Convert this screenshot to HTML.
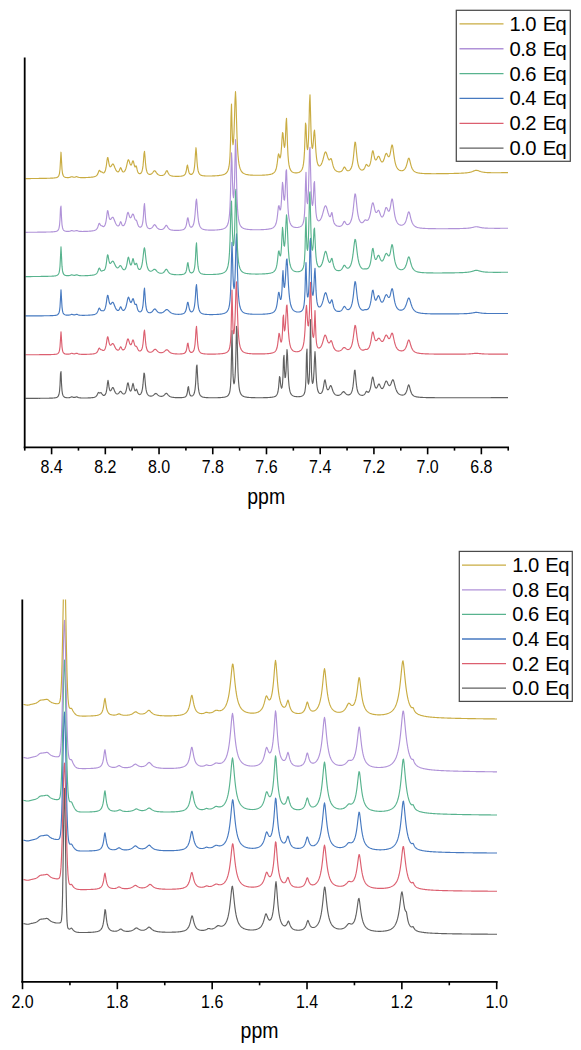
<!DOCTYPE html><html><head><meta charset="utf-8"><style>html,body{margin:0;padding:0;background:#fff;}svg{display:block;}text{font-family:"Liberation Sans",sans-serif;fill:#000;}</style></head><body>
<svg width="581" height="1050" viewBox="0 0 581 1050">
<rect width="581" height="1050" fill="#fff"/>
<defs><filter id="bl" x="-5%" y="-5%" width="110%" height="110%"><feGaussianBlur stdDeviation="0.4"/></filter><clipPath id="ct"><rect x="25" y="57" width="484" height="390"/></clipPath><clipPath id="cb"><rect x="23" y="599.4" width="475" height="382"/></clipPath></defs>
<g clip-path="url(#ct)" fill="none" stroke-width="1.15" stroke-linejoin="round" filter="url(#bl)">
<path d="M25.50,398.35 L26.00,398.35 L26.50,398.35 L27.00,398.34 L27.50,398.34 L28.00,398.34 L28.50,398.34 L29.00,398.34 L29.50,398.34 L30.00,398.34 L30.50,398.33 L31.00,398.33 L31.50,398.33 L32.00,398.33 L32.50,398.33 L33.00,398.33 L33.50,398.32 L34.00,398.32 L34.50,398.32 L35.00,398.32 L35.50,398.32 L36.00,398.32 L36.50,398.31 L37.00,398.31 L37.50,398.31 L38.00,398.31 L38.50,398.30 L39.00,398.30 L39.50,398.30 L40.00,398.30 L40.50,398.29 L41.00,398.29 L41.50,398.29 L42.00,398.28 L42.50,398.28 L43.00,398.28 L43.50,398.27 L44.00,398.27 L44.50,398.26 L45.00,398.26 L45.50,398.25 L46.00,398.25 L46.50,398.24 L47.00,398.23 L47.50,398.23 L48.00,398.22 L48.50,398.21 L49.00,398.20 L49.50,398.19 L50.00,398.17 L50.50,398.16 L51.00,398.14 L51.50,398.13 L52.00,398.10 L52.50,398.08 L53.00,398.05 L53.50,398.01 L54.00,397.97 L54.50,397.91 L55.00,397.84 L55.50,397.76 L56.00,397.64 L56.50,397.49 L57.00,397.27 L57.50,396.96 L58.00,396.47 L58.50,395.68 L59.00,394.27 L59.50,391.48 L60.00,385.34 L60.50,373.73 L61.00,371.55 L61.50,383.42 L62.00,390.59 L62.50,393.83 L63.00,395.42 L63.50,396.29 L64.00,396.81 L64.50,397.14 L65.00,397.36 L65.50,397.50 L66.00,397.61 L66.50,397.68 L67.00,397.72 L67.50,397.74 L68.00,397.75 L68.50,397.73 L69.00,397.68 L69.50,397.60 L70.00,397.47 L70.50,397.28 L71.00,397.05 L71.50,396.88 L72.00,396.88 L72.50,397.04 L73.00,397.24 L73.50,397.37 L74.00,397.43 L74.50,397.42 L75.00,397.33 L75.50,397.17 L76.00,396.97 L76.50,396.85 L77.00,396.92 L77.50,397.14 L78.00,397.38 L78.50,397.57 L79.00,397.70 L79.50,397.80 L80.00,397.86 L80.50,397.90 L81.00,397.94 L81.50,397.96 L82.00,397.97 L82.50,397.98 L83.00,397.99 L83.50,397.99 L84.00,397.99 L84.50,397.99 L85.00,397.99 L85.50,397.98 L86.00,397.98 L86.50,397.97 L87.00,397.96 L87.50,397.95 L88.00,397.93 L88.50,397.91 L89.00,397.89 L89.50,397.87 L90.00,397.85 L90.50,397.82 L91.00,397.78 L91.50,397.74 L92.00,397.69 L92.50,397.63 L93.00,397.56 L93.50,397.48 L94.00,397.37 L94.50,397.23 L95.00,397.04 L95.50,396.79 L96.00,396.43 L96.50,395.91 L97.00,395.17 L97.50,394.14 L98.00,393.03 L98.50,392.42 L99.00,392.61 L99.50,393.01 L100.00,393.07 L100.50,392.77 L101.00,392.61 L101.50,393.10 L102.00,393.96 L102.50,394.70 L103.00,395.16 L103.50,395.37 L104.00,395.38 L104.50,395.20 L105.00,394.81 L105.50,394.12 L106.00,392.96 L106.50,390.99 L107.00,387.70 L107.50,383.11 L108.00,380.40 L108.50,382.95 L109.00,386.94 L109.50,389.48 L110.00,390.63 L110.50,390.84 L111.00,390.41 L111.50,389.54 L112.00,388.48 L112.50,387.65 L113.00,387.50 L113.50,388.20 L114.00,389.42 L114.50,390.75 L115.00,391.90 L115.50,392.78 L116.00,393.40 L116.50,393.78 L117.00,393.97 L117.50,393.96 L118.00,393.77 L118.50,393.38 L119.00,392.81 L119.50,392.14 L120.00,391.55 L120.50,391.31 L121.00,391.54 L121.50,392.13 L122.00,392.81 L122.50,393.40 L123.00,393.81 L123.50,394.02 L124.00,394.02 L124.50,393.80 L125.00,393.31 L125.50,392.45 L126.00,391.09 L126.50,389.03 L127.00,386.27 L127.50,383.58 L128.00,382.75 L128.50,384.48 L129.00,387.13 L129.50,389.28 L130.00,390.57 L130.50,391.05 L131.00,390.77 L131.50,389.63 L132.00,387.52 L132.50,384.83 L133.00,383.40 L133.50,384.84 L134.00,387.57 L134.50,389.67 L135.00,390.69 L135.50,390.68 L136.00,389.86 L136.50,389.21 L137.00,390.08 L137.50,391.81 L138.00,393.19 L138.50,394.02 L139.00,394.45 L139.50,394.60 L140.00,394.51 L140.50,394.19 L141.00,393.60 L141.50,392.60 L142.00,390.99 L142.50,388.37 L143.00,384.18 L143.50,378.24 L144.00,373.00 L144.50,373.73 L145.00,379.56 L145.50,385.29 L146.00,389.19 L146.50,391.65 L147.00,393.21 L147.50,394.23 L148.00,394.91 L148.50,395.38 L149.00,395.70 L149.50,395.91 L150.00,396.04 L150.50,396.11 L151.00,396.11 L151.50,396.06 L152.00,395.94 L152.50,395.75 L153.00,395.48 L153.50,395.13 L154.00,394.69 L154.50,394.20 L155.00,393.75 L155.50,393.45 L156.00,393.42 L156.50,393.68 L157.00,394.13 L157.50,394.64 L158.00,395.11 L158.50,395.51 L159.00,395.82 L159.50,396.05 L160.00,396.20 L160.50,396.30 L161.00,396.34 L161.50,396.33 L162.00,396.26 L162.50,396.13 L163.00,395.93 L163.50,395.65 L164.00,395.27 L164.50,394.79 L165.00,394.24 L165.50,393.72 L166.00,393.36 L166.50,393.33 L167.00,393.64 L167.50,394.17 L168.00,394.78 L168.50,395.34 L169.00,395.81 L169.50,396.19 L170.00,396.49 L170.50,396.73 L171.00,396.92 L171.50,397.07 L172.00,397.19 L172.50,397.29 L173.00,397.37 L173.50,397.43 L174.00,397.48 L174.50,397.53 L175.00,397.57 L175.50,397.60 L176.00,397.62 L176.50,397.64 L177.00,397.65 L177.50,397.67 L178.00,397.67 L178.50,397.68 L179.00,397.68 L179.50,397.67 L180.00,397.66 L180.50,397.65 L181.00,397.63 L181.50,397.61 L182.00,397.58 L182.50,397.54 L183.00,397.48 L183.50,397.41 L184.00,397.31 L184.50,397.18 L185.00,396.99 L185.50,396.70 L186.00,396.25 L186.50,395.47 L187.00,394.05 L187.50,391.34 L188.00,387.30 L188.50,386.67 L189.00,390.49 L189.50,393.41 L190.00,394.88 L190.50,395.60 L191.00,395.92 L191.50,396.02 L192.00,395.96 L192.50,395.75 L193.00,395.37 L193.50,394.76 L194.00,393.80 L194.50,392.24 L195.00,389.60 L195.50,384.92 L196.00,376.80 L196.50,366.45 L197.00,364.98 L197.50,374.74 L198.00,383.67 L198.50,388.96 L199.00,391.95 L199.50,393.73 L200.00,394.84 L200.50,395.57 L201.00,396.08 L201.50,396.45 L202.00,396.72 L202.50,396.92 L203.00,397.08 L203.50,397.21 L204.00,397.31 L204.50,397.39 L205.00,397.46 L205.50,397.51 L206.00,397.56 L206.50,397.60 L207.00,397.63 L207.50,397.66 L208.00,397.68 L208.50,397.70 L209.00,397.71 L209.50,397.73 L210.00,397.74 L210.50,397.75 L211.00,397.75 L211.50,397.76 L212.00,397.76 L212.50,397.76 L213.00,397.76 L213.50,397.76 L214.00,397.76 L214.50,397.76 L215.00,397.75 L215.50,397.74 L216.00,397.74 L216.50,397.73 L217.00,397.71 L217.50,397.70 L218.00,397.69 L218.50,397.67 L219.00,397.65 L219.50,397.63 L220.00,397.60 L220.50,397.57 L221.00,397.54 L221.50,397.50 L222.00,397.46 L222.50,397.41 L223.00,397.35 L223.50,397.29 L224.00,397.21 L224.50,397.12 L225.00,397.01 L225.50,396.88 L226.00,396.72 L226.50,396.53 L227.00,396.28 L227.50,395.96 L228.00,395.54 L228.50,394.94 L229.00,394.08 L229.50,392.75 L230.00,390.51 L230.50,386.28 L231.00,377.06 L231.50,355.18 L232.00,330.50 L232.50,354.42 L233.00,374.66 L233.50,382.02 L234.00,383.79 L234.50,382.32 L235.00,377.49 L235.50,367.33 L236.00,348.55 L236.50,326.35 L237.00,329.86 L237.50,353.63 L238.00,371.28 L238.50,381.08 L239.00,386.56 L239.50,389.81 L240.00,391.87 L240.50,393.25 L241.00,394.21 L241.50,394.90 L242.00,395.42 L242.50,395.82 L243.00,396.13 L243.50,396.38 L244.00,396.58 L244.50,396.75 L245.00,396.88 L245.50,397.00 L246.00,397.10 L246.50,397.18 L247.00,397.25 L247.50,397.31 L248.00,397.37 L248.50,397.41 L249.00,397.46 L249.50,397.49 L250.00,397.52 L250.50,397.55 L251.00,397.58 L251.50,397.60 L252.00,397.62 L252.50,397.64 L253.00,397.65 L253.50,397.66 L254.00,397.68 L254.50,397.69 L255.00,397.69 L255.50,397.70 L256.00,397.71 L256.50,397.71 L257.00,397.72 L257.50,397.72 L258.00,397.72 L258.50,397.73 L259.00,397.73 L259.50,397.73 L260.00,397.72 L260.50,397.72 L261.00,397.72 L261.50,397.72 L262.00,397.71 L262.50,397.70 L263.00,397.70 L263.50,397.69 L264.00,397.68 L264.50,397.67 L265.00,397.66 L265.50,397.65 L266.00,397.63 L266.50,397.62 L267.00,397.60 L267.50,397.58 L268.00,397.55 L268.50,397.53 L269.00,397.50 L269.50,397.47 L270.00,397.43 L270.50,397.39 L271.00,397.34 L271.50,397.28 L272.00,397.22 L272.50,397.14 L273.00,397.05 L273.50,396.94 L274.00,396.81 L274.50,396.64 L275.00,396.43 L275.50,396.16 L276.00,395.80 L276.50,395.29 L277.00,394.54 L277.50,393.39 L278.00,391.49 L278.50,388.18 L279.00,382.62 L279.50,376.62 L280.00,377.51 L280.50,383.12 L281.00,386.89 L281.50,388.19 L282.00,387.43 L282.50,384.03 L283.00,375.44 L283.50,358.55 L284.00,355.31 L284.50,370.55 L285.00,377.56 L285.50,377.27 L286.00,371.35 L286.50,359.88 L287.00,349.61 L287.50,354.94 L288.00,368.86 L288.50,379.31 L289.00,385.52 L289.50,389.18 L290.00,391.44 L290.50,392.91 L291.00,393.91 L291.50,394.62 L292.00,395.13 L292.50,395.52 L293.00,395.81 L293.50,396.04 L294.00,396.22 L294.50,396.36 L295.00,396.46 L295.50,396.55 L296.00,396.61 L296.50,396.66 L297.00,396.68 L297.50,396.70 L298.00,396.70 L298.50,396.69 L299.00,396.66 L299.50,396.62 L300.00,396.56 L300.50,396.47 L301.00,396.36 L301.50,396.22 L302.00,396.03 L302.50,395.78 L303.00,395.44 L303.50,394.95 L304.00,394.23 L304.50,393.07 L305.00,391.03 L305.50,386.92 L306.00,377.18 L306.50,354.34 L307.00,349.12 L307.50,372.30 L308.00,382.11 L308.50,384.19 L309.00,381.71 L309.50,372.69 L310.00,348.55 L310.50,319.50 L311.00,348.31 L311.50,372.08 L312.00,380.85 L312.50,383.45 L313.00,382.77 L313.50,379.05 L314.00,371.26 L314.50,359.24 L315.00,351.69 L315.50,359.67 L316.00,372.39 L316.50,381.14 L317.00,386.24 L317.50,389.24 L318.00,391.06 L318.50,392.19 L319.00,392.89 L319.50,393.30 L320.00,393.49 L320.50,393.49 L321.00,393.29 L321.50,392.86 L322.00,392.15 L322.50,391.03 L323.00,389.33 L323.50,386.87 L324.00,383.68 L324.50,380.67 L325.00,379.76 L325.50,381.65 L326.00,384.62 L326.50,387.13 L327.00,388.76 L327.50,389.61 L328.00,389.81 L328.50,389.49 L329.00,388.70 L329.50,387.57 L330.00,386.36 L330.50,385.57 L331.00,385.65 L331.50,386.66 L332.00,388.21 L332.50,389.81 L333.00,391.21 L333.50,392.33 L334.00,393.20 L334.50,393.85 L335.00,394.34 L335.50,394.71 L336.00,394.98 L336.50,395.17 L337.00,395.30 L337.50,395.37 L338.00,395.38 L338.50,395.34 L339.00,395.24 L339.50,395.08 L340.00,394.84 L340.50,394.52 L341.00,394.09 L341.50,393.57 L342.00,392.96 L342.50,392.35 L343.00,391.86 L343.50,391.65 L344.00,391.80 L344.50,392.24 L345.00,392.82 L345.50,393.40 L346.00,393.90 L346.50,394.30 L347.00,394.59 L347.50,394.77 L348.00,394.87 L348.50,394.89 L349.00,394.81 L349.50,394.64 L350.00,394.36 L350.50,393.94 L351.00,393.32 L351.50,392.42 L352.00,391.10 L352.50,389.13 L353.00,386.16 L353.50,381.77 L354.00,375.97 L354.50,370.72 L355.00,370.11 L355.50,374.76 L356.00,380.71 L356.50,385.43 L357.00,388.66 L357.50,390.81 L358.00,392.26 L358.50,393.25 L359.00,393.95 L359.50,394.44 L360.00,394.79 L360.50,395.04 L361.00,395.20 L361.50,395.30 L362.00,395.34 L362.50,395.32 L363.00,395.23 L363.50,395.07 L364.00,394.80 L364.50,394.38 L365.00,393.74 L365.50,392.81 L366.00,391.77 L366.50,391.24 L367.00,391.55 L367.50,392.09 L368.00,392.34 L368.50,392.22 L369.00,391.74 L369.50,390.89 L370.00,389.61 L370.50,387.79 L371.00,385.32 L371.50,382.26 L372.00,379.11 L372.50,377.09 L373.00,377.33 L373.50,379.53 L374.00,382.37 L374.50,384.84 L375.00,386.60 L375.50,387.65 L376.00,388.09 L376.50,388.00 L377.00,387.42 L377.50,386.45 L378.00,385.27 L378.50,384.28 L379.00,383.97 L379.50,384.51 L380.00,385.61 L380.50,386.80 L381.00,387.75 L381.50,388.36 L382.00,388.59 L382.50,388.46 L383.00,387.99 L383.50,387.18 L384.00,386.05 L384.50,384.66 L385.00,383.17 L385.50,381.85 L386.00,381.05 L386.50,381.01 L387.00,381.67 L387.50,382.76 L388.00,383.91 L388.50,384.86 L389.00,385.47 L389.50,385.67 L390.00,385.43 L390.50,384.75 L391.00,383.68 L391.50,382.31 L392.00,380.91 L392.50,379.89 L393.00,379.69 L393.50,380.48 L394.00,382.09 L394.50,384.08 L395.00,386.08 L395.50,387.88 L396.00,389.39 L396.50,390.63 L397.00,391.63 L397.50,392.43 L398.00,393.07 L398.50,393.59 L399.00,394.00 L399.50,394.33 L400.00,394.59 L400.50,394.80 L401.00,394.94 L401.50,395.04 L402.00,395.10 L402.50,395.10 L403.00,395.05 L403.50,394.94 L404.00,394.75 L404.50,394.46 L405.00,394.05 L405.50,393.46 L406.00,392.64 L406.50,391.50 L407.00,389.98 L407.50,388.10 L408.00,386.17 L408.50,384.92 L409.00,385.08 L409.50,386.56 L410.00,388.60 L410.50,390.52 L411.00,392.07 L411.50,393.25 L412.00,394.12 L412.50,394.78 L413.00,395.28 L413.50,395.67 L414.00,395.97 L414.50,396.21 L415.00,396.41 L415.50,396.57 L416.00,396.70 L416.50,396.82 L417.00,396.91 L417.50,397.00 L418.00,397.07 L418.50,397.13 L419.00,397.18 L419.50,397.23 L420.00,397.28 L420.50,397.31 L421.00,397.35 L421.50,397.38 L422.00,397.41 L422.50,397.43 L423.00,397.46 L423.50,397.48 L424.00,397.50 L424.50,397.51 L425.00,397.53 L425.50,397.54 L426.00,397.56 L426.50,397.57 L427.00,397.58 L427.50,397.59 L428.00,397.60 L428.50,397.61 L429.00,397.62 L429.50,397.63 L430.00,397.64 L430.50,397.65 L431.00,397.65 L431.50,397.66 L432.00,397.67 L432.50,397.67 L433.00,397.68 L433.50,397.68 L434.00,397.69 L434.50,397.69 L435.00,397.70 L435.50,397.70 L436.00,397.71 L436.50,397.71 L437.00,397.71 L437.50,397.72 L438.00,397.72 L438.50,397.72 L439.00,397.72 L439.50,397.73 L440.00,397.73 L440.50,397.73 L441.00,397.73 L441.50,397.74 L442.00,397.74 L442.50,397.74 L443.00,397.74 L443.50,397.74 L444.00,397.74 L444.50,397.74 L445.00,397.75 L445.50,397.75 L446.00,397.75 L446.50,397.75 L447.00,397.75 L447.50,397.75 L448.00,397.75 L448.50,397.75 L449.00,397.75 L449.50,397.75 L450.00,397.75 L450.50,397.75 L451.00,397.75 L451.50,397.75 L452.00,397.76 L452.50,397.76 L453.00,397.76 L453.50,397.76 L454.00,397.76 L454.50,397.76 L455.00,397.76 L455.50,397.76 L456.00,397.76 L456.50,397.76 L457.00,397.76 L457.50,397.75 L458.00,397.75 L458.50,397.75 L459.00,397.75 L459.50,397.75 L460.00,397.75 L460.50,397.75 L461.00,397.75 L461.50,397.75 L462.00,397.75 L462.50,397.75 L463.00,397.75 L463.50,397.75 L464.00,397.75 L464.50,397.75 L465.00,397.75 L465.50,397.75 L466.00,397.75 L466.50,397.75 L467.00,397.75 L467.50,397.74 L468.00,397.74 L468.50,397.74 L469.00,397.74 L469.50,397.74 L470.00,397.74 L470.50,397.74 L471.00,397.74 L471.50,397.74 L472.00,397.74 L472.50,397.74 L473.00,397.74 L473.50,397.73 L474.00,397.73 L474.50,397.73 L475.00,397.73 L475.50,397.73 L476.00,397.73 L476.50,397.73 L477.00,397.73 L477.50,397.73 L478.00,397.73 L478.50,397.72 L479.00,397.72 L479.50,397.72 L480.00,397.72 L480.50,397.72 L481.00,397.72 L481.50,397.72 L482.00,397.72 L482.50,397.72 L483.00,397.71 L483.50,397.71 L484.00,397.71 L484.50,397.71 L485.00,397.71 L485.50,397.71 L486.00,397.71 L486.50,397.71 L487.00,397.70 L487.50,397.70 L488.00,397.70 L488.50,397.70 L489.00,397.70 L489.50,397.70 L490.00,397.70 L490.50,397.70 L491.00,397.69 L491.50,397.69 L492.00,397.69 L492.50,397.69 L493.00,397.69 L493.50,397.69 L494.00,397.69 L494.50,397.68 L495.00,397.68 L495.50,397.68 L496.00,397.68 L496.50,397.68 L497.00,397.68 L497.50,397.68 L498.00,397.68 L498.50,397.67 L499.00,397.67 L499.50,397.67 L500.00,397.67 L500.50,397.67 L501.00,397.67 L501.50,397.67 L502.00,397.66 L502.50,397.66 L503.00,397.66 L503.50,397.66 L504.00,397.66 L504.50,397.66 L505.00,397.66 L505.50,397.66 L506.00,397.66 L506.50,397.66 L507.00,397.66 L507.50,397.66 L508.00,397.66" stroke="#606060"/>
<path d="M25.50,354.74 L26.00,354.74 L26.50,354.73 L27.00,354.73 L27.50,354.73 L28.00,354.73 L28.50,354.73 L29.00,354.73 L29.50,354.73 L30.00,354.73 L30.50,354.72 L31.00,354.72 L31.50,354.72 L32.00,354.72 L32.50,354.72 L33.00,354.72 L33.50,354.72 L34.00,354.71 L34.50,354.71 L35.00,354.71 L35.50,354.71 L36.00,354.71 L36.50,354.71 L37.00,354.70 L37.50,354.70 L38.00,354.70 L38.50,354.70 L39.00,354.70 L39.50,354.69 L40.00,354.69 L40.50,354.69 L41.00,354.69 L41.50,354.68 L42.00,354.68 L42.50,354.68 L43.00,354.67 L43.50,354.67 L44.00,354.67 L44.50,354.66 L45.00,354.66 L45.50,354.65 L46.00,354.65 L46.50,354.64 L47.00,354.64 L47.50,354.63 L48.00,354.63 L48.50,354.62 L49.00,354.61 L49.50,354.60 L50.00,354.59 L50.50,354.58 L51.00,354.57 L51.50,354.55 L52.00,354.54 L52.50,354.52 L53.00,354.49 L53.50,354.47 L54.00,354.43 L54.50,354.39 L55.00,354.34 L55.50,354.28 L56.00,354.20 L56.50,354.09 L57.00,353.94 L57.50,353.73 L58.00,353.41 L58.50,352.90 L59.00,352.03 L59.50,350.37 L60.00,346.86 L60.50,339.28 L61.00,331.90 L61.50,339.27 L62.00,346.84 L62.50,350.34 L63.00,351.98 L63.50,352.85 L64.00,353.34 L64.50,353.65 L65.00,353.85 L65.50,353.98 L66.00,354.07 L66.50,354.13 L67.00,354.16 L67.50,354.18 L68.00,354.17 L68.50,354.15 L69.00,354.10 L69.50,354.01 L70.00,353.88 L70.50,353.69 L71.00,353.46 L71.50,353.29 L72.00,353.29 L72.50,353.45 L73.00,353.64 L73.50,353.77 L74.00,353.83 L74.50,353.82 L75.00,353.74 L75.50,353.58 L76.00,353.38 L76.50,353.26 L77.00,353.33 L77.50,353.55 L78.00,353.78 L78.50,353.96 L79.00,354.08 L79.50,354.17 L80.00,354.23 L80.50,354.27 L81.00,354.30 L81.50,354.32 L82.00,354.34 L82.50,354.34 L83.00,354.35 L83.50,354.35 L84.00,354.35 L84.50,354.35 L85.00,354.34 L85.50,354.33 L86.00,354.32 L86.50,354.31 L87.00,354.30 L87.50,354.28 L88.00,354.27 L88.50,354.25 L89.00,354.23 L89.50,354.20 L90.00,354.18 L90.50,354.15 L91.00,354.11 L91.50,354.07 L92.00,354.03 L92.50,353.97 L93.00,353.91 L93.50,353.83 L94.00,353.74 L94.50,353.63 L95.00,353.49 L95.50,353.30 L96.00,353.06 L96.50,352.72 L97.00,352.24 L97.50,351.55 L98.00,350.56 L98.50,349.33 L99.00,348.30 L99.50,348.18 L100.00,348.84 L100.50,349.48 L101.00,349.75 L101.50,349.74 L102.00,349.83 L102.50,350.15 L103.00,350.45 L103.50,350.52 L104.00,350.33 L104.50,349.84 L105.00,348.99 L105.50,347.67 L106.00,345.67 L106.50,342.81 L107.00,339.33 L107.50,336.76 L108.00,337.04 L108.50,339.61 L109.00,342.32 L109.50,344.15 L110.00,345.09 L110.50,345.34 L111.00,345.10 L111.50,344.57 L112.00,343.96 L112.50,343.55 L113.00,343.56 L113.50,344.08 L114.00,344.98 L114.50,346.06 L115.00,347.14 L115.50,348.08 L116.00,348.85 L116.50,349.44 L117.00,349.86 L117.50,350.11 L118.00,350.17 L118.50,350.03 L119.00,349.60 L119.50,348.82 L120.00,347.73 L120.50,346.88 L121.00,347.08 L121.50,348.09 L122.00,349.05 L122.50,349.65 L123.00,349.89 L123.50,349.85 L124.00,349.56 L124.50,349.03 L125.00,348.20 L125.50,347.03 L126.00,345.44 L126.50,343.45 L127.00,341.26 L127.50,339.46 L128.00,338.83 L128.50,339.61 L129.00,341.25 L129.50,342.92 L130.00,344.15 L130.50,344.75 L131.00,344.66 L131.50,343.85 L132.00,342.39 L132.50,340.74 L133.00,339.92 L133.50,340.72 L134.00,342.60 L134.50,344.47 L135.00,345.73 L135.50,346.27 L136.00,346.30 L136.50,346.43 L137.00,347.24 L137.50,348.47 L138.00,349.54 L138.50,350.29 L139.00,350.75 L139.50,350.98 L140.00,351.02 L140.50,350.88 L141.00,350.52 L141.50,349.87 L142.00,348.76 L142.50,346.91 L143.00,343.77 L143.50,338.69 L144.00,332.38 L144.50,330.07 L145.00,334.87 L145.50,341.09 L146.00,345.41 L146.50,348.04 L147.00,349.63 L147.50,350.64 L148.00,351.28 L148.50,351.70 L149.00,351.97 L149.50,352.13 L150.00,352.21 L150.50,352.21 L151.00,352.13 L151.50,351.98 L152.00,351.75 L152.50,351.43 L153.00,351.01 L153.50,350.50 L154.00,349.96 L154.50,349.48 L155.00,349.21 L155.50,349.25 L156.00,349.60 L156.50,350.12 L157.00,350.69 L157.50,351.21 L158.00,351.65 L158.50,352.00 L159.00,352.26 L159.50,352.46 L160.00,352.59 L160.50,352.67 L161.00,352.70 L161.50,352.69 L162.00,352.62 L162.50,352.51 L163.00,352.34 L163.50,352.10 L164.00,351.79 L164.50,351.39 L165.00,350.93 L165.50,350.43 L166.00,349.99 L166.50,349.72 L167.00,349.72 L167.50,349.99 L168.00,350.45 L168.50,350.98 L169.00,351.51 L169.50,351.97 L170.00,352.35 L170.50,352.67 L171.00,352.92 L171.50,353.13 L172.00,353.29 L172.50,353.43 L173.00,353.54 L173.50,353.63 L174.00,353.70 L174.50,353.76 L175.00,353.82 L175.50,353.86 L176.00,353.89 L176.50,353.92 L177.00,353.94 L177.50,353.96 L178.00,353.97 L178.50,353.97 L179.00,353.97 L179.50,353.96 L180.00,353.95 L180.50,353.93 L181.00,353.91 L181.50,353.87 L182.00,353.82 L182.50,353.76 L183.00,353.67 L183.50,353.55 L184.00,353.39 L184.50,353.15 L185.00,352.80 L185.50,352.25 L186.00,351.35 L186.50,349.77 L187.00,347.07 L187.50,343.69 L188.00,343.21 L188.50,346.32 L189.00,349.16 L189.50,350.81 L190.00,351.70 L190.50,352.16 L191.00,352.38 L191.50,352.42 L192.00,352.32 L192.50,352.07 L193.00,351.63 L193.50,350.92 L194.00,349.75 L194.50,347.79 L195.00,344.34 L195.50,338.30 L196.00,329.80 L196.50,326.36 L197.00,333.27 L197.50,341.16 L198.00,346.07 L198.50,348.86 L199.00,350.50 L199.50,351.52 L200.00,352.19 L200.50,352.65 L201.00,352.98 L201.50,353.22 L202.00,353.41 L202.50,353.55 L203.00,353.66 L203.50,353.75 L204.00,353.82 L204.50,353.88 L205.00,353.92 L205.50,353.96 L206.00,353.99 L206.50,354.02 L207.00,354.04 L207.50,354.06 L208.00,354.08 L208.50,354.09 L209.00,354.10 L209.50,354.11 L210.00,354.11 L210.50,354.11 L211.00,354.12 L211.50,354.12 L212.00,354.11 L212.50,354.11 L213.00,354.11 L213.50,354.10 L214.00,354.09 L214.50,354.08 L215.00,354.07 L215.50,354.06 L216.00,354.04 L216.50,354.03 L217.00,354.01 L217.50,353.99 L218.00,353.96 L218.50,353.94 L219.00,353.91 L219.50,353.88 L220.00,353.84 L220.50,353.80 L221.00,353.75 L221.50,353.70 L222.00,353.64 L222.50,353.58 L223.00,353.50 L223.50,353.42 L224.00,353.32 L224.50,353.20 L225.00,353.07 L225.50,352.91 L226.00,352.71 L226.50,352.48 L227.00,352.18 L227.50,351.81 L228.00,351.32 L228.50,350.65 L229.00,349.71 L229.50,348.30 L230.00,345.97 L230.50,341.71 L231.00,332.71 L231.50,312.12 L232.00,290.00 L232.50,310.72 L233.00,328.21 L233.50,333.72 L234.00,333.37 L234.50,328.95 L235.00,319.94 L235.50,305.28 L236.00,287.94 L236.50,281.85 L237.00,294.82 L237.50,312.84 L238.00,326.28 L238.50,334.87 L239.00,340.30 L239.50,343.84 L240.00,346.22 L240.50,347.90 L241.00,349.11 L241.50,350.02 L242.00,350.71 L242.50,351.25 L243.00,351.68 L243.50,352.02 L244.00,352.30 L244.50,352.54 L245.00,352.73 L245.50,352.90 L246.00,353.04 L246.50,353.16 L247.00,353.26 L247.50,353.35 L248.00,353.43 L248.50,353.49 L249.00,353.55 L249.50,353.61 L250.00,353.65 L250.50,353.69 L251.00,353.73 L251.50,353.76 L252.00,353.79 L252.50,353.81 L253.00,353.83 L253.50,353.85 L254.00,353.87 L254.50,353.88 L255.00,353.90 L255.50,353.91 L256.00,353.92 L256.50,353.92 L257.00,353.93 L257.50,353.93 L258.00,353.93 L258.50,353.94 L259.00,353.93 L259.50,353.93 L260.00,353.93 L260.50,353.92 L261.00,353.92 L261.50,353.91 L262.00,353.90 L262.50,353.89 L263.00,353.88 L263.50,353.86 L264.00,353.85 L264.50,353.83 L265.00,353.81 L265.50,353.79 L266.00,353.76 L266.50,353.73 L267.00,353.70 L267.50,353.67 L268.00,353.63 L268.50,353.58 L269.00,353.53 L269.50,353.48 L270.00,353.41 L270.50,353.34 L271.00,353.25 L271.50,353.15 L272.00,353.04 L272.50,352.90 L273.00,352.74 L273.50,352.54 L274.00,352.29 L274.50,351.98 L275.00,351.58 L275.50,351.05 L276.00,350.32 L276.50,349.29 L277.00,347.77 L277.50,345.46 L278.00,341.95 L278.50,337.26 L279.00,333.42 L279.50,333.87 L280.00,337.48 L280.50,340.64 L281.00,342.09 L281.50,341.70 L282.00,338.86 L282.50,331.52 L283.00,317.74 L283.50,315.11 L284.00,326.27 L284.50,330.88 L285.00,329.46 L285.50,323.73 L286.00,314.69 L286.50,306.00 L287.00,304.98 L287.50,313.19 L288.00,323.85 L288.50,332.37 L289.00,338.25 L289.50,342.19 L290.00,344.86 L290.50,346.71 L291.00,348.04 L291.50,349.00 L292.00,349.72 L292.50,350.27 L293.00,350.68 L293.50,351.00 L294.00,351.25 L294.50,351.43 L295.00,351.56 L295.50,351.66 L296.00,351.71 L296.50,351.73 L297.00,351.72 L297.50,351.68 L298.00,351.60 L298.50,351.49 L299.00,351.33 L299.50,351.13 L300.00,350.86 L300.50,350.52 L301.00,350.08 L301.50,349.51 L302.00,348.76 L302.50,347.74 L303.00,346.34 L303.50,344.34 L304.00,341.39 L304.50,336.90 L305.00,329.96 L305.50,319.89 L306.00,308.99 L306.50,305.44 L307.00,312.13 L307.50,320.63 L308.00,325.50 L308.50,325.87 L309.00,321.28 L309.50,310.32 L310.00,293.18 L310.50,282.40 L311.00,293.60 L311.50,312.35 L312.00,325.54 L312.50,333.03 L313.00,336.71 L313.50,337.40 L314.00,334.15 L314.50,323.26 L315.00,310.50 L315.50,324.21 L316.00,337.25 L316.50,342.99 L317.00,345.63 L317.50,346.96 L318.00,347.66 L318.50,347.98 L319.00,348.04 L319.50,347.91 L320.00,347.59 L320.50,347.09 L321.00,346.39 L321.50,345.46 L322.00,344.28 L322.50,342.83 L323.00,341.12 L323.50,339.24 L324.00,337.39 L324.50,335.89 L325.00,335.11 L325.50,335.26 L326.00,336.25 L326.50,337.76 L327.00,339.38 L327.50,340.85 L328.00,341.98 L328.50,342.69 L329.00,342.94 L329.50,342.71 L330.00,342.05 L330.50,341.18 L331.00,340.61 L331.50,340.91 L332.00,342.18 L332.50,343.92 L333.00,345.62 L333.50,347.04 L334.00,348.14 L334.50,348.98 L335.00,349.61 L335.50,350.09 L336.00,350.44 L336.50,350.70 L337.00,350.88 L337.50,351.01 L338.00,351.07 L338.50,351.08 L339.00,351.04 L339.50,350.94 L340.00,350.78 L340.50,350.54 L341.00,350.23 L341.50,349.83 L342.00,349.34 L342.50,348.78 L343.00,348.21 L343.50,347.73 L344.00,347.46 L344.50,347.48 L345.00,347.75 L345.50,348.18 L346.00,348.63 L346.50,349.02 L347.00,349.31 L347.50,349.50 L348.00,349.56 L348.50,349.51 L349.00,349.33 L349.50,349.03 L350.00,348.58 L350.50,347.94 L351.00,347.07 L351.50,345.90 L352.00,344.33 L352.50,342.23 L353.00,339.46 L353.50,335.94 L354.00,331.84 L354.50,327.88 L355.00,325.43 L355.50,325.72 L356.00,328.59 L356.50,332.68 L357.00,336.71 L357.50,340.09 L358.00,342.73 L358.50,344.73 L359.00,346.24 L359.50,347.37 L360.00,348.23 L360.50,348.87 L361.00,349.35 L361.50,349.71 L362.00,349.95 L362.50,350.09 L363.00,350.13 L363.50,350.08 L364.00,349.92 L364.50,349.68 L365.00,349.47 L365.50,349.40 L366.00,349.44 L366.50,349.47 L367.00,349.39 L367.50,349.16 L368.00,348.78 L368.50,348.23 L369.00,347.45 L369.50,346.40 L370.00,344.97 L370.50,343.05 L371.00,340.56 L371.50,337.52 L372.00,334.39 L372.50,332.20 L373.00,331.96 L373.50,333.60 L374.00,335.99 L374.50,338.15 L375.00,339.67 L375.50,340.52 L376.00,340.78 L376.50,340.58 L377.00,340.05 L377.50,339.35 L378.00,338.68 L378.50,338.25 L379.00,338.19 L379.50,338.54 L380.00,339.19 L380.50,339.96 L381.00,340.67 L381.50,341.21 L382.00,341.48 L382.50,341.44 L383.00,341.07 L383.50,340.37 L384.00,339.36 L384.50,338.11 L385.00,336.81 L385.50,335.70 L386.00,335.07 L386.50,335.08 L387.00,335.70 L387.50,336.64 L388.00,337.60 L388.50,338.33 L389.00,338.66 L389.50,338.50 L390.00,337.81 L390.50,336.63 L391.00,335.16 L391.50,333.78 L392.00,333.07 L392.50,333.49 L393.00,335.05 L393.50,337.32 L394.00,339.75 L394.50,341.98 L395.00,343.87 L395.50,345.42 L396.00,346.65 L396.50,347.63 L397.00,348.42 L397.50,349.04 L398.00,349.54 L398.50,349.93 L399.00,350.24 L399.50,350.49 L400.00,350.67 L400.50,350.79 L401.00,350.87 L401.50,350.89 L402.00,350.86 L402.50,350.78 L403.00,350.63 L403.50,350.40 L404.00,350.08 L404.50,349.64 L405.00,349.06 L405.50,348.29 L406.00,347.29 L406.50,346.02 L407.00,344.48 L407.50,342.76 L408.00,341.14 L408.50,340.07 L409.00,339.98 L409.50,340.92 L410.00,342.54 L410.50,344.36 L411.00,346.04 L411.50,347.47 L412.00,348.63 L412.50,349.55 L413.00,350.28 L413.50,350.86 L414.00,351.33 L414.50,351.70 L415.00,352.01 L415.50,352.27 L416.00,352.49 L416.50,352.67 L417.00,352.82 L417.50,352.95 L418.00,353.07 L418.50,353.17 L419.00,353.26 L419.50,353.34 L420.00,353.41 L420.50,353.47 L421.00,353.52 L421.50,353.57 L422.00,353.61 L422.50,353.65 L423.00,353.69 L423.50,353.72 L424.00,353.75 L424.50,353.78 L425.00,353.81 L425.50,353.83 L426.00,353.85 L426.50,353.87 L427.00,353.89 L427.50,353.91 L428.00,353.93 L428.50,353.94 L429.00,353.96 L429.50,353.97 L430.00,353.98 L430.50,354.00 L431.00,354.01 L431.50,354.02 L432.00,354.03 L432.50,354.04 L433.00,354.04 L433.50,354.05 L434.00,354.06 L434.50,354.07 L435.00,354.07 L435.50,354.08 L436.00,354.09 L436.50,354.09 L437.00,354.10 L437.50,354.10 L438.00,354.11 L438.50,354.11 L439.00,354.12 L439.50,354.12 L440.00,354.12 L440.50,354.13 L441.00,354.13 L441.50,354.14 L442.00,354.14 L442.50,354.14 L443.00,354.14 L443.50,354.15 L444.00,354.15 L444.50,354.15 L445.00,354.15 L445.50,354.15 L446.00,354.16 L446.50,354.16 L447.00,354.16 L447.50,354.16 L448.00,354.16 L448.50,354.16 L449.00,354.16 L449.50,354.16 L450.00,354.16 L450.50,354.16 L451.00,354.16 L451.50,354.16 L452.00,354.16 L452.50,354.16 L453.00,354.16 L453.50,354.16 L454.00,354.16 L454.50,354.16 L455.00,354.16 L455.50,354.16 L456.00,354.16 L456.50,354.15 L457.00,354.15 L457.50,354.15 L458.00,354.15 L458.50,354.14 L459.00,354.14 L459.50,354.14 L460.00,354.13 L460.50,354.13 L461.00,354.13 L461.50,354.12 L462.00,354.12 L462.50,354.11 L463.00,354.10 L463.50,354.10 L464.00,354.09 L464.50,354.08 L465.00,354.07 L465.50,354.06 L466.00,354.04 L466.50,354.03 L467.00,354.02 L467.50,354.00 L468.00,353.98 L468.50,353.96 L469.00,353.93 L469.50,353.90 L470.00,353.87 L470.50,353.84 L471.00,353.80 L471.50,353.75 L472.00,353.70 L472.50,353.65 L473.00,353.59 L473.50,353.53 L474.00,353.47 L474.50,353.41 L475.00,353.36 L475.50,353.32 L476.00,353.30 L476.50,353.30 L477.00,353.32 L477.50,353.35 L478.00,353.40 L478.50,353.45 L479.00,353.51 L479.50,353.57 L480.00,353.63 L480.50,353.68 L481.00,353.73 L481.50,353.78 L482.00,353.82 L482.50,353.85 L483.00,353.88 L483.50,353.91 L484.00,353.93 L484.50,353.95 L485.00,353.97 L485.50,353.99 L486.00,354.00 L486.50,354.02 L487.00,354.03 L487.50,354.04 L488.00,354.05 L488.50,354.05 L489.00,354.06 L489.50,354.07 L490.00,354.07 L490.50,354.08 L491.00,354.08 L491.50,354.09 L492.00,354.09 L492.50,354.09 L493.00,354.10 L493.50,354.10 L494.00,354.10 L494.50,354.10 L495.00,354.10 L495.50,354.11 L496.00,354.11 L496.50,354.11 L497.00,354.11 L497.50,354.11 L498.00,354.11 L498.50,354.11 L499.00,354.11 L499.50,354.11 L500.00,354.11 L500.50,354.11 L501.00,354.11 L501.50,354.11 L502.00,354.11 L502.50,354.11 L503.00,354.11 L503.50,354.11 L504.00,354.11 L504.50,354.11 L505.00,354.11 L505.50,354.11 L506.00,354.11 L506.50,354.11 L507.00,354.12 L507.50,354.12 L508.00,354.12" stroke="#dc5f6f"/>
<path d="M25.50,315.93 L26.00,315.92 L26.50,315.92 L27.00,315.92 L27.50,315.91 L28.00,315.91 L28.50,315.91 L29.00,315.91 L29.50,315.90 L30.00,315.90 L30.50,315.90 L31.00,315.89 L31.50,315.89 L32.00,315.89 L32.50,315.88 L33.00,315.88 L33.50,315.88 L34.00,315.87 L34.50,315.87 L35.00,315.87 L35.50,315.86 L36.00,315.86 L36.50,315.86 L37.00,315.85 L37.50,315.85 L38.00,315.85 L38.50,315.84 L39.00,315.84 L39.50,315.83 L40.00,315.83 L40.50,315.83 L41.00,315.82 L41.50,315.82 L42.00,315.81 L42.50,315.81 L43.00,315.80 L43.50,315.80 L44.00,315.79 L44.50,315.78 L45.00,315.78 L45.50,315.77 L46.00,315.76 L46.50,315.76 L47.00,315.75 L47.50,315.74 L48.00,315.73 L48.50,315.72 L49.00,315.71 L49.50,315.70 L50.00,315.69 L50.50,315.67 L51.00,315.66 L51.50,315.64 L52.00,315.62 L52.50,315.59 L53.00,315.57 L53.50,315.53 L54.00,315.50 L54.50,315.45 L55.00,315.39 L55.50,315.32 L56.00,315.22 L56.50,315.10 L57.00,314.92 L57.50,314.68 L58.00,314.31 L58.50,313.73 L59.00,312.73 L59.50,310.84 L60.00,306.83 L60.50,298.20 L61.00,289.80 L61.50,298.19 L62.00,306.81 L62.50,310.80 L63.00,312.68 L63.50,313.66 L64.00,314.23 L64.50,314.58 L65.00,314.80 L65.50,314.95 L66.00,315.06 L66.50,315.13 L67.00,315.17 L67.50,315.19 L68.00,315.19 L68.50,315.17 L69.00,315.12 L69.50,315.04 L70.00,314.92 L70.50,314.74 L71.00,314.52 L71.50,314.35 L72.00,314.35 L72.50,314.50 L73.00,314.68 L73.50,314.81 L74.00,314.87 L74.50,314.85 L75.00,314.77 L75.50,314.61 L76.00,314.42 L76.50,314.31 L77.00,314.37 L77.50,314.58 L78.00,314.80 L78.50,314.97 L79.00,315.09 L79.50,315.17 L80.00,315.23 L80.50,315.26 L81.00,315.29 L81.50,315.30 L82.00,315.31 L82.50,315.32 L83.00,315.32 L83.50,315.32 L84.00,315.31 L84.50,315.31 L85.00,315.30 L85.50,315.29 L86.00,315.27 L86.50,315.26 L87.00,315.24 L87.50,315.22 L88.00,315.20 L88.50,315.18 L89.00,315.15 L89.50,315.12 L90.00,315.09 L90.50,315.05 L91.00,315.01 L91.50,314.96 L92.00,314.90 L92.50,314.84 L93.00,314.76 L93.50,314.68 L94.00,314.57 L94.50,314.44 L95.00,314.27 L95.50,314.05 L96.00,313.77 L96.50,313.38 L97.00,312.82 L97.50,312.02 L98.00,310.89 L98.50,309.46 L99.00,308.24 L99.50,308.10 L100.00,308.97 L100.50,309.95 L101.00,310.54 L101.50,310.71 L102.00,310.67 L102.50,310.70 L103.00,310.81 L103.50,310.77 L104.00,310.46 L104.50,309.82 L105.00,308.77 L105.50,307.17 L106.00,304.84 L106.50,301.63 L107.00,297.95 L107.50,295.35 L108.00,295.62 L108.50,298.19 L109.00,301.03 L109.50,303.03 L110.00,304.09 L110.50,304.36 L111.00,304.06 L111.50,303.42 L112.00,302.69 L112.50,302.23 L113.00,302.31 L113.50,303.02 L114.00,304.19 L114.50,305.54 L115.00,306.85 L115.50,307.98 L116.00,308.90 L116.50,309.60 L117.00,310.10 L117.50,310.40 L118.00,310.50 L118.50,310.35 L119.00,309.90 L119.50,309.04 L120.00,307.81 L120.50,306.80 L121.00,307.00 L121.50,308.17 L122.00,309.32 L122.50,310.04 L123.00,310.37 L123.50,310.40 L124.00,310.19 L124.50,309.72 L125.00,309.00 L125.50,307.95 L126.00,306.51 L126.50,304.60 L127.00,302.26 L127.50,299.75 L128.00,297.77 L128.50,297.13 L129.00,298.01 L129.50,299.70 L130.00,301.32 L130.50,302.35 L131.00,302.58 L131.50,301.98 L132.00,300.69 L132.50,299.24 L133.00,298.57 L133.50,299.39 L134.00,301.26 L134.50,303.17 L135.00,304.38 L135.50,304.58 L136.00,304.13 L136.50,304.73 L137.00,306.85 L137.50,308.85 L138.00,310.18 L138.50,310.99 L139.00,311.48 L139.50,311.74 L140.00,311.82 L140.50,311.74 L141.00,311.46 L141.50,310.91 L142.00,309.93 L142.50,308.20 L143.00,305.08 L143.50,299.47 L144.00,291.34 L144.50,287.96 L145.00,294.70 L145.50,302.19 L146.00,306.73 L146.50,309.26 L147.00,310.71 L147.50,311.58 L148.00,312.12 L148.50,312.44 L149.00,312.63 L149.50,312.71 L150.00,312.70 L150.50,312.60 L151.00,312.41 L151.50,312.13 L152.00,311.75 L152.50,311.24 L153.00,310.63 L153.50,309.96 L154.00,309.34 L154.50,308.96 L155.00,308.94 L155.50,309.31 L156.00,309.92 L156.50,310.59 L157.00,311.22 L157.50,311.74 L158.00,312.15 L158.50,312.46 L159.00,312.68 L159.50,312.82 L160.00,312.90 L160.50,312.93 L161.00,312.90 L161.50,312.82 L162.00,312.69 L162.50,312.51 L163.00,312.26 L163.50,311.95 L164.00,311.57 L164.50,311.14 L165.00,310.67 L165.50,310.21 L166.00,309.83 L166.50,309.59 L167.00,309.56 L167.50,309.76 L168.00,310.12 L168.50,310.60 L169.00,311.11 L169.50,311.61 L170.00,312.06 L170.50,312.45 L171.00,312.79 L171.50,313.07 L172.00,313.31 L172.50,313.50 L173.00,313.67 L173.50,313.81 L174.00,313.92 L174.50,314.01 L175.00,314.09 L175.50,314.16 L176.00,314.21 L176.50,314.25 L177.00,314.28 L177.50,314.30 L178.00,314.32 L178.50,314.32 L179.00,314.32 L179.50,314.30 L180.00,314.28 L180.50,314.24 L181.00,314.19 L181.50,314.12 L182.00,314.03 L182.50,313.91 L183.00,313.75 L183.50,313.53 L184.00,313.24 L184.50,312.83 L185.00,312.24 L185.50,311.37 L186.00,310.03 L186.50,308.00 L187.00,305.21 L187.50,302.56 L188.00,302.26 L188.50,304.57 L189.00,307.31 L189.50,309.31 L190.00,310.57 L190.50,311.31 L191.00,311.70 L191.50,311.83 L192.00,311.74 L192.50,311.43 L193.00,310.85 L193.50,309.90 L194.00,308.36 L194.50,305.85 L195.00,301.71 L195.50,295.18 L196.00,287.32 L196.50,284.50 L197.00,290.37 L197.50,298.20 L198.00,303.81 L198.50,307.30 L199.00,309.46 L199.50,310.86 L200.00,311.79 L200.50,312.44 L201.00,312.91 L201.50,313.26 L202.00,313.52 L202.50,313.73 L203.00,313.89 L203.50,314.02 L204.00,314.13 L204.50,314.21 L205.00,314.28 L205.50,314.34 L206.00,314.39 L206.50,314.43 L207.00,314.46 L207.50,314.49 L208.00,314.51 L208.50,314.53 L209.00,314.54 L209.50,314.56 L210.00,314.56 L210.50,314.57 L211.00,314.57 L211.50,314.57 L212.00,314.57 L212.50,314.57 L213.00,314.56 L213.50,314.55 L214.00,314.54 L214.50,314.53 L215.00,314.51 L215.50,314.50 L216.00,314.48 L216.50,314.45 L217.00,314.43 L217.50,314.40 L218.00,314.37 L218.50,314.33 L219.00,314.29 L219.50,314.24 L220.00,314.19 L220.50,314.13 L221.00,314.07 L221.50,313.99 L222.00,313.91 L222.50,313.81 L223.00,313.69 L223.50,313.56 L224.00,313.41 L224.50,313.23 L225.00,313.02 L225.50,312.76 L226.00,312.44 L226.50,312.05 L227.00,311.55 L227.50,310.90 L228.00,310.04 L228.50,308.85 L229.00,307.14 L229.50,304.54 L230.00,300.33 L230.50,293.02 L231.00,279.68 L231.50,257.75 L232.00,242.40 L232.50,256.87 L233.00,276.01 L233.50,285.85 L234.00,288.61 L234.50,286.09 L235.00,277.92 L235.50,262.41 L236.00,241.76 L236.50,233.90 L237.00,250.55 L237.50,271.91 L238.00,286.60 L238.50,295.51 L239.00,300.96 L239.50,304.45 L240.00,306.79 L240.50,308.42 L241.00,309.61 L241.50,310.49 L242.00,311.16 L242.50,311.69 L243.00,312.11 L243.50,312.45 L244.00,312.72 L244.50,312.95 L245.00,313.14 L245.50,313.31 L246.00,313.45 L246.50,313.56 L247.00,313.67 L247.50,313.75 L248.00,313.83 L248.50,313.90 L249.00,313.96 L249.50,314.01 L250.00,314.05 L250.50,314.09 L251.00,314.13 L251.50,314.16 L252.00,314.18 L252.50,314.20 L253.00,314.22 L253.50,314.24 L254.00,314.26 L254.50,314.27 L255.00,314.28 L255.50,314.28 L256.00,314.29 L256.50,314.29 L257.00,314.29 L257.50,314.29 L258.00,314.29 L258.50,314.29 L259.00,314.28 L259.50,314.28 L260.00,314.27 L260.50,314.26 L261.00,314.24 L261.50,314.23 L262.00,314.21 L262.50,314.20 L263.00,314.18 L263.50,314.15 L264.00,314.13 L264.50,314.10 L265.00,314.07 L265.50,314.03 L266.00,313.99 L266.50,313.95 L267.00,313.90 L267.50,313.85 L268.00,313.79 L268.50,313.72 L269.00,313.64 L269.50,313.56 L270.00,313.46 L270.50,313.35 L271.00,313.22 L271.50,313.07 L272.00,312.89 L272.50,312.68 L273.00,312.43 L273.50,312.12 L274.00,311.73 L274.50,311.24 L275.00,310.59 L275.50,309.73 L276.00,308.53 L276.50,306.83 L277.00,304.36 L277.50,300.86 L278.00,296.46 L278.50,292.74 L279.00,292.31 L279.50,294.96 L280.00,297.90 L280.50,299.48 L281.00,299.21 L281.50,296.46 L282.00,289.53 L282.50,276.72 L283.00,270.47 L283.50,280.29 L284.00,286.94 L284.50,287.44 L285.00,283.70 L285.50,276.65 L286.00,267.49 L286.50,259.80 L287.00,258.91 L287.50,265.91 L288.00,276.17 L288.50,285.48 L289.00,292.57 L289.50,297.66 L290.00,301.28 L290.50,303.89 L291.00,305.81 L291.50,307.24 L292.00,308.32 L292.50,309.16 L293.00,309.82 L293.50,310.34 L294.00,310.76 L294.50,311.09 L295.00,311.35 L295.50,311.57 L296.00,311.73 L296.50,311.86 L297.00,311.95 L297.50,312.00 L298.00,312.03 L298.50,312.03 L299.00,311.99 L299.50,311.92 L300.00,311.80 L300.50,311.63 L301.00,311.40 L301.50,311.08 L302.00,310.63 L302.50,309.99 L303.00,309.04 L303.50,307.56 L304.00,305.07 L304.50,300.41 L305.00,290.82 L305.50,272.45 L306.00,262.65 L306.50,279.72 L307.00,292.31 L307.50,296.89 L308.00,296.98 L308.50,293.41 L309.00,284.76 L309.50,267.37 L310.00,242.06 L310.50,238.39 L311.00,262.60 L311.50,281.60 L312.00,291.11 L312.50,295.03 L313.00,295.32 L313.50,292.15 L314.00,284.52 L314.50,272.98 L315.00,268.26 L315.50,278.31 L316.00,290.16 L316.50,297.67 L317.00,301.93 L317.50,304.37 L318.00,305.78 L318.50,306.57 L319.00,306.94 L319.50,307.02 L320.00,306.85 L320.50,306.44 L321.00,305.82 L321.50,304.95 L322.00,303.81 L322.50,302.40 L323.00,300.70 L323.50,298.75 L324.00,296.68 L324.50,294.74 L325.00,293.29 L325.50,292.67 L326.00,293.04 L326.50,294.29 L327.00,296.08 L327.50,298.03 L328.00,299.85 L328.50,301.37 L329.00,302.48 L329.50,303.11 L330.00,303.16 L330.50,302.53 L331.00,301.23 L331.50,299.85 L332.00,299.83 L332.50,301.71 L333.00,304.24 L333.50,306.36 L334.00,307.90 L334.50,308.97 L335.00,309.73 L335.50,310.27 L336.00,310.66 L336.50,310.95 L337.00,311.16 L337.50,311.31 L338.00,311.40 L338.50,311.43 L339.00,311.42 L339.50,311.35 L340.00,311.22 L340.50,311.02 L341.00,310.73 L341.50,310.32 L342.00,309.76 L342.50,309.04 L343.00,308.17 L343.50,307.27 L344.00,306.59 L344.50,306.41 L345.00,306.79 L345.50,307.50 L346.00,308.25 L346.50,308.86 L347.00,309.29 L347.50,309.54 L348.00,309.62 L348.50,309.56 L349.00,309.36 L349.50,309.00 L350.00,308.48 L350.50,307.75 L351.00,306.77 L351.50,305.44 L352.00,303.66 L352.50,301.28 L353.00,298.12 L353.50,294.07 L354.00,289.29 L354.50,284.60 L355.00,281.68 L355.50,282.03 L356.00,285.45 L356.50,290.26 L357.00,294.94 L357.50,298.81 L358.00,301.81 L358.50,304.07 L359.00,305.76 L359.50,307.03 L360.00,307.99 L360.50,308.71 L361.00,309.25 L361.50,309.65 L362.00,309.93 L362.50,310.11 L363.00,310.17 L363.50,310.14 L364.00,309.99 L364.50,309.78 L365.00,309.58 L365.50,309.53 L366.00,309.60 L366.50,309.65 L367.00,309.59 L367.50,309.39 L368.00,309.03 L368.50,308.49 L369.00,307.72 L369.50,306.65 L370.00,305.18 L370.50,303.15 L371.00,300.42 L371.50,296.95 L372.00,293.18 L372.50,290.42 L373.00,290.12 L373.50,292.23 L374.00,295.20 L374.50,297.75 L375.00,299.41 L375.50,300.18 L376.00,300.17 L376.50,299.50 L377.00,298.34 L377.50,296.99 L378.00,295.91 L378.50,295.58 L379.00,296.20 L379.50,297.51 L380.00,299.04 L380.50,300.41 L381.00,301.43 L381.50,302.04 L382.00,302.24 L382.50,302.06 L383.00,301.52 L383.50,300.63 L384.00,299.45 L384.50,298.07 L385.00,296.66 L385.50,295.47 L386.00,294.76 L386.50,294.67 L387.00,295.15 L387.50,295.96 L388.00,296.79 L388.50,297.37 L389.00,297.52 L389.50,297.09 L390.00,295.99 L390.50,294.23 L391.00,291.99 L391.50,289.81 L392.00,288.63 L392.50,289.19 L393.00,291.46 L393.50,294.62 L394.00,297.82 L394.50,300.62 L395.00,302.88 L395.50,304.65 L396.00,306.03 L396.50,307.10 L397.00,307.93 L397.50,308.58 L398.00,309.08 L398.50,309.46 L399.00,309.75 L399.50,309.96 L400.00,310.10 L400.50,310.18 L401.00,310.19 L401.50,310.14 L402.00,310.03 L402.50,309.84 L403.00,309.57 L403.50,309.20 L404.00,308.72 L404.50,308.10 L405.00,307.31 L405.50,306.33 L406.00,305.12 L406.50,303.68 L407.00,302.07 L407.50,300.41 L408.00,298.98 L408.50,298.10 L409.00,298.06 L409.50,298.87 L410.00,300.30 L410.50,302.02 L411.00,303.74 L411.50,305.31 L412.00,306.66 L412.50,307.79 L413.00,308.71 L413.50,309.48 L414.00,310.10 L414.50,310.62 L415.00,311.05 L415.50,311.41 L416.00,311.72 L416.50,311.98 L417.00,312.20 L417.50,312.39 L418.00,312.55 L418.50,312.70 L419.00,312.82 L419.50,312.94 L420.00,313.03 L420.50,313.12 L421.00,313.20 L421.50,313.26 L422.00,313.32 L422.50,313.38 L423.00,313.43 L423.50,313.47 L424.00,313.51 L424.50,313.55 L425.00,313.58 L425.50,313.61 L426.00,313.64 L426.50,313.67 L427.00,313.69 L427.50,313.71 L428.00,313.73 L428.50,313.75 L429.00,313.77 L429.50,313.78 L430.00,313.80 L430.50,313.81 L431.00,313.82 L431.50,313.83 L432.00,313.84 L432.50,313.85 L433.00,313.86 L433.50,313.87 L434.00,313.87 L434.50,313.88 L435.00,313.89 L435.50,313.89 L436.00,313.90 L436.50,313.90 L437.00,313.91 L437.50,313.91 L438.00,313.91 L438.50,313.92 L439.00,313.92 L439.50,313.92 L440.00,313.92 L440.50,313.92 L441.00,313.92 L441.50,313.92 L442.00,313.93 L442.50,313.93 L443.00,313.93 L443.50,313.93 L444.00,313.92 L444.50,313.92 L445.00,313.92 L445.50,313.92 L446.00,313.92 L446.50,313.92 L447.00,313.92 L447.50,313.92 L448.00,313.91 L448.50,313.91 L449.00,313.91 L449.50,313.91 L450.00,313.90 L450.50,313.90 L451.00,313.90 L451.50,313.89 L452.00,313.89 L452.50,313.88 L453.00,313.88 L453.50,313.88 L454.00,313.87 L454.50,313.87 L455.00,313.86 L455.50,313.86 L456.00,313.85 L456.50,313.84 L457.00,313.84 L457.50,313.83 L458.00,313.82 L458.50,313.82 L459.00,313.81 L459.50,313.80 L460.00,313.79 L460.50,313.78 L461.00,313.77 L461.50,313.76 L462.00,313.75 L462.50,313.73 L463.00,313.72 L463.50,313.71 L464.00,313.69 L464.50,313.67 L465.00,313.66 L465.50,313.63 L466.00,313.61 L466.50,313.59 L467.00,313.56 L467.50,313.53 L468.00,313.50 L468.50,313.46 L469.00,313.42 L469.50,313.37 L470.00,313.32 L470.50,313.26 L471.00,313.19 L471.50,313.12 L472.00,313.04 L472.50,312.95 L473.00,312.86 L473.50,312.77 L474.00,312.67 L474.50,312.58 L475.00,312.50 L475.50,312.44 L476.00,312.41 L476.50,312.40 L477.00,312.43 L477.50,312.48 L478.00,312.55 L478.50,312.63 L479.00,312.71 L479.50,312.80 L480.00,312.89 L480.50,312.97 L481.00,313.04 L481.50,313.10 L482.00,313.16 L482.50,313.21 L483.00,313.26 L483.50,313.30 L484.00,313.33 L484.50,313.36 L485.00,313.39 L485.50,313.41 L486.00,313.43 L486.50,313.45 L487.00,313.46 L487.50,313.47 L488.00,313.48 L488.50,313.49 L489.00,313.50 L489.50,313.51 L490.00,313.51 L490.50,313.52 L491.00,313.52 L491.50,313.53 L492.00,313.53 L492.50,313.53 L493.00,313.53 L493.50,313.53 L494.00,313.54 L494.50,313.54 L495.00,313.54 L495.50,313.53 L496.00,313.53 L496.50,313.53 L497.00,313.53 L497.50,313.53 L498.00,313.53 L498.50,313.53 L499.00,313.52 L499.50,313.52 L500.00,313.52 L500.50,313.52 L501.00,313.51 L501.50,313.51 L502.00,313.51 L502.50,313.51 L503.00,313.50 L503.50,313.50 L504.00,313.50 L504.50,313.49 L505.00,313.49 L505.50,313.49 L506.00,313.49 L506.50,313.50 L507.00,313.50 L507.50,313.50 L508.00,313.50" stroke="#4679c0"/>
<path d="M25.50,276.61 L26.00,276.61 L26.50,276.60 L27.00,276.60 L27.50,276.59 L28.00,276.59 L28.50,276.58 L29.00,276.58 L29.50,276.57 L30.00,276.57 L30.50,276.56 L31.00,276.56 L31.50,276.55 L32.00,276.55 L32.50,276.54 L33.00,276.54 L33.50,276.53 L34.00,276.53 L34.50,276.52 L35.00,276.51 L35.50,276.51 L36.00,276.50 L36.50,276.50 L37.00,276.49 L37.50,276.48 L38.00,276.48 L38.50,276.47 L39.00,276.47 L39.50,276.46 L40.00,276.45 L40.50,276.45 L41.00,276.44 L41.50,276.43 L42.00,276.43 L42.50,276.42 L43.00,276.41 L43.50,276.40 L44.00,276.39 L44.50,276.39 L45.00,276.38 L45.50,276.37 L46.00,276.36 L46.50,276.35 L47.00,276.34 L47.50,276.33 L48.00,276.31 L48.50,276.30 L49.00,276.29 L49.50,276.27 L50.00,276.26 L50.50,276.24 L51.00,276.22 L51.50,276.20 L52.00,276.17 L52.50,276.14 L53.00,276.11 L53.50,276.07 L54.00,276.02 L54.50,275.97 L55.00,275.90 L55.50,275.82 L56.00,275.71 L56.50,275.56 L57.00,275.37 L57.50,275.09 L58.00,274.67 L58.50,274.01 L59.00,272.88 L59.50,270.73 L60.00,266.19 L60.50,256.41 L61.00,246.90 L61.50,256.40 L62.00,266.16 L62.50,270.68 L63.00,272.81 L63.50,273.92 L64.00,274.56 L64.50,274.95 L65.00,275.21 L65.50,275.38 L66.00,275.50 L66.50,275.58 L67.00,275.63 L67.50,275.65 L68.00,275.66 L68.50,275.64 L69.00,275.60 L69.50,275.53 L70.00,275.41 L70.50,275.23 L71.00,275.02 L71.50,274.86 L72.00,274.86 L72.50,275.00 L73.00,275.17 L73.50,275.29 L74.00,275.35 L74.50,275.33 L75.00,275.25 L75.50,275.10 L76.00,274.91 L76.50,274.80 L77.00,274.86 L77.50,275.05 L78.00,275.26 L78.50,275.42 L79.00,275.53 L79.50,275.61 L80.00,275.66 L80.50,275.69 L81.00,275.71 L81.50,275.72 L82.00,275.73 L82.50,275.73 L83.00,275.73 L83.50,275.72 L84.00,275.71 L84.50,275.70 L85.00,275.69 L85.50,275.67 L86.00,275.65 L86.50,275.63 L87.00,275.61 L87.50,275.59 L88.00,275.56 L88.50,275.53 L89.00,275.50 L89.50,275.47 L90.00,275.43 L90.50,275.38 L91.00,275.34 L91.50,275.28 L92.00,275.22 L92.50,275.15 L93.00,275.07 L93.50,274.97 L94.00,274.86 L94.50,274.72 L95.00,274.54 L95.50,274.32 L96.00,274.02 L96.50,273.62 L97.00,273.05 L97.50,272.22 L98.00,271.05 L98.50,269.55 L99.00,268.26 L99.50,268.11 L100.00,269.06 L100.50,270.15 L101.00,270.85 L101.50,271.09 L102.00,270.97 L102.50,270.70 L103.00,270.54 L103.50,270.52 L104.00,270.38 L104.50,269.92 L105.00,269.03 L105.50,267.58 L106.00,265.34 L106.50,262.05 L107.00,257.94 L107.50,254.82 L108.00,255.17 L108.50,258.07 L109.00,260.89 L109.50,262.61 L110.00,263.32 L110.50,263.31 L111.00,262.85 L111.50,262.17 L112.00,261.53 L112.50,261.15 L113.00,261.21 L113.50,261.74 L114.00,262.64 L114.50,263.74 L115.00,264.86 L115.50,265.88 L116.00,266.71 L116.50,267.34 L117.00,267.73 L117.50,267.87 L118.00,267.77 L118.50,267.41 L119.00,266.85 L119.50,266.20 L120.00,265.68 L120.50,265.59 L121.00,266.02 L121.50,266.84 L122.00,267.76 L122.50,268.59 L123.00,269.22 L123.50,269.61 L124.00,269.78 L124.50,269.71 L125.00,269.36 L125.50,268.69 L126.00,267.59 L126.50,265.91 L127.00,263.53 L127.50,260.56 L128.00,257.91 L128.50,257.14 L129.00,258.74 L129.50,261.33 L130.00,263.51 L130.50,264.78 L131.00,265.04 L131.50,264.24 L132.00,262.34 L132.50,259.83 L133.00,258.50 L133.50,259.82 L134.00,262.30 L134.50,264.11 L135.00,264.73 L135.50,264.31 L136.00,263.43 L136.50,263.31 L137.00,264.57 L137.50,266.41 L138.00,267.92 L138.50,268.89 L139.00,269.40 L139.50,269.53 L140.00,269.34 L140.50,268.82 L141.00,267.93 L141.50,266.56 L142.00,264.54 L142.50,261.66 L143.00,257.75 L143.50,253.07 L144.00,248.96 L144.50,247.75 L145.00,250.35 L145.50,254.98 L146.00,259.52 L146.50,263.11 L147.00,265.72 L147.50,267.57 L148.00,268.88 L148.50,269.79 L149.00,270.43 L149.50,270.85 L150.00,271.11 L150.50,271.22 L151.00,271.21 L151.50,271.07 L152.00,270.82 L152.50,270.48 L153.00,270.07 L153.50,269.65 L154.00,269.33 L154.50,269.21 L155.00,269.35 L155.50,269.72 L156.00,270.25 L156.50,270.82 L157.00,271.37 L157.50,271.86 L158.00,272.26 L158.50,272.59 L159.00,272.85 L159.50,273.04 L160.00,273.18 L160.50,273.26 L161.00,273.30 L161.50,273.28 L162.00,273.21 L162.50,273.07 L163.00,272.84 L163.50,272.51 L164.00,272.04 L164.50,271.42 L165.00,270.67 L165.50,269.88 L166.00,269.32 L166.50,269.25 L167.00,269.73 L167.50,270.54 L168.00,271.39 L168.50,272.12 L169.00,272.71 L169.50,273.16 L170.00,273.50 L170.50,273.77 L171.00,273.97 L171.50,274.13 L172.00,274.26 L172.50,274.36 L173.00,274.44 L173.50,274.51 L174.00,274.56 L174.50,274.60 L175.00,274.64 L175.50,274.66 L176.00,274.69 L176.50,274.70 L177.00,274.71 L177.50,274.72 L178.00,274.72 L178.50,274.71 L179.00,274.71 L179.50,274.69 L180.00,274.67 L180.50,274.64 L181.00,274.61 L181.50,274.56 L182.00,274.50 L182.50,274.42 L183.00,274.32 L183.50,274.18 L184.00,273.99 L184.50,273.72 L185.00,273.31 L185.50,272.69 L186.00,271.66 L186.50,269.90 L187.00,266.91 L187.50,263.25 L188.00,262.73 L188.50,266.09 L189.00,269.22 L189.50,271.06 L190.00,272.07 L190.50,272.60 L191.00,272.86 L191.50,272.93 L192.00,272.84 L192.50,272.59 L193.00,272.14 L193.50,271.40 L194.00,270.17 L194.50,268.08 L195.00,264.33 L195.50,257.48 L196.00,247.22 L196.50,242.84 L197.00,251.49 L197.50,260.75 L198.00,266.20 L198.50,269.21 L199.00,270.94 L199.50,272.00 L200.00,272.69 L200.50,273.17 L201.00,273.50 L201.50,273.74 L202.00,273.93 L202.50,274.06 L203.00,274.17 L203.50,274.26 L204.00,274.32 L204.50,274.38 L205.00,274.42 L205.50,274.45 L206.00,274.48 L206.50,274.50 L207.00,274.52 L207.50,274.53 L208.00,274.54 L208.50,274.54 L209.00,274.54 L209.50,274.54 L210.00,274.54 L210.50,274.53 L211.00,274.52 L211.50,274.51 L212.00,274.50 L212.50,274.48 L213.00,274.46 L213.50,274.44 L214.00,274.42 L214.50,274.40 L215.00,274.37 L215.50,274.34 L216.00,274.30 L216.50,274.26 L217.00,274.22 L217.50,274.18 L218.00,274.12 L218.50,274.07 L219.00,274.00 L219.50,273.93 L220.00,273.85 L220.50,273.75 L221.00,273.65 L221.50,273.53 L222.00,273.40 L222.50,273.24 L223.00,273.05 L223.50,272.84 L224.00,272.58 L224.50,272.27 L225.00,271.90 L225.50,271.43 L226.00,270.85 L226.50,270.10 L227.00,269.12 L227.50,267.79 L228.00,265.92 L228.50,263.20 L229.00,259.05 L229.50,252.38 L230.00,241.30 L230.50,223.67 L231.00,203.73 L231.50,201.07 L232.00,218.07 L232.50,234.26 L233.00,243.06 L233.50,245.71 L234.00,243.01 L234.50,233.86 L235.00,215.77 L235.50,192.46 L236.00,189.21 L236.50,212.40 L237.00,234.88 L237.50,248.77 L238.00,256.88 L238.50,261.79 L239.00,264.93 L239.50,267.04 L240.00,268.53 L240.50,269.62 L241.00,270.43 L241.50,271.06 L242.00,271.55 L242.50,271.95 L243.00,272.27 L243.50,272.54 L244.00,272.76 L244.50,272.94 L245.00,273.10 L245.50,273.23 L246.00,273.35 L246.50,273.45 L247.00,273.53 L247.50,273.61 L248.00,273.67 L248.50,273.73 L249.00,273.78 L249.50,273.82 L250.00,273.86 L250.50,273.90 L251.00,273.93 L251.50,273.95 L252.00,273.97 L252.50,273.99 L253.00,274.01 L253.50,274.02 L254.00,274.03 L254.50,274.04 L255.00,274.05 L255.50,274.05 L256.00,274.06 L256.50,274.06 L257.00,274.06 L257.50,274.06 L258.00,274.05 L258.50,274.05 L259.00,274.04 L259.50,274.03 L260.00,274.02 L260.50,274.01 L261.00,274.00 L261.50,273.98 L262.00,273.96 L262.50,273.94 L263.00,273.92 L263.50,273.90 L264.00,273.87 L264.50,273.84 L265.00,273.81 L265.50,273.77 L266.00,273.73 L266.50,273.69 L267.00,273.64 L267.50,273.59 L268.00,273.53 L268.50,273.46 L269.00,273.38 L269.50,273.30 L270.00,273.20 L270.50,273.09 L271.00,272.96 L271.50,272.81 L272.00,272.64 L272.50,272.43 L273.00,272.18 L273.50,271.88 L274.00,271.50 L274.50,271.01 L275.00,270.38 L275.50,269.53 L276.00,268.35 L276.50,266.65 L277.00,264.15 L277.50,260.47 L278.00,255.65 L278.50,251.43 L279.00,250.93 L279.50,253.52 L280.00,255.74 L280.50,255.82 L281.00,253.07 L281.50,246.56 L282.00,235.89 L282.50,227.21 L283.00,231.08 L283.50,240.33 L284.00,245.67 L284.50,246.11 L285.00,242.15 L285.50,233.84 L286.00,222.56 L286.50,214.77 L287.00,218.61 L287.50,230.82 L288.00,242.88 L288.50,251.67 L289.00,257.58 L289.50,261.53 L290.00,264.24 L290.50,266.14 L291.00,267.52 L291.50,268.54 L292.00,269.31 L292.50,269.90 L293.00,270.36 L293.50,270.73 L294.00,271.01 L294.50,271.24 L295.00,271.41 L295.50,271.54 L296.00,271.64 L296.50,271.70 L297.00,271.74 L297.50,271.75 L298.00,271.73 L298.50,271.68 L299.00,271.60 L299.50,271.48 L300.00,271.32 L300.50,271.11 L301.00,270.84 L301.50,270.48 L302.00,269.99 L302.50,269.31 L303.00,268.34 L303.50,266.85 L304.00,264.39 L304.50,259.81 L305.00,250.10 L305.50,229.57 L306.00,217.25 L306.50,236.81 L307.00,248.42 L307.50,250.46 L308.00,246.59 L308.50,236.53 L309.00,218.01 L309.50,194.95 L310.00,191.75 L310.50,213.06 L311.00,232.94 L311.50,244.26 L312.00,249.42 L312.50,250.26 L313.00,247.09 L313.50,239.38 L314.00,229.47 L314.50,228.14 L315.00,238.54 L315.50,249.49 L316.00,256.66 L316.50,260.94 L317.00,263.52 L317.50,265.10 L318.00,266.07 L318.50,266.62 L319.00,266.88 L319.50,266.91 L320.00,266.72 L320.50,266.32 L321.00,265.71 L321.50,264.86 L322.00,263.73 L322.50,262.29 L323.00,260.51 L323.50,258.40 L324.00,256.09 L324.50,253.83 L325.00,252.07 L325.50,251.28 L326.00,251.70 L326.50,253.17 L327.00,255.22 L327.50,257.39 L328.00,259.33 L328.50,260.87 L329.00,261.93 L329.50,262.43 L330.00,262.31 L330.50,261.47 L331.00,259.96 L331.50,258.48 L332.00,258.41 L332.50,260.28 L333.00,262.89 L333.50,265.16 L334.00,266.83 L334.50,268.01 L335.00,268.85 L335.50,269.44 L336.00,269.87 L336.50,270.18 L337.00,270.40 L337.50,270.55 L338.00,270.64 L338.50,270.67 L339.00,270.64 L339.50,270.56 L340.00,270.42 L340.50,270.19 L341.00,269.87 L341.50,269.42 L342.00,268.82 L342.50,268.05 L343.00,267.11 L343.50,266.14 L344.00,265.40 L344.50,265.21 L345.00,265.60 L345.50,266.32 L346.00,267.05 L346.50,267.62 L347.00,267.99 L347.50,268.17 L348.00,268.16 L348.50,267.98 L349.00,267.65 L349.50,267.14 L350.00,266.43 L350.50,265.49 L351.00,264.25 L351.50,262.63 L352.00,260.54 L352.50,257.85 L353.00,254.45 L353.50,250.36 L354.00,245.89 L354.50,241.82 L355.00,239.42 L355.50,239.69 L356.00,242.50 L356.50,246.74 L357.00,251.18 L357.50,255.15 L358.00,258.41 L358.50,260.99 L359.00,263.00 L359.50,264.56 L360.00,265.77 L360.50,266.71 L361.00,267.44 L361.50,268.00 L362.00,268.42 L362.50,268.73 L363.00,268.92 L363.50,269.01 L364.00,269.00 L364.50,268.92 L365.00,268.83 L365.50,268.82 L366.00,268.88 L366.50,268.91 L367.00,268.83 L367.50,268.63 L368.00,268.29 L368.50,267.78 L369.00,267.04 L369.50,266.02 L370.00,264.58 L370.50,262.57 L371.00,259.78 L371.50,256.11 L372.00,251.93 L372.50,248.72 L373.00,248.36 L373.50,250.83 L374.00,254.19 L374.50,256.95 L375.00,258.69 L375.50,259.47 L376.00,259.47 L376.50,258.84 L377.00,257.77 L377.50,256.55 L378.00,255.58 L378.50,255.26 L379.00,255.75 L379.50,256.86 L380.00,258.20 L380.50,259.42 L381.00,260.35 L381.50,260.90 L382.00,261.07 L382.50,260.86 L383.00,260.29 L383.50,259.39 L384.00,258.20 L384.50,256.81 L385.00,255.41 L385.50,254.22 L386.00,253.51 L386.50,253.41 L387.00,253.86 L387.50,254.62 L388.00,255.40 L388.50,255.91 L389.00,255.95 L389.50,255.34 L390.00,253.96 L390.50,251.76 L391.00,248.91 L391.50,246.10 L392.00,244.54 L392.50,245.29 L393.00,248.21 L393.50,252.11 L394.00,255.91 L394.50,259.12 L395.00,261.65 L395.50,263.59 L396.00,265.08 L396.50,266.23 L397.00,267.12 L397.50,267.82 L398.00,268.36 L398.50,268.78 L399.00,269.11 L399.50,269.36 L400.00,269.54 L400.50,269.66 L401.00,269.71 L401.50,269.72 L402.00,269.66 L402.50,269.53 L403.00,269.33 L403.50,269.04 L404.00,268.64 L404.50,268.11 L405.00,267.41 L405.50,266.49 L406.00,265.31 L406.50,263.82 L407.00,262.03 L407.50,260.05 L408.00,258.20 L408.50,257.00 L409.00,256.89 L409.50,257.94 L410.00,259.77 L410.50,261.83 L411.00,263.77 L411.50,265.42 L412.00,266.77 L412.50,267.84 L413.00,268.70 L413.50,269.38 L414.00,269.93 L414.50,270.37 L415.00,270.73 L415.50,271.03 L416.00,271.28 L416.50,271.49 L417.00,271.67 L417.50,271.83 L418.00,271.96 L418.50,272.07 L419.00,272.17 L419.50,272.26 L420.00,272.34 L420.50,272.41 L421.00,272.46 L421.50,272.52 L422.00,272.56 L422.50,272.60 L423.00,272.64 L423.50,272.67 L424.00,272.71 L424.50,272.73 L425.00,272.76 L425.50,272.78 L426.00,272.80 L426.50,272.82 L427.00,272.83 L427.50,272.85 L428.00,272.86 L428.50,272.88 L429.00,272.89 L429.50,272.90 L430.00,272.91 L430.50,272.91 L431.00,272.92 L431.50,272.93 L432.00,272.93 L432.50,272.94 L433.00,272.94 L433.50,272.95 L434.00,272.95 L434.50,272.95 L435.00,272.96 L435.50,272.96 L436.00,272.96 L436.50,272.96 L437.00,272.96 L437.50,272.96 L438.00,272.96 L438.50,272.96 L439.00,272.96 L439.50,272.96 L440.00,272.96 L440.50,272.95 L441.00,272.95 L441.50,272.95 L442.00,272.95 L442.50,272.94 L443.00,272.94 L443.50,272.94 L444.00,272.93 L444.50,272.93 L445.00,272.93 L445.50,272.92 L446.00,272.92 L446.50,272.91 L447.00,272.91 L447.50,272.90 L448.00,272.90 L448.50,272.89 L449.00,272.89 L449.50,272.88 L450.00,272.87 L450.50,272.87 L451.00,272.86 L451.50,272.85 L452.00,272.85 L452.50,272.84 L453.00,272.83 L453.50,272.82 L454.00,272.81 L454.50,272.81 L455.00,272.80 L455.50,272.79 L456.00,272.78 L456.50,272.77 L457.00,272.75 L457.50,272.74 L458.00,272.73 L458.50,272.72 L459.00,272.70 L459.50,272.69 L460.00,272.67 L460.50,272.66 L461.00,272.64 L461.50,272.62 L462.00,272.60 L462.50,272.58 L463.00,272.56 L463.50,272.53 L464.00,272.51 L464.50,272.48 L465.00,272.44 L465.50,272.41 L466.00,272.37 L466.50,272.33 L467.00,272.28 L467.50,272.23 L468.00,272.17 L468.50,272.11 L469.00,272.04 L469.50,271.96 L470.00,271.87 L470.50,271.77 L471.00,271.66 L471.50,271.53 L472.00,271.40 L472.50,271.25 L473.00,271.09 L473.50,270.92 L474.00,270.76 L474.50,270.61 L475.00,270.47 L475.50,270.37 L476.00,270.31 L476.50,270.31 L477.00,270.35 L477.50,270.44 L478.00,270.56 L478.50,270.70 L479.00,270.85 L479.50,271.00 L480.00,271.15 L480.50,271.29 L481.00,271.41 L481.50,271.53 L482.00,271.63 L482.50,271.72 L483.00,271.80 L483.50,271.87 L484.00,271.93 L484.50,271.98 L485.00,272.02 L485.50,272.06 L486.00,272.10 L486.50,272.13 L487.00,272.16 L487.50,272.18 L488.00,272.20 L488.50,272.22 L489.00,272.23 L489.50,272.25 L490.00,272.26 L490.50,272.27 L491.00,272.28 L491.50,272.28 L492.00,272.29 L492.50,272.30 L493.00,272.30 L493.50,272.30 L494.00,272.31 L494.50,272.31 L495.00,272.31 L495.50,272.31 L496.00,272.31 L496.50,272.31 L497.00,272.31 L497.50,272.31 L498.00,272.31 L498.50,272.31 L499.00,272.30 L499.50,272.30 L500.00,272.30 L500.50,272.30 L501.00,272.29 L501.50,272.29 L502.00,272.29 L502.50,272.28 L503.00,272.28 L503.50,272.28 L504.00,272.27 L504.50,272.27 L505.00,272.26 L505.50,272.27 L506.00,272.27 L506.50,272.27 L507.00,272.27 L507.50,272.28 L508.00,272.28" stroke="#58b38e"/>
<path d="M25.50,232.32 L26.00,232.31 L26.50,232.31 L27.00,232.30 L27.50,232.30 L28.00,232.29 L28.50,232.29 L29.00,232.28 L29.50,232.28 L30.00,232.27 L30.50,232.27 L31.00,232.26 L31.50,232.26 L32.00,232.25 L32.50,232.25 L33.00,232.24 L33.50,232.23 L34.00,232.23 L34.50,232.22 L35.00,232.22 L35.50,232.21 L36.00,232.21 L36.50,232.20 L37.00,232.20 L37.50,232.19 L38.00,232.18 L38.50,232.18 L39.00,232.17 L39.50,232.16 L40.00,232.16 L40.50,232.15 L41.00,232.14 L41.50,232.14 L42.00,232.13 L42.50,232.12 L43.00,232.12 L43.50,232.11 L44.00,232.10 L44.50,232.09 L45.00,232.08 L45.50,232.07 L46.00,232.06 L46.50,232.05 L47.00,232.04 L47.50,232.03 L48.00,232.02 L48.50,232.01 L49.00,231.99 L49.50,231.98 L50.00,231.96 L50.50,231.95 L51.00,231.93 L51.50,231.90 L52.00,231.88 L52.50,231.85 L53.00,231.82 L53.50,231.78 L54.00,231.73 L54.50,231.67 L55.00,231.60 L55.50,231.52 L56.00,231.40 L56.50,231.25 L57.00,231.04 L57.50,230.73 L58.00,230.26 L58.50,229.50 L59.00,228.14 L59.50,225.44 L60.00,219.53 L60.50,208.30 L61.00,206.18 L61.50,217.66 L62.00,224.57 L62.50,227.68 L63.00,229.21 L63.50,230.04 L64.00,230.53 L64.50,230.85 L65.00,231.05 L65.50,231.19 L66.00,231.28 L66.50,231.35 L67.00,231.38 L67.50,231.40 L68.00,231.40 L68.50,231.38 L69.00,231.33 L69.50,231.25 L70.00,231.12 L70.50,230.94 L71.00,230.73 L71.50,230.56 L72.00,230.56 L72.50,230.70 L73.00,230.88 L73.50,231.00 L74.00,231.06 L74.50,231.04 L75.00,230.96 L75.50,230.80 L76.00,230.62 L76.50,230.50 L77.00,230.56 L77.50,230.76 L78.00,230.97 L78.50,231.13 L79.00,231.25 L79.50,231.33 L80.00,231.38 L80.50,231.41 L81.00,231.43 L81.50,231.44 L82.00,231.45 L82.50,231.45 L83.00,231.45 L83.50,231.44 L84.00,231.43 L84.50,231.42 L85.00,231.41 L85.50,231.40 L86.00,231.38 L86.50,231.36 L87.00,231.34 L87.50,231.31 L88.00,231.29 L88.50,231.26 L89.00,231.23 L89.50,231.19 L90.00,231.16 L90.50,231.11 L91.00,231.06 L91.50,231.01 L92.00,230.94 L92.50,230.87 L93.00,230.79 L93.50,230.69 L94.00,230.57 L94.50,230.42 L95.00,230.23 L95.50,229.99 L96.00,229.67 L96.50,229.23 L97.00,228.61 L97.50,227.72 L98.00,226.44 L98.50,224.83 L99.00,223.47 L99.50,223.31 L100.00,224.23 L100.50,225.21 L101.00,225.71 L101.50,225.80 L102.00,225.86 L102.50,226.16 L103.00,226.52 L103.50,226.65 L104.00,226.47 L104.50,225.95 L105.00,225.03 L105.50,223.56 L106.00,221.30 L106.50,217.98 L107.00,213.81 L107.50,210.63 L108.00,210.99 L108.50,214.01 L109.00,216.96 L109.50,218.78 L110.00,219.53 L110.50,219.53 L111.00,219.03 L111.50,218.30 L112.00,217.60 L112.50,217.23 L113.00,217.39 L113.50,218.11 L114.00,219.24 L114.50,220.55 L115.00,221.85 L115.50,223.01 L116.00,223.99 L116.50,224.77 L117.00,225.35 L117.50,225.74 L118.00,225.92 L118.50,225.86 L119.00,225.46 L119.50,224.56 L120.00,223.08 L120.50,221.67 L121.00,221.92 L121.50,223.47 L122.00,224.80 L122.50,225.51 L123.00,225.76 L123.50,225.66 L124.00,225.28 L124.50,224.59 L125.00,223.58 L125.50,222.15 L126.00,220.23 L126.50,217.82 L127.00,215.19 L127.50,213.06 L128.00,212.31 L128.50,213.17 L129.00,214.87 L129.50,216.50 L130.00,217.54 L130.50,217.85 L131.00,217.48 L131.50,216.55 L132.00,215.33 L132.50,214.30 L133.00,214.00 L133.50,214.70 L134.00,216.16 L134.50,217.83 L135.00,219.21 L135.50,219.97 L136.00,220.10 L136.50,220.35 L137.00,221.75 L137.50,223.61 L138.00,225.07 L138.50,226.04 L139.00,226.65 L139.50,227.01 L140.00,227.17 L140.50,227.14 L141.00,226.90 L141.50,226.38 L142.00,225.41 L142.50,223.67 L143.00,220.54 L143.50,214.93 L144.00,206.93 L144.50,203.65 L145.00,210.24 L145.50,217.72 L146.00,222.33 L146.50,224.93 L147.00,226.44 L147.50,227.35 L148.00,227.93 L148.50,228.28 L149.00,228.49 L149.50,228.59 L150.00,228.59 L150.50,228.50 L151.00,228.32 L151.50,228.03 L152.00,227.61 L152.50,227.06 L153.00,226.38 L153.50,225.64 L154.00,224.99 L154.50,224.67 L155.00,224.82 L155.50,225.39 L156.00,226.16 L156.50,226.94 L157.00,227.61 L157.50,228.14 L158.00,228.56 L158.50,228.88 L159.00,229.11 L159.50,229.28 L160.00,229.39 L160.50,229.45 L161.00,229.47 L161.50,229.45 L162.00,229.37 L162.50,229.24 L163.00,229.02 L163.50,228.71 L164.00,228.27 L164.50,227.66 L165.00,226.89 L165.50,226.06 L166.00,225.43 L166.50,225.36 L167.00,225.90 L167.50,226.75 L168.00,227.59 L168.50,228.28 L169.00,228.81 L169.50,229.20 L170.00,229.50 L170.50,229.72 L171.00,229.88 L171.50,230.01 L172.00,230.11 L172.50,230.18 L173.00,230.24 L173.50,230.29 L174.00,230.32 L174.50,230.35 L175.00,230.37 L175.50,230.38 L176.00,230.38 L176.50,230.39 L177.00,230.38 L177.50,230.37 L178.00,230.36 L178.50,230.33 L179.00,230.31 L179.50,230.27 L180.00,230.23 L180.50,230.18 L181.00,230.11 L181.50,230.04 L182.00,229.94 L182.50,229.81 L183.00,229.65 L183.50,229.44 L184.00,229.16 L184.50,228.77 L185.00,228.22 L185.50,227.38 L186.00,226.09 L186.50,224.07 L187.00,221.14 L187.50,218.17 L188.00,217.79 L188.50,220.34 L189.00,223.19 L189.50,225.15 L190.00,226.29 L190.50,226.90 L191.00,227.15 L191.50,227.13 L192.00,226.89 L192.50,226.38 L193.00,225.56 L193.50,224.30 L194.00,222.35 L194.50,219.35 L195.00,214.75 L195.50,208.24 L196.00,201.39 L196.50,199.15 L197.00,203.93 L197.50,211.12 L198.00,216.96 L198.50,220.93 L199.00,223.53 L199.50,225.27 L200.00,226.46 L200.50,227.31 L201.00,227.92 L201.50,228.38 L202.00,228.73 L202.50,229.00 L203.00,229.22 L203.50,229.39 L204.00,229.53 L204.50,229.64 L205.00,229.73 L205.50,229.81 L206.00,229.87 L206.50,229.93 L207.00,229.97 L207.50,230.01 L208.00,230.04 L208.50,230.06 L209.00,230.08 L209.50,230.09 L210.00,230.10 L210.50,230.11 L211.00,230.11 L211.50,230.11 L212.00,230.11 L212.50,230.11 L213.00,230.10 L213.50,230.09 L214.00,230.07 L214.50,230.06 L215.00,230.04 L215.50,230.02 L216.00,229.99 L216.50,229.96 L217.00,229.93 L217.50,229.89 L218.00,229.85 L218.50,229.80 L219.00,229.75 L219.50,229.69 L220.00,229.62 L220.50,229.55 L221.00,229.46 L221.50,229.36 L222.00,229.25 L222.50,229.12 L223.00,228.97 L223.50,228.80 L224.00,228.59 L224.50,228.34 L225.00,228.05 L225.50,227.68 L226.00,227.23 L226.50,226.66 L227.00,225.91 L227.50,224.93 L228.00,223.57 L228.50,221.64 L229.00,218.76 L229.50,214.19 L230.00,206.52 L230.50,193.10 L231.00,171.51 L231.50,152.71 L232.00,161.49 L232.50,181.80 L233.00,194.06 L233.50,197.71 L234.00,194.11 L234.50,182.10 L235.00,159.92 L235.50,139.69 L236.00,150.28 L236.50,177.13 L237.00,196.72 L237.50,208.15 L238.00,214.83 L238.50,218.94 L239.00,221.62 L239.50,223.46 L240.00,224.76 L240.50,225.73 L241.00,226.46 L241.50,227.02 L242.00,227.47 L242.50,227.83 L243.00,228.12 L243.50,228.37 L244.00,228.57 L244.50,228.74 L245.00,228.88 L245.50,229.01 L246.00,229.11 L246.50,229.21 L247.00,229.28 L247.50,229.35 L248.00,229.41 L248.50,229.47 L249.00,229.51 L249.50,229.55 L250.00,229.59 L250.50,229.62 L251.00,229.65 L251.50,229.67 L252.00,229.69 L252.50,229.71 L253.00,229.72 L253.50,229.73 L254.00,229.74 L254.50,229.75 L255.00,229.75 L255.50,229.76 L256.00,229.76 L256.50,229.76 L257.00,229.76 L257.50,229.75 L258.00,229.75 L258.50,229.74 L259.00,229.73 L259.50,229.72 L260.00,229.71 L260.50,229.70 L261.00,229.68 L261.50,229.67 L262.00,229.65 L262.50,229.63 L263.00,229.60 L263.50,229.58 L264.00,229.55 L264.50,229.52 L265.00,229.48 L265.50,229.45 L266.00,229.40 L266.50,229.36 L267.00,229.31 L267.50,229.25 L268.00,229.18 L268.50,229.11 L269.00,229.03 L269.50,228.94 L270.00,228.84 L270.50,228.72 L271.00,228.58 L271.50,228.42 L272.00,228.23 L272.50,228.01 L273.00,227.73 L273.50,227.40 L274.00,226.98 L274.50,226.45 L275.00,225.76 L275.50,224.83 L276.00,223.53 L276.50,221.68 L277.00,218.98 L277.50,215.12 L278.00,210.24 L278.50,206.18 L279.00,205.71 L279.50,208.06 L280.00,210.01 L280.50,209.79 L281.00,206.67 L281.50,199.90 L282.00,189.78 L282.50,182.26 L283.00,185.58 L283.50,194.17 L284.00,199.68 L284.50,200.14 L285.00,195.22 L285.50,184.45 L286.00,171.46 L286.50,169.75 L287.00,183.10 L287.50,197.88 L288.00,208.03 L288.50,214.34 L289.00,218.31 L289.50,220.90 L290.00,222.66 L290.50,223.90 L291.00,224.81 L291.50,225.48 L292.00,226.00 L292.50,226.39 L293.00,226.70 L293.50,226.93 L294.00,227.12 L294.50,227.26 L295.00,227.36 L295.50,227.43 L296.00,227.47 L296.50,227.49 L297.00,227.48 L297.50,227.45 L298.00,227.39 L298.50,227.30 L299.00,227.18 L299.50,227.03 L300.00,226.83 L300.50,226.58 L301.00,226.25 L301.50,225.83 L302.00,225.27 L302.50,224.51 L303.00,223.43 L303.50,221.78 L304.00,219.09 L304.50,214.16 L305.00,203.98 L305.50,183.71 L306.00,172.33 L306.50,190.43 L307.00,201.77 L307.50,203.67 L308.00,199.48 L308.50,189.06 L309.00,170.99 L309.50,150.14 L310.00,147.33 L310.50,166.42 L311.00,185.84 L311.50,197.82 L312.00,203.83 L312.50,205.48 L313.00,202.94 L313.50,195.11 L314.00,183.37 L314.50,181.63 L315.00,194.27 L315.50,205.90 L316.00,212.74 L316.50,216.53 L317.00,218.69 L317.50,219.92 L318.00,220.58 L318.50,220.86 L319.00,220.85 L319.50,220.60 L320.00,220.14 L320.50,219.46 L321.00,218.56 L321.50,217.43 L322.00,216.06 L322.50,214.46 L323.00,212.66 L323.50,210.75 L324.00,208.86 L324.50,207.23 L325.00,206.11 L325.50,205.72 L326.00,206.13 L326.50,207.25 L327.00,208.86 L327.50,210.69 L328.00,212.51 L328.50,214.14 L329.00,215.47 L329.50,216.38 L330.00,216.74 L330.50,216.30 L331.00,214.84 L331.50,212.81 L332.00,212.62 L332.50,215.42 L333.00,218.70 L333.50,221.06 L334.00,222.63 L334.50,223.67 L335.00,224.41 L335.50,224.94 L336.00,225.34 L336.50,225.65 L337.00,225.88 L337.50,226.06 L338.00,226.19 L338.50,226.27 L339.00,226.31 L339.50,226.31 L340.00,226.25 L340.50,226.13 L341.00,225.94 L341.50,225.63 L342.00,225.18 L342.50,224.53 L343.00,223.64 L343.50,222.56 L344.00,221.61 L344.50,221.33 L345.00,221.87 L345.50,222.78 L346.00,223.60 L346.50,224.16 L347.00,224.48 L347.50,224.59 L348.00,224.54 L348.50,224.35 L349.00,224.01 L349.50,223.52 L350.00,222.86 L350.50,221.98 L351.00,220.82 L351.50,219.29 L352.00,217.28 L352.50,214.62 L353.00,211.14 L353.50,206.77 L354.00,201.71 L354.50,196.86 L355.00,193.89 L355.50,194.23 L356.00,197.68 L356.50,202.62 L357.00,207.49 L357.50,211.59 L358.00,214.79 L358.50,217.20 L359.00,218.99 L359.50,220.31 L360.00,221.27 L360.50,221.95 L361.00,222.39 L361.50,222.64 L362.00,222.70 L362.50,222.58 L363.00,222.27 L363.50,221.78 L364.00,221.14 L364.50,220.47 L365.00,219.97 L365.50,219.82 L366.00,219.97 L366.50,220.22 L367.00,220.38 L367.50,220.30 L368.00,219.95 L368.50,219.29 L369.00,218.29 L369.50,216.90 L370.00,215.07 L370.50,212.78 L371.00,210.07 L371.50,207.17 L372.00,204.58 L372.50,202.95 L373.00,202.81 L373.50,204.09 L374.00,206.20 L374.50,208.45 L375.00,210.36 L375.50,211.71 L376.00,212.42 L376.50,212.50 L377.00,212.06 L377.50,211.29 L378.00,210.54 L378.50,210.27 L379.00,210.78 L379.50,211.97 L380.00,213.46 L380.50,214.87 L381.00,215.97 L381.50,216.68 L382.00,216.97 L382.50,216.85 L383.00,216.32 L383.50,215.35 L384.00,213.97 L384.50,212.23 L385.00,210.33 L385.50,208.62 L386.00,207.58 L386.50,207.50 L387.00,208.27 L387.50,209.45 L388.00,210.55 L388.50,211.19 L389.00,211.19 L389.50,210.41 L390.00,208.78 L390.50,206.33 L391.00,203.31 L391.50,200.45 L392.00,198.93 L392.50,199.67 L393.00,202.51 L393.50,206.39 L394.00,210.27 L394.50,213.61 L395.00,216.30 L395.50,218.41 L396.00,220.03 L396.50,221.30 L397.00,222.28 L397.50,223.05 L398.00,223.65 L398.50,224.12 L399.00,224.49 L399.50,224.77 L400.00,224.98 L400.50,225.11 L401.00,225.19 L401.50,225.20 L402.00,225.15 L402.50,225.03 L403.00,224.83 L403.50,224.53 L404.00,224.13 L404.50,223.58 L405.00,222.86 L405.50,221.91 L406.00,220.68 L406.50,219.14 L407.00,217.27 L407.50,215.21 L408.00,213.28 L408.50,212.01 L409.00,211.89 L409.50,213.00 L410.00,214.91 L410.50,217.07 L411.00,219.09 L411.50,220.81 L412.00,222.21 L412.50,223.33 L413.00,224.22 L413.50,224.92 L414.00,225.49 L414.50,225.95 L415.00,226.32 L415.50,226.63 L416.00,226.89 L416.50,227.11 L417.00,227.29 L417.50,227.45 L418.00,227.59 L418.50,227.71 L419.00,227.81 L419.50,227.91 L420.00,227.99 L420.50,228.06 L421.00,228.12 L421.50,228.18 L422.00,228.23 L422.50,228.27 L423.00,228.31 L423.50,228.35 L424.00,228.38 L424.50,228.41 L425.00,228.44 L425.50,228.47 L426.00,228.49 L426.50,228.51 L427.00,228.53 L427.50,228.55 L428.00,228.56 L428.50,228.58 L429.00,228.59 L429.50,228.61 L430.00,228.62 L430.50,228.63 L431.00,228.64 L431.50,228.65 L432.00,228.65 L432.50,228.66 L433.00,228.67 L433.50,228.68 L434.00,228.68 L434.50,228.69 L435.00,228.69 L435.50,228.69 L436.00,228.70 L436.50,228.70 L437.00,228.70 L437.50,228.71 L438.00,228.71 L438.50,228.71 L439.00,228.71 L439.50,228.71 L440.00,228.71 L440.50,228.72 L441.00,228.72 L441.50,228.72 L442.00,228.72 L442.50,228.72 L443.00,228.71 L443.50,228.71 L444.00,228.71 L444.50,228.71 L445.00,228.71 L445.50,228.71 L446.00,228.71 L446.50,228.70 L447.00,228.70 L447.50,228.70 L448.00,228.70 L448.50,228.69 L449.00,228.69 L449.50,228.69 L450.00,228.68 L450.50,228.68 L451.00,228.67 L451.50,228.67 L452.00,228.66 L452.50,228.66 L453.00,228.65 L453.50,228.65 L454.00,228.64 L454.50,228.64 L455.00,228.63 L455.50,228.62 L456.00,228.62 L456.50,228.61 L457.00,228.60 L457.50,228.59 L458.00,228.58 L458.50,228.58 L459.00,228.57 L459.50,228.56 L460.00,228.54 L460.50,228.53 L461.00,228.52 L461.50,228.51 L462.00,228.49 L462.50,228.47 L463.00,228.46 L463.50,228.44 L464.00,228.42 L464.50,228.40 L465.00,228.37 L465.50,228.35 L466.00,228.32 L466.50,228.28 L467.00,228.25 L467.50,228.21 L468.00,228.17 L468.50,228.12 L469.00,228.06 L469.50,228.00 L470.00,227.93 L470.50,227.85 L471.00,227.76 L471.50,227.67 L472.00,227.56 L472.50,227.44 L473.00,227.32 L473.50,227.19 L474.00,227.06 L474.50,226.94 L475.00,226.83 L475.50,226.76 L476.00,226.71 L476.50,226.71 L477.00,226.74 L477.50,226.81 L478.00,226.90 L478.50,227.02 L479.00,227.14 L479.50,227.26 L480.00,227.37 L480.50,227.48 L481.00,227.58 L481.50,227.67 L482.00,227.75 L482.50,227.82 L483.00,227.89 L483.50,227.94 L484.00,227.99 L484.50,228.03 L485.00,228.07 L485.50,228.10 L486.00,228.13 L486.50,228.15 L487.00,228.17 L487.50,228.19 L488.00,228.21 L488.50,228.22 L489.00,228.23 L489.50,228.25 L490.00,228.25 L490.50,228.26 L491.00,228.27 L491.50,228.28 L492.00,228.28 L492.50,228.29 L493.00,228.29 L493.50,228.29 L494.00,228.30 L494.50,228.30 L495.00,228.30 L495.50,228.30 L496.00,228.30 L496.50,228.30 L497.00,228.30 L497.50,228.30 L498.00,228.30 L498.50,228.30 L499.00,228.30 L499.50,228.30 L500.00,228.30 L500.50,228.29 L501.00,228.29 L501.50,228.29 L502.00,228.29 L502.50,228.28 L503.00,228.28 L503.50,228.28 L504.00,228.28 L504.50,228.27 L505.00,228.27 L505.50,228.27 L506.00,228.28 L506.50,228.28 L507.00,228.28 L507.50,228.28 L508.00,228.28" stroke="#b092d8"/>
<path d="M25.50,178.62 L26.00,178.62 L26.50,178.61 L27.00,178.60 L27.50,178.60 L28.00,178.59 L28.50,178.58 L29.00,178.58 L29.50,178.57 L30.00,178.56 L30.50,178.56 L31.00,178.55 L31.50,178.54 L32.00,178.54 L32.50,178.53 L33.00,178.52 L33.50,178.52 L34.00,178.51 L34.50,178.50 L35.00,178.50 L35.50,178.49 L36.00,178.48 L36.50,178.48 L37.00,178.47 L37.50,178.46 L38.00,178.45 L38.50,178.45 L39.00,178.44 L39.50,178.43 L40.00,178.42 L40.50,178.42 L41.00,178.41 L41.50,178.40 L42.00,178.39 L42.50,178.38 L43.00,178.37 L43.50,178.37 L44.00,178.36 L44.50,178.35 L45.00,178.34 L45.50,178.33 L46.00,178.32 L46.50,178.31 L47.00,178.29 L47.50,178.28 L48.00,178.27 L48.50,178.26 L49.00,178.24 L49.50,178.23 L50.00,178.21 L50.50,178.19 L51.00,178.17 L51.50,178.15 L52.00,178.13 L52.50,178.10 L53.00,178.07 L53.50,178.03 L54.00,177.99 L54.50,177.94 L55.00,177.88 L55.50,177.80 L56.00,177.70 L56.50,177.57 L57.00,177.40 L57.50,177.15 L58.00,176.78 L58.50,176.20 L59.00,175.20 L59.50,173.30 L60.00,169.28 L60.50,160.63 L61.00,152.20 L61.50,160.61 L62.00,169.25 L62.50,173.24 L63.00,175.11 L63.50,176.09 L64.00,176.65 L64.50,177.00 L65.00,177.22 L65.50,177.37 L66.00,177.47 L66.50,177.53 L67.00,177.57 L67.50,177.59 L68.00,177.59 L68.50,177.56 L69.00,177.51 L69.50,177.43 L70.00,177.30 L70.50,177.11 L71.00,176.89 L71.50,176.72 L72.00,176.71 L72.50,176.86 L73.00,177.04 L73.50,177.17 L74.00,177.22 L74.50,177.20 L75.00,177.11 L75.50,176.96 L76.00,176.76 L76.50,176.64 L77.00,176.70 L77.50,176.91 L78.00,177.12 L78.50,177.29 L79.00,177.41 L79.50,177.49 L80.00,177.54 L80.50,177.57 L81.00,177.59 L81.50,177.61 L82.00,177.61 L82.50,177.61 L83.00,177.61 L83.50,177.60 L84.00,177.60 L84.50,177.59 L85.00,177.57 L85.50,177.56 L86.00,177.54 L86.50,177.52 L87.00,177.50 L87.50,177.48 L88.00,177.46 L88.50,177.43 L89.00,177.40 L89.50,177.37 L90.00,177.33 L90.50,177.29 L91.00,177.25 L91.50,177.19 L92.00,177.14 L92.50,177.07 L93.00,177.00 L93.50,176.91 L94.00,176.80 L94.50,176.67 L95.00,176.51 L95.50,176.30 L96.00,176.03 L96.50,175.66 L97.00,175.14 L97.50,174.40 L98.00,173.34 L98.50,171.97 L99.00,170.69 L99.50,170.32 L100.00,170.91 L100.50,171.61 L101.00,171.89 L101.50,171.87 L102.00,171.98 L102.50,172.40 L103.00,172.81 L103.50,172.96 L104.00,172.79 L104.50,172.29 L105.00,171.38 L105.50,169.94 L106.00,167.74 L106.50,164.52 L107.00,160.53 L107.50,157.51 L108.00,157.84 L108.50,160.80 L109.00,163.80 L109.50,165.74 L110.00,166.66 L110.50,166.80 L111.00,166.39 L111.50,165.64 L112.00,164.80 L112.50,164.15 L113.00,163.99 L113.50,164.44 L114.00,165.41 L114.50,166.67 L115.00,167.97 L115.50,169.15 L116.00,170.13 L116.50,170.90 L117.00,171.44 L117.50,171.76 L118.00,171.85 L118.50,171.66 L119.00,171.10 L119.50,170.08 L120.00,168.69 L120.50,167.63 L121.00,167.93 L121.50,169.28 L122.00,170.59 L122.50,171.45 L123.00,171.88 L123.50,171.98 L124.00,171.79 L124.50,171.35 L125.00,170.63 L125.50,169.60 L126.00,168.19 L126.50,166.36 L127.00,164.18 L127.50,161.93 L128.00,160.24 L128.50,159.75 L129.00,160.58 L129.50,162.15 L130.00,163.72 L130.50,164.78 L131.00,165.11 L131.50,164.57 L132.00,163.22 L132.50,161.53 L133.00,160.68 L133.50,161.66 L134.00,163.82 L134.50,165.84 L135.00,166.90 L135.50,166.71 L136.00,165.85 L136.50,166.68 L137.00,169.17 L137.50,171.19 L138.00,172.40 L138.50,173.10 L139.00,173.48 L139.50,173.65 L140.00,173.64 L140.50,173.45 L141.00,173.05 L141.50,172.34 L142.00,171.17 L142.50,169.21 L143.00,165.90 L143.50,160.54 L144.00,153.85 L144.50,151.38 L145.00,156.47 L145.50,163.02 L146.00,167.55 L146.50,170.29 L147.00,171.95 L147.50,172.98 L148.00,173.63 L148.50,174.04 L149.00,174.28 L149.50,174.40 L150.00,174.41 L150.50,174.33 L151.00,174.15 L151.50,173.87 L152.00,173.46 L152.50,172.92 L153.00,172.27 L153.50,171.58 L154.00,170.99 L154.50,170.71 L155.00,170.85 L155.50,171.37 L156.00,172.09 L156.50,172.83 L157.00,173.49 L157.50,174.03 L158.00,174.46 L158.50,174.79 L159.00,175.05 L159.50,175.24 L160.00,175.37 L160.50,175.47 L161.00,175.52 L161.50,175.53 L162.00,175.50 L162.50,175.43 L163.00,175.30 L163.50,175.09 L164.00,174.77 L164.50,174.30 L165.00,173.64 L165.50,172.73 L166.00,171.66 L166.50,170.79 L167.00,170.69 L167.50,171.43 L168.00,172.53 L168.50,173.53 L169.00,174.30 L169.50,174.85 L170.00,175.25 L170.50,175.53 L171.00,175.74 L171.50,175.89 L172.00,176.01 L172.50,176.10 L173.00,176.17 L173.50,176.22 L174.00,176.26 L174.50,176.29 L175.00,176.32 L175.50,176.33 L176.00,176.35 L176.50,176.35 L177.00,176.35 L177.50,176.35 L178.00,176.34 L178.50,176.33 L179.00,176.31 L179.50,176.29 L180.00,176.25 L180.50,176.22 L181.00,176.17 L181.50,176.10 L182.00,176.03 L182.50,175.92 L183.00,175.79 L183.50,175.61 L184.00,175.35 L184.50,174.99 L185.00,174.43 L185.50,173.53 L186.00,172.03 L186.50,169.55 L187.00,166.32 L187.50,165.09 L188.00,167.54 L188.50,170.50 L189.00,172.41 L189.50,173.48 L190.00,174.06 L190.50,174.34 L191.00,174.43 L191.50,174.35 L192.00,174.13 L192.50,173.71 L193.00,173.03 L193.50,171.91 L194.00,170.07 L194.50,166.87 L195.00,161.30 L195.50,152.99 L196.00,147.70 L196.50,152.99 L197.00,161.34 L197.50,166.95 L198.00,170.18 L198.50,172.08 L199.00,173.25 L199.50,174.01 L200.00,174.52 L200.50,174.89 L201.00,175.15 L201.50,175.35 L202.00,175.50 L202.50,175.62 L203.00,175.71 L203.50,175.78 L204.00,175.84 L204.50,175.88 L205.00,175.92 L205.50,175.95 L206.00,175.97 L206.50,175.98 L207.00,176.00 L207.50,176.01 L208.00,176.01 L208.50,176.01 L209.00,176.01 L209.50,176.01 L210.00,176.00 L210.50,176.00 L211.00,175.99 L211.50,175.97 L212.00,175.96 L212.50,175.94 L213.00,175.93 L213.50,175.91 L214.00,175.88 L214.50,175.86 L215.00,175.83 L215.50,175.80 L216.00,175.77 L216.50,175.74 L217.00,175.70 L217.50,175.66 L218.00,175.61 L218.50,175.56 L219.00,175.50 L219.50,175.44 L220.00,175.37 L220.50,175.30 L221.00,175.21 L221.50,175.12 L222.00,175.01 L222.50,174.89 L223.00,174.75 L223.50,174.59 L224.00,174.40 L224.50,174.18 L225.00,173.92 L225.50,173.61 L226.00,173.23 L226.50,172.76 L227.00,172.15 L227.50,171.37 L228.00,170.30 L228.50,168.78 L229.00,166.49 L229.50,162.74 L230.00,155.96 L230.50,142.38 L231.00,117.22 L231.50,104.15 L232.00,125.58 L232.50,140.70 L233.00,144.61 L233.50,141.60 L234.00,132.81 L234.50,118.19 L235.00,100.68 L235.50,91.69 L236.00,100.93 L236.50,119.55 L237.00,136.05 L237.50,147.61 L238.00,155.28 L238.50,160.41 L239.00,163.92 L239.50,166.40 L240.00,168.20 L240.50,169.55 L241.00,170.58 L241.50,171.39 L242.00,172.02 L242.50,172.53 L243.00,172.95 L243.50,173.30 L244.00,173.58 L244.50,173.82 L245.00,174.03 L245.50,174.20 L246.00,174.35 L246.50,174.48 L247.00,174.60 L247.50,174.69 L248.00,174.78 L248.50,174.85 L249.00,174.92 L249.50,174.97 L250.00,175.02 L250.50,175.07 L251.00,175.11 L251.50,175.14 L252.00,175.17 L252.50,175.19 L253.00,175.22 L253.50,175.24 L254.00,175.25 L254.50,175.26 L255.00,175.27 L255.50,175.28 L256.00,175.29 L256.50,175.29 L257.00,175.29 L257.50,175.29 L258.00,175.29 L258.50,175.29 L259.00,175.28 L259.50,175.27 L260.00,175.27 L260.50,175.25 L261.00,175.24 L261.50,175.23 L262.00,175.21 L262.50,175.19 L263.00,175.17 L263.50,175.14 L264.00,175.12 L264.50,175.09 L265.00,175.05 L265.50,175.02 L266.00,174.98 L266.50,174.93 L267.00,174.88 L267.50,174.83 L268.00,174.77 L268.50,174.70 L269.00,174.62 L269.50,174.53 L270.00,174.43 L270.50,174.32 L271.00,174.19 L271.50,174.03 L272.00,173.85 L272.50,173.64 L273.00,173.38 L273.50,173.06 L274.00,172.66 L274.50,172.15 L275.00,171.47 L275.50,170.56 L276.00,169.29 L276.50,167.44 L277.00,164.72 L277.50,160.87 L278.00,156.42 L278.50,153.78 L279.00,154.70 L279.50,156.93 L280.00,157.93 L280.50,156.87 L281.00,153.46 L281.50,147.35 L282.00,139.14 L282.50,132.68 L283.00,133.43 L283.50,139.69 L284.00,145.39 L284.50,147.49 L285.00,144.96 L285.50,136.65 L286.00,123.66 L286.50,118.33 L287.00,130.18 L287.50,145.14 L288.00,155.20 L288.50,161.22 L289.00,164.89 L289.50,167.24 L290.00,168.82 L290.50,169.92 L291.00,170.72 L291.50,171.31 L292.00,171.75 L292.50,172.09 L293.00,172.35 L293.50,172.54 L294.00,172.69 L294.50,172.79 L295.00,172.86 L295.50,172.90 L296.00,172.91 L296.50,172.90 L297.00,172.85 L297.50,172.78 L298.00,172.68 L298.50,172.54 L299.00,172.36 L299.50,172.13 L300.00,171.83 L300.50,171.46 L301.00,170.97 L301.50,170.33 L302.00,169.46 L302.50,168.24 L303.00,166.45 L303.50,163.67 L304.00,159.10 L304.50,151.14 L305.00,137.74 L305.50,123.17 L306.00,125.12 L306.50,138.34 L307.00,147.00 L307.50,149.59 L308.00,147.26 L308.50,139.51 L309.00,124.32 L309.50,103.14 L310.00,94.83 L310.50,111.45 L311.00,130.76 L311.50,142.30 L312.00,147.51 L312.50,148.35 L313.00,145.56 L313.50,139.54 L314.00,132.44 L314.50,130.15 L315.00,136.00 L315.50,145.02 L316.00,152.53 L316.50,157.69 L317.00,161.05 L317.50,163.21 L318.00,164.58 L318.50,165.40 L319.00,165.83 L319.50,165.95 L320.00,165.80 L320.50,165.40 L321.00,164.76 L321.50,163.85 L322.00,162.67 L322.50,161.22 L323.00,159.49 L323.50,157.55 L324.00,155.56 L324.50,153.75 L325.00,152.44 L325.50,151.91 L326.00,152.28 L326.50,153.40 L327.00,154.96 L327.50,156.63 L328.00,158.12 L328.50,159.23 L329.00,159.85 L329.50,159.90 L330.00,159.43 L330.50,158.74 L331.00,158.50 L331.50,159.37 L332.00,161.24 L332.50,163.43 L333.00,165.39 L333.50,166.97 L334.00,168.18 L334.50,169.10 L335.00,169.81 L335.50,170.35 L336.00,170.78 L336.50,171.11 L337.00,171.37 L337.50,171.57 L338.00,171.71 L338.50,171.81 L339.00,171.86 L339.50,171.86 L340.00,171.80 L340.50,171.68 L341.00,171.48 L341.50,171.17 L342.00,170.71 L342.50,170.06 L343.00,169.19 L343.50,168.17 L344.00,167.29 L344.50,167.01 L345.00,167.50 L345.50,168.39 L346.00,169.28 L346.50,169.95 L347.00,170.40 L347.50,170.65 L348.00,170.75 L348.50,170.72 L349.00,170.56 L349.50,170.27 L350.00,169.84 L350.50,169.24 L351.00,168.41 L351.50,167.28 L352.00,165.72 L352.50,163.57 L353.00,160.58 L353.50,156.50 L354.00,151.32 L354.50,145.78 L355.00,142.08 L355.50,142.52 L356.00,146.79 L356.50,152.34 L357.00,157.29 L357.50,161.08 L358.00,163.84 L358.50,165.81 L359.00,167.22 L359.50,168.24 L360.00,168.96 L360.50,169.47 L361.00,169.82 L361.50,170.02 L362.00,170.10 L362.50,170.05 L363.00,169.87 L363.50,169.53 L364.00,168.99 L364.50,168.20 L365.00,167.15 L365.50,165.90 L366.00,164.81 L366.50,164.39 L367.00,164.76 L367.50,165.48 L368.00,166.08 L368.50,166.32 L369.00,166.14 L369.50,165.51 L370.00,164.37 L370.50,162.63 L371.00,160.18 L371.50,157.01 L372.00,153.58 L372.50,151.07 L373.00,150.79 L373.50,152.70 L374.00,155.40 L374.50,157.73 L375.00,159.25 L375.50,159.96 L376.00,159.96 L376.50,159.41 L377.00,158.48 L377.50,157.42 L378.00,156.56 L378.50,156.23 L379.00,156.58 L379.50,157.52 L380.00,158.75 L380.50,159.98 L381.00,160.99 L381.50,161.68 L382.00,162.00 L382.50,161.93 L383.00,161.47 L383.50,160.59 L384.00,159.31 L384.50,157.71 L385.00,155.96 L385.50,154.41 L386.00,153.46 L386.50,153.38 L387.00,154.08 L387.50,155.16 L388.00,156.16 L388.50,156.76 L389.00,156.74 L389.50,155.97 L390.00,154.40 L390.50,152.03 L391.00,149.13 L391.50,146.39 L392.00,144.93 L392.50,145.64 L393.00,148.37 L393.50,152.13 L394.00,155.90 L394.50,159.16 L395.00,161.80 L395.50,163.87 L396.00,165.47 L396.50,166.72 L397.00,167.69 L397.50,168.46 L398.00,169.06 L398.50,169.54 L399.00,169.91 L399.50,170.20 L400.00,170.42 L400.50,170.57 L401.00,170.66 L401.50,170.70 L402.00,170.67 L402.50,170.59 L403.00,170.43 L403.50,170.19 L404.00,169.85 L404.50,169.37 L405.00,168.74 L405.50,167.89 L406.00,166.78 L406.50,165.35 L407.00,163.57 L407.50,161.56 L408.00,159.62 L408.50,158.32 L409.00,158.20 L409.50,159.34 L410.00,161.26 L410.50,163.38 L411.00,165.31 L411.50,166.92 L412.00,168.19 L412.50,169.20 L413.00,169.98 L413.50,170.61 L414.00,171.10 L414.50,171.50 L415.00,171.82 L415.50,172.09 L416.00,172.31 L416.50,172.50 L417.00,172.66 L417.50,172.79 L418.00,172.91 L418.50,173.01 L419.00,173.09 L419.50,173.17 L420.00,173.24 L420.50,173.29 L421.00,173.34 L421.50,173.39 L422.00,173.43 L422.50,173.46 L423.00,173.49 L423.50,173.52 L424.00,173.54 L424.50,173.56 L425.00,173.58 L425.50,173.60 L426.00,173.61 L426.50,173.63 L427.00,173.64 L427.50,173.65 L428.00,173.66 L428.50,173.67 L429.00,173.68 L429.50,173.68 L430.00,173.69 L430.50,173.69 L431.00,173.69 L431.50,173.70 L432.00,173.70 L432.50,173.70 L433.00,173.70 L433.50,173.70 L434.00,173.70 L434.50,173.70 L435.00,173.70 L435.50,173.70 L436.00,173.70 L436.50,173.69 L437.00,173.69 L437.50,173.69 L438.00,173.69 L438.50,173.68 L439.00,173.68 L439.50,173.67 L440.00,173.67 L440.50,173.66 L441.00,173.66 L441.50,173.65 L442.00,173.65 L442.50,173.64 L443.00,173.64 L443.50,173.63 L444.00,173.62 L444.50,173.62 L445.00,173.61 L445.50,173.60 L446.00,173.60 L446.50,173.59 L447.00,173.58 L447.50,173.57 L448.00,173.56 L448.50,173.56 L449.00,173.55 L449.50,173.54 L450.00,173.53 L450.50,173.52 L451.00,173.51 L451.50,173.50 L452.00,173.49 L452.50,173.48 L453.00,173.46 L453.50,173.45 L454.00,173.44 L454.50,173.43 L455.00,173.42 L455.50,173.40 L456.00,173.39 L456.50,173.37 L457.00,173.36 L457.50,173.34 L458.00,173.33 L458.50,173.31 L459.00,173.29 L459.50,173.27 L460.00,173.25 L460.50,173.23 L461.00,173.21 L461.50,173.19 L462.00,173.16 L462.50,173.13 L463.00,173.10 L463.50,173.07 L464.00,173.04 L464.50,173.00 L465.00,172.96 L465.50,172.92 L466.00,172.87 L466.50,172.82 L467.00,172.77 L467.50,172.70 L468.00,172.63 L468.50,172.55 L469.00,172.47 L469.50,172.37 L470.00,172.26 L470.50,172.14 L471.00,172.00 L471.50,171.85 L472.00,171.68 L472.50,171.50 L473.00,171.30 L473.50,171.10 L474.00,170.90 L474.50,170.71 L475.00,170.55 L475.50,170.42 L476.00,170.35 L476.50,170.34 L477.00,170.39 L477.50,170.50 L478.00,170.64 L478.50,170.82 L479.00,171.00 L479.50,171.19 L480.00,171.36 L480.50,171.53 L481.00,171.68 L481.50,171.82 L482.00,171.94 L482.50,172.05 L483.00,172.14 L483.50,172.22 L484.00,172.29 L484.50,172.35 L485.00,172.41 L485.50,172.46 L486.00,172.50 L486.50,172.53 L487.00,172.56 L487.50,172.59 L488.00,172.61 L488.50,172.63 L489.00,172.65 L489.50,172.67 L490.00,172.68 L490.50,172.69 L491.00,172.70 L491.50,172.71 L492.00,172.71 L492.50,172.72 L493.00,172.72 L493.50,172.72 L494.00,172.73 L494.50,172.73 L495.00,172.73 L495.50,172.73 L496.00,172.73 L496.50,172.73 L497.00,172.72 L497.50,172.72 L498.00,172.72 L498.50,172.72 L499.00,172.71 L499.50,172.71 L500.00,172.71 L500.50,172.70 L501.00,172.70 L501.50,172.69 L502.00,172.69 L502.50,172.68 L503.00,172.68 L503.50,172.67 L504.00,172.66 L504.50,172.66 L505.00,172.65 L505.50,172.66 L506.00,172.66 L506.50,172.66 L507.00,172.66 L507.50,172.67 L508.00,172.67" stroke="#c9ac42"/>
</g>
<g clip-path="url(#cb)" fill="none" stroke-width="1.15" stroke-linejoin="round" filter="url(#bl)">
<path d="M23.50,923.62 L24.00,923.69 L24.50,923.77 L25.00,923.88 L25.50,923.99 L26.00,924.10 L26.50,924.19 L27.00,924.26 L27.50,924.28 L28.00,924.26 L28.50,924.19 L29.00,924.09 L29.50,923.96 L30.00,923.82 L30.50,923.68 L31.00,923.55 L31.50,923.43 L32.00,923.32 L32.50,923.21 L33.00,923.11 L33.50,922.99 L34.00,922.87 L34.50,922.74 L35.00,922.59 L35.50,922.42 L36.00,922.23 L36.50,922.00 L37.00,921.74 L37.50,921.42 L38.00,921.05 L38.50,920.63 L39.00,920.20 L39.50,919.81 L40.00,919.50 L40.50,919.30 L41.00,919.19 L41.50,919.13 L42.00,919.10 L42.50,919.05 L43.00,919.00 L43.50,918.93 L44.00,918.86 L44.50,918.79 L45.00,918.71 L45.50,918.61 L46.00,918.51 L46.50,918.43 L47.00,918.44 L47.50,918.57 L48.00,918.85 L48.50,919.25 L49.00,919.70 L49.50,920.16 L50.00,920.58 L50.50,920.94 L51.00,921.25 L51.50,921.51 L52.00,921.75 L52.50,921.97 L53.00,922.16 L53.50,922.33 L54.00,922.49 L54.50,922.62 L55.00,922.74 L55.50,922.83 L56.00,922.91 L56.50,922.96 L57.00,923.00 L57.50,923.03 L58.00,923.03 L58.50,923.02 L59.00,922.99 L59.50,922.93 L60.00,922.84 L60.50,922.63 L61.00,921.99 L61.50,919.82 L62.00,913.37 L62.50,898.05 L63.00,870.05 L63.50,832.49 L64.00,799.24 L64.50,788.25 L65.00,806.67 L65.50,843.80 L66.00,881.30 L66.50,907.36 L67.00,920.90 L67.50,926.40 L68.00,928.24 L68.50,928.82 L69.00,929.03 L69.50,929.09 L70.00,928.98 L70.50,928.64 L71.00,928.23 L71.50,928.11 L72.00,928.50 L72.50,929.22 L73.00,929.92 L73.50,930.44 L74.00,930.83 L74.50,931.15 L75.00,931.44 L75.50,931.69 L76.00,931.90 L76.50,932.07 L77.00,932.20 L77.50,932.30 L78.00,932.37 L78.50,932.42 L79.00,932.46 L79.50,932.49 L80.00,932.51 L80.50,932.52 L81.00,932.53 L81.50,932.53 L82.00,932.54 L82.50,932.54 L83.00,932.53 L83.50,932.53 L84.00,932.52 L84.50,932.52 L85.00,932.51 L85.50,932.50 L86.00,932.49 L86.50,932.48 L87.00,932.47 L87.50,932.45 L88.00,932.44 L88.50,932.42 L89.00,932.40 L89.50,932.38 L90.00,932.36 L90.50,932.34 L91.00,932.31 L91.50,932.28 L92.00,932.25 L92.50,932.21 L93.00,932.17 L93.50,932.13 L94.00,932.08 L94.50,932.02 L95.00,931.96 L95.50,931.88 L96.00,931.80 L96.50,931.71 L97.00,931.60 L97.50,931.47 L98.00,931.31 L98.50,931.13 L99.00,930.91 L99.50,930.65 L100.00,930.32 L100.50,929.91 L101.00,929.37 L101.50,928.68 L102.00,927.76 L102.50,926.49 L103.00,924.70 L103.50,922.16 L104.00,918.57 L104.50,913.92 L105.00,909.62 L105.50,910.28 L106.00,914.88 L106.50,919.34 L107.00,922.68 L107.50,925.02 L108.00,926.66 L108.50,927.83 L109.00,928.68 L109.50,929.31 L110.00,929.79 L110.50,930.15 L111.00,930.44 L111.50,930.66 L112.00,930.83 L112.50,930.97 L113.00,931.07 L113.50,931.14 L114.00,931.19 L114.50,931.21 L115.00,931.22 L115.50,931.19 L116.00,931.14 L116.50,931.07 L117.00,930.95 L117.50,930.80 L118.00,930.59 L118.50,930.33 L119.00,930.01 L119.50,929.65 L120.00,929.28 L120.50,929.01 L121.00,929.04 L121.50,929.34 L122.00,929.72 L122.50,930.09 L123.00,930.41 L123.50,930.66 L124.00,930.87 L124.50,931.02 L125.00,931.14 L125.50,931.23 L126.00,931.29 L126.50,931.33 L127.00,931.35 L127.50,931.35 L128.00,931.34 L128.50,931.31 L129.00,931.26 L129.50,931.19 L130.00,931.11 L130.50,931.01 L131.00,930.88 L131.50,930.73 L132.00,930.54 L132.50,930.33 L133.00,930.07 L133.50,929.77 L134.00,929.43 L134.50,929.06 L135.00,928.68 L135.50,928.31 L136.00,928.03 L136.50,927.93 L137.00,928.09 L137.50,928.37 L138.00,928.70 L138.50,929.04 L139.00,929.34 L139.50,929.61 L140.00,929.83 L140.50,930.00 L141.00,930.13 L141.50,930.22 L142.00,930.27 L142.50,930.29 L143.00,930.26 L143.50,930.20 L144.00,930.11 L144.50,929.97 L145.00,929.78 L145.50,929.55 L146.00,929.26 L146.50,928.92 L147.00,928.53 L147.50,928.11 L148.00,927.69 L148.50,927.33 L149.00,927.12 L149.50,927.23 L150.00,927.57 L150.50,928.02 L151.00,928.50 L151.50,928.96 L152.00,929.39 L152.50,929.77 L153.00,930.10 L153.50,930.38 L154.00,930.62 L154.50,930.84 L155.00,931.02 L155.50,931.17 L156.00,931.31 L156.50,931.43 L157.00,931.53 L157.50,931.62 L158.00,931.70 L158.50,931.77 L159.00,931.83 L159.50,931.88 L160.00,931.93 L160.50,931.97 L161.00,932.01 L161.50,932.04 L162.00,932.07 L162.50,932.10 L163.00,932.12 L163.50,932.14 L164.00,932.16 L164.50,932.17 L165.00,932.19 L165.50,932.20 L166.00,932.21 L166.50,932.22 L167.00,932.22 L167.50,932.23 L168.00,932.23 L168.50,932.23 L169.00,932.23 L169.50,932.23 L170.00,932.22 L170.50,932.22 L171.00,932.21 L171.50,932.20 L172.00,932.19 L172.50,932.18 L173.00,932.17 L173.50,932.15 L174.00,932.13 L174.50,932.11 L175.00,932.09 L175.50,932.07 L176.00,932.04 L176.50,932.01 L177.00,931.98 L177.50,931.95 L178.00,931.91 L178.50,931.86 L179.00,931.81 L179.50,931.76 L180.00,931.70 L180.50,931.63 L181.00,931.56 L181.50,931.48 L182.00,931.38 L182.50,931.28 L183.00,931.15 L183.50,931.02 L184.00,930.86 L184.50,930.67 L185.00,930.46 L185.50,930.21 L186.00,929.91 L186.50,929.56 L187.00,929.13 L187.50,928.61 L188.00,927.97 L188.50,927.17 L189.00,926.17 L189.50,924.91 L190.00,923.33 L190.50,921.42 L191.00,919.24 L191.50,917.11 L192.00,915.76 L192.50,916.45 L193.00,918.38 L193.50,920.56 L194.00,922.55 L194.50,924.21 L195.00,925.54 L195.50,926.58 L196.00,927.41 L196.50,928.06 L197.00,928.58 L197.50,929.00 L198.00,929.33 L198.50,929.60 L199.00,929.81 L199.50,929.98 L200.00,930.12 L200.50,930.22 L201.00,930.30 L201.50,930.35 L202.00,930.38 L202.50,930.38 L203.00,930.37 L203.50,930.33 L204.00,930.26 L204.50,930.17 L205.00,930.05 L205.50,929.89 L206.00,929.69 L206.50,929.45 L207.00,929.17 L207.50,928.87 L208.00,928.60 L208.50,928.45 L209.00,928.50 L209.50,928.64 L210.00,928.78 L210.50,928.90 L211.00,928.96 L211.50,928.98 L212.00,928.94 L212.50,928.86 L213.00,928.73 L213.50,928.55 L214.00,928.32 L214.50,928.04 L215.00,927.73 L215.50,927.36 L216.00,926.97 L216.50,926.57 L217.00,926.18 L217.50,925.85 L218.00,925.65 L218.50,925.65 L219.00,925.76 L219.50,925.90 L220.00,926.04 L220.50,926.15 L221.00,926.22 L221.50,926.22 L222.00,926.16 L222.50,926.03 L223.00,925.82 L223.50,925.54 L224.00,925.17 L224.50,924.70 L225.00,924.12 L225.50,923.42 L226.00,922.56 L226.50,921.53 L227.00,920.29 L227.50,918.78 L228.00,916.95 L228.50,914.72 L229.00,912.01 L229.50,908.74 L230.00,904.83 L230.50,900.29 L231.00,895.31 L231.50,890.43 L232.00,886.73 L232.50,886.24 L233.00,889.50 L233.50,894.26 L234.00,899.31 L234.50,904.02 L235.00,908.11 L235.50,911.57 L236.00,914.44 L236.50,916.82 L237.00,918.78 L237.50,920.42 L238.00,921.78 L238.50,922.93 L239.00,923.91 L239.50,924.73 L240.00,925.44 L240.50,926.05 L241.00,926.58 L241.50,927.04 L242.00,927.44 L242.50,927.79 L243.00,928.10 L243.50,928.37 L244.00,928.61 L244.50,928.83 L245.00,929.01 L245.50,929.18 L246.00,929.32 L246.50,929.45 L247.00,929.56 L247.50,929.66 L248.00,929.74 L248.50,929.81 L249.00,929.87 L249.50,929.92 L250.00,929.96 L250.50,929.98 L251.00,930.00 L251.50,930.00 L252.00,930.00 L252.50,929.98 L253.00,929.95 L253.50,929.92 L254.00,929.86 L254.50,929.80 L255.00,929.72 L255.50,929.63 L256.00,929.51 L256.50,929.38 L257.00,929.23 L257.50,929.05 L258.00,928.84 L258.50,928.59 L259.00,928.30 L259.50,927.97 L260.00,927.57 L260.50,927.10 L261.00,926.54 L261.50,925.87 L262.00,925.07 L262.50,924.10 L263.00,922.92 L263.50,921.52 L264.00,919.86 L264.50,918.00 L265.00,916.08 L265.50,914.44 L266.00,913.71 L266.50,914.41 L267.00,915.70 L267.50,917.09 L268.00,918.30 L268.50,919.23 L269.00,919.85 L269.50,920.15 L270.00,920.14 L270.50,919.81 L271.00,919.15 L271.50,918.11 L272.00,916.63 L272.50,914.60 L273.00,911.88 L273.50,908.29 L274.00,903.62 L274.50,897.79 L275.00,891.07 L275.50,884.69 L276.00,881.64 L276.50,885.51 L277.00,892.22 L277.50,899.07 L278.00,904.99 L278.50,909.74 L279.00,913.48 L279.50,916.39 L280.00,918.66 L280.50,920.45 L281.00,921.86 L281.50,922.99 L282.00,923.88 L282.50,924.57 L283.00,925.11 L283.50,925.50 L284.00,925.75 L284.50,925.87 L285.00,925.85 L285.50,925.65 L286.00,925.25 L286.50,924.62 L287.00,923.70 L287.50,922.56 L288.00,921.43 L288.50,920.99 L289.00,921.97 L289.50,923.44 L290.00,924.86 L290.50,926.03 L291.00,926.95 L291.50,927.67 L292.00,928.23 L292.50,928.66 L293.00,929.01 L293.50,929.28 L294.00,929.51 L294.50,929.69 L295.00,929.83 L295.50,929.95 L296.00,930.04 L296.50,930.11 L297.00,930.16 L297.50,930.20 L298.00,930.21 L298.50,930.22 L299.00,930.20 L299.50,930.17 L300.00,930.11 L300.50,930.04 L301.00,929.95 L301.50,929.82 L302.00,929.67 L302.50,929.47 L303.00,929.23 L303.50,928.92 L304.00,928.52 L304.50,928.02 L305.00,927.37 L305.50,926.52 L306.00,925.42 L306.50,924.03 L307.00,922.41 L307.50,920.90 L308.00,920.38 L308.50,921.40 L309.00,922.88 L309.50,924.25 L310.00,925.34 L310.50,926.14 L311.00,926.71 L311.50,927.11 L312.00,927.36 L312.50,927.49 L313.00,927.54 L313.50,927.51 L314.00,927.42 L314.50,927.25 L315.00,927.03 L315.50,926.73 L316.00,926.37 L316.50,925.92 L317.00,925.39 L317.50,924.75 L318.00,923.99 L318.50,923.08 L319.00,922.00 L319.50,920.70 L320.00,919.13 L320.50,917.24 L321.00,914.93 L321.50,912.13 L322.00,908.75 L322.50,904.72 L323.00,900.07 L323.50,895.04 L324.00,890.28 L324.50,887.00 L325.00,887.48 L325.50,891.20 L326.00,896.11 L326.50,901.10 L327.00,905.64 L327.50,909.54 L328.00,912.81 L328.50,915.51 L329.00,917.73 L329.50,919.56 L330.00,921.09 L330.50,922.35 L331.00,923.42 L331.50,924.31 L332.00,925.07 L332.50,925.72 L333.00,926.27 L333.50,926.75 L334.00,927.16 L334.50,927.51 L335.00,927.81 L335.50,928.07 L336.00,928.29 L336.50,928.48 L337.00,928.63 L337.50,928.76 L338.00,928.86 L338.50,928.94 L339.00,929.00 L339.50,929.03 L340.00,929.03 L340.50,929.01 L341.00,928.97 L341.50,928.90 L342.00,928.80 L342.50,928.67 L343.00,928.51 L343.50,928.30 L344.00,928.05 L344.50,927.75 L345.00,927.39 L345.50,926.96 L346.00,926.47 L346.50,925.91 L347.00,925.30 L347.50,924.67 L348.00,924.07 L348.50,923.61 L349.00,923.45 L349.50,923.54 L350.00,923.73 L350.50,923.92 L351.00,924.04 L351.50,924.06 L352.00,923.95 L352.50,923.68 L353.00,923.25 L353.50,922.63 L354.00,921.79 L354.50,920.69 L355.00,919.28 L355.50,917.48 L356.00,915.24 L356.50,912.48 L357.00,909.19 L357.50,905.48 L358.00,901.74 L358.50,898.82 L359.00,898.37 L359.50,900.95 L360.00,904.71 L360.50,908.63 L361.00,912.22 L361.50,915.30 L362.00,917.86 L362.50,919.96 L363.00,921.69 L363.50,923.11 L364.00,924.29 L364.50,925.27 L365.00,926.09 L365.50,926.78 L366.00,927.37 L366.50,927.88 L367.00,928.32 L367.50,928.69 L368.00,929.02 L368.50,929.31 L369.00,929.57 L369.50,929.79 L370.00,929.99 L370.50,930.17 L371.00,930.33 L371.50,930.47 L372.00,930.59 L372.50,930.70 L373.00,930.80 L373.50,930.89 L374.00,930.97 L374.50,931.04 L375.00,931.10 L375.50,931.15 L376.00,931.20 L376.50,931.23 L377.00,931.27 L377.50,931.29 L378.00,931.31 L378.50,931.33 L379.00,931.34 L379.50,931.34 L380.00,931.34 L380.50,931.33 L381.00,931.32 L381.50,931.30 L382.00,931.28 L382.50,931.24 L383.00,931.21 L383.50,931.16 L384.00,931.11 L384.50,931.05 L385.00,930.99 L385.50,930.91 L386.00,930.83 L386.50,930.73 L387.00,930.62 L387.50,930.50 L388.00,930.37 L388.50,930.22 L389.00,930.05 L389.50,929.87 L390.00,929.66 L390.50,929.42 L391.00,929.16 L391.50,928.86 L392.00,928.53 L392.50,928.14 L393.00,927.71 L393.50,927.21 L394.00,926.64 L394.50,925.99 L395.00,925.22 L395.50,924.34 L396.00,923.29 L396.50,922.07 L397.00,920.61 L397.50,918.88 L398.00,916.82 L398.50,914.36 L399.00,911.44 L399.50,908.03 L400.00,904.15 L400.50,899.97 L401.00,895.90 L401.50,892.73 L402.00,891.87 L402.50,894.04 L403.00,897.53 L403.50,901.34 L404.00,904.87 L404.50,907.77 L405.00,909.84 L405.50,910.96 L406.00,911.30 L406.50,912.32 L407.00,915.42 L407.50,918.48 L408.00,920.87 L408.50,922.64 L409.00,923.99 L409.50,925.02 L410.00,925.81 L410.50,926.41 L411.00,926.82 L411.50,927.03 L412.00,927.01 L412.50,926.75 L413.00,926.52 L413.50,927.14 L414.00,928.12 L414.50,928.93 L415.00,929.55 L415.50,930.01 L416.00,930.37 L416.50,930.66 L417.00,930.90 L417.50,931.11 L418.00,931.29 L418.50,931.45 L419.00,931.60 L419.50,931.73 L420.00,931.84 L420.50,931.95 L421.00,932.05 L421.50,932.14 L422.00,932.22 L422.50,932.30 L423.00,932.38 L423.50,932.44 L424.00,932.51 L424.50,932.57 L425.00,932.63 L425.50,932.68 L426.00,932.73 L426.50,932.78 L427.00,932.82 L427.50,932.87 L428.00,932.91 L428.50,932.95 L429.00,932.98 L429.50,933.02 L430.00,933.05 L430.50,933.08 L431.00,933.11 L431.50,933.14 L432.00,933.17 L432.50,933.20 L433.00,933.23 L433.50,933.25 L434.00,933.28 L434.50,933.30 L435.00,933.32 L435.50,933.34 L436.00,933.36 L436.50,933.39 L437.00,933.40 L437.50,933.42 L438.00,933.44 L438.50,933.46 L439.00,933.48 L439.50,933.49 L440.00,933.51 L440.50,933.53 L441.00,933.54 L441.50,933.56 L442.00,933.57 L442.50,933.58 L443.00,933.60 L443.50,933.61 L444.00,933.62 L444.50,933.64 L445.00,933.65 L445.50,933.66 L446.00,933.67 L446.50,933.69 L447.00,933.70 L447.50,933.71 L448.00,933.72 L448.50,933.73 L449.00,933.74 L449.50,933.75 L450.00,933.76 L450.50,933.77 L451.00,933.78 L451.50,933.79 L452.00,933.80 L452.50,933.81 L453.00,933.81 L453.50,933.82 L454.00,933.83 L454.50,933.84 L455.00,933.85 L455.50,933.86 L456.00,933.86 L456.50,933.87 L457.00,933.88 L457.50,933.89 L458.00,933.89 L458.50,933.90 L459.00,933.91 L459.50,933.91 L460.00,933.92 L460.50,933.93 L461.00,933.93 L461.50,933.94 L462.00,933.95 L462.50,933.95 L463.00,933.96 L463.50,933.97 L464.00,933.97 L464.50,933.98 L465.00,933.98 L465.50,933.99 L466.00,934.00 L466.50,934.00 L467.00,934.01 L467.50,934.01 L468.00,934.02 L468.50,934.02 L469.00,934.03 L469.50,934.03 L470.00,934.04 L470.50,934.05 L471.00,934.05 L471.50,934.06 L472.00,934.06 L472.50,934.07 L473.00,934.07 L473.50,934.08 L474.00,934.08 L474.50,934.08 L475.00,934.09 L475.50,934.09 L476.00,934.10 L476.50,934.10 L477.00,934.11 L477.50,934.11 L478.00,934.12 L478.50,934.12 L479.00,934.13 L479.50,934.13 L480.00,934.13 L480.50,934.14 L481.00,934.14 L481.50,934.15 L482.00,934.15 L482.50,934.15 L483.00,934.16 L483.50,934.16 L484.00,934.17 L484.50,934.17 L485.00,934.18 L485.50,934.18 L486.00,934.18 L486.50,934.19 L487.00,934.19 L487.50,934.19 L488.00,934.20 L488.50,934.20 L489.00,934.21 L489.50,934.21 L490.00,934.21 L490.50,934.22 L491.00,934.22 L491.50,934.22 L492.00,934.23 L492.50,934.23 L493.00,934.23 L493.50,934.24 L494.00,934.24 L494.50,934.24 L495.00,934.25 L495.50,934.25 L496.00,934.26 L496.50,934.26 L497.00,934.26" stroke="#606060"/>
<path d="M23.50,879.63 L24.00,879.69 L24.50,879.78 L25.00,879.88 L25.50,879.99 L26.00,880.10 L26.50,880.20 L27.00,880.26 L27.50,880.28 L28.00,880.26 L28.50,880.20 L29.00,880.09 L29.50,879.97 L30.00,879.83 L30.50,879.69 L31.00,879.56 L31.50,879.44 L32.00,879.32 L32.50,879.22 L33.00,879.11 L33.50,879.00 L34.00,878.88 L34.50,878.74 L35.00,878.59 L35.50,878.42 L36.00,878.23 L36.50,878.00 L37.00,877.74 L37.50,877.42 L38.00,877.05 L38.50,876.63 L39.00,876.20 L39.50,875.81 L40.00,875.50 L40.50,875.30 L41.00,875.19 L41.50,875.13 L42.00,875.10 L42.50,875.05 L43.00,874.99 L43.50,874.93 L44.00,874.86 L44.50,874.79 L45.00,874.70 L45.50,874.60 L46.00,874.50 L46.50,874.42 L47.00,874.43 L47.50,874.56 L48.00,874.83 L48.50,875.23 L49.00,875.68 L49.50,876.14 L50.00,876.55 L50.50,876.91 L51.00,877.21 L51.50,877.48 L52.00,877.71 L52.50,877.92 L53.00,878.11 L53.50,878.28 L54.00,878.42 L54.50,878.55 L55.00,878.65 L55.50,878.74 L56.00,878.80 L56.50,878.84 L57.00,878.86 L57.50,878.85 L58.00,878.80 L58.50,878.67 L59.00,878.37 L59.50,877.67 L60.00,876.13 L60.50,872.98 L61.00,867.14 L61.50,857.37 L62.00,842.83 L62.50,823.75 L63.00,802.07 L63.50,781.52 L64.00,766.99 L64.50,763.03 L65.00,771.23 L65.50,788.89 L66.00,811.11 L66.50,833.20 L67.00,851.88 L67.50,865.68 L68.00,874.72 L68.50,880.02 L69.00,882.84 L69.50,884.17 L70.00,884.65 L70.50,884.59 L71.00,884.34 L71.50,884.35 L72.00,884.85 L72.50,885.65 L73.00,886.42 L73.50,887.01 L74.00,887.46 L74.50,887.85 L75.00,888.21 L75.50,888.52 L76.00,888.78 L76.50,888.99 L77.00,889.15 L77.50,889.28 L78.00,889.37 L78.50,889.44 L79.00,889.49 L79.50,889.52 L80.00,889.55 L80.50,889.57 L81.00,889.58 L81.50,889.59 L82.00,889.59 L82.50,889.59 L83.00,889.59 L83.50,889.59 L84.00,889.59 L84.50,889.59 L85.00,889.58 L85.50,889.58 L86.00,889.57 L86.50,889.56 L87.00,889.55 L87.50,889.54 L88.00,889.53 L88.50,889.52 L89.00,889.51 L89.50,889.49 L90.00,889.48 L90.50,889.46 L91.00,889.44 L91.50,889.42 L92.00,889.39 L92.50,889.37 L93.00,889.34 L93.50,889.30 L94.00,889.27 L94.50,889.22 L95.00,889.17 L95.50,889.12 L96.00,889.06 L96.50,888.98 L97.00,888.90 L97.50,888.80 L98.00,888.68 L98.50,888.53 L99.00,888.36 L99.50,888.15 L100.00,887.88 L100.50,887.55 L101.00,887.11 L101.50,886.53 L102.00,885.75 L102.50,884.65 L103.00,883.11 L103.50,880.90 L104.00,877.89 L104.50,874.52 L105.00,873.15 L105.50,875.82 L106.00,879.16 L106.50,881.82 L107.00,883.72 L107.50,885.04 L108.00,885.97 L108.50,886.64 L109.00,887.13 L109.50,887.50 L110.00,887.78 L110.50,887.99 L111.00,888.15 L111.50,888.28 L112.00,888.37 L112.50,888.43 L113.00,888.47 L113.50,888.49 L114.00,888.48 L114.50,888.45 L115.00,888.40 L115.50,888.32 L116.00,888.20 L116.50,888.04 L117.00,887.84 L117.50,887.59 L118.00,887.32 L118.50,887.05 L119.00,886.88 L119.50,886.97 L120.00,887.22 L120.50,887.51 L121.00,887.78 L121.50,888.00 L122.00,888.19 L122.50,888.33 L123.00,888.44 L123.50,888.52 L124.00,888.58 L124.50,888.62 L125.00,888.65 L125.50,888.65 L126.00,888.65 L126.50,888.63 L127.00,888.60 L127.50,888.56 L128.00,888.50 L128.50,888.43 L129.00,888.34 L129.50,888.24 L130.00,888.11 L130.50,887.96 L131.00,887.78 L131.50,887.57 L132.00,887.32 L132.50,887.03 L133.00,886.71 L133.50,886.35 L134.00,885.99 L134.50,885.66 L135.00,885.42 L135.50,885.37 L136.00,885.55 L136.50,885.84 L137.00,886.17 L137.50,886.49 L138.00,886.79 L138.50,887.05 L139.00,887.27 L139.50,887.45 L140.00,887.59 L140.50,887.70 L141.00,887.78 L141.50,887.83 L142.00,887.86 L142.50,887.86 L143.00,887.84 L143.50,887.79 L144.00,887.71 L144.50,887.61 L145.00,887.47 L145.50,887.30 L146.00,887.09 L146.50,886.84 L147.00,886.53 L147.50,886.18 L148.00,885.78 L148.50,885.35 L149.00,884.92 L149.50,884.57 L150.00,884.36 L150.50,884.47 L151.00,884.81 L151.50,885.24 L152.00,885.70 L152.50,886.15 L153.00,886.56 L153.50,886.92 L154.00,887.24 L154.50,887.51 L155.00,887.75 L155.50,887.95 L156.00,888.12 L156.50,888.27 L157.00,888.40 L157.50,888.51 L158.00,888.61 L158.50,888.69 L159.00,888.76 L159.50,888.83 L160.00,888.89 L160.50,888.94 L161.00,888.98 L161.50,889.02 L162.00,889.05 L162.50,889.08 L163.00,889.11 L163.50,889.13 L164.00,889.15 L164.50,889.17 L165.00,889.19 L165.50,889.20 L166.00,889.21 L166.50,889.22 L167.00,889.22 L167.50,889.23 L168.00,889.23 L168.50,889.23 L169.00,889.23 L169.50,889.23 L170.00,889.23 L170.50,889.22 L171.00,889.21 L171.50,889.21 L172.00,889.20 L172.50,889.18 L173.00,889.17 L173.50,889.15 L174.00,889.13 L174.50,889.11 L175.00,889.09 L175.50,889.07 L176.00,889.04 L176.50,889.01 L177.00,888.97 L177.50,888.93 L178.00,888.89 L178.50,888.84 L179.00,888.79 L179.50,888.73 L180.00,888.67 L180.50,888.60 L181.00,888.52 L181.50,888.43 L182.00,888.32 L182.50,888.21 L183.00,888.08 L183.50,887.92 L184.00,887.75 L184.50,887.54 L185.00,887.30 L185.50,887.02 L186.00,886.69 L186.50,886.28 L187.00,885.79 L187.50,885.19 L188.00,884.44 L188.50,883.51 L189.00,882.33 L189.50,880.86 L190.00,879.03 L190.50,876.86 L191.00,874.56 L191.50,872.68 L192.00,872.43 L192.50,874.08 L193.00,876.32 L193.50,878.50 L194.00,880.36 L194.50,881.86 L195.00,883.06 L195.50,883.99 L196.00,884.73 L196.50,885.31 L197.00,885.77 L197.50,886.14 L198.00,886.44 L198.50,886.67 L199.00,886.86 L199.50,887.00 L200.00,887.11 L200.50,887.18 L201.00,887.23 L201.50,887.24 L202.00,887.23 L202.50,887.19 L203.00,887.11 L203.50,887.00 L204.00,886.85 L204.50,886.65 L205.00,886.43 L205.50,886.18 L206.00,885.96 L206.50,885.84 L207.00,885.91 L207.50,886.06 L208.00,886.22 L208.50,886.34 L209.00,886.43 L209.50,886.47 L210.00,886.47 L210.50,886.42 L211.00,886.33 L211.50,886.21 L212.00,886.04 L212.50,885.84 L213.00,885.59 L213.50,885.32 L214.00,885.02 L214.50,884.71 L215.00,884.41 L215.50,884.16 L216.00,884.03 L216.50,884.05 L217.00,884.16 L217.50,884.31 L218.00,884.45 L218.50,884.58 L219.00,884.68 L219.50,884.74 L220.00,884.75 L220.50,884.71 L221.00,884.64 L221.50,884.51 L222.00,884.33 L222.50,884.11 L223.00,883.82 L223.50,883.48 L224.00,883.07 L224.50,882.58 L225.00,882.00 L225.50,881.32 L226.00,880.51 L226.50,879.56 L227.00,878.42 L227.50,877.06 L228.00,875.44 L228.50,873.48 L229.00,871.12 L229.50,868.28 L230.00,864.87 L230.50,860.86 L231.00,856.29 L231.50,851.42 L232.00,846.87 L232.50,843.77 L233.00,844.21 L233.50,847.73 L234.00,852.44 L234.50,857.30 L235.00,861.78 L235.50,865.69 L236.00,868.99 L236.50,871.75 L237.00,874.04 L237.50,875.95 L238.00,877.54 L238.50,878.88 L239.00,880.00 L239.50,880.96 L240.00,881.78 L240.50,882.48 L241.00,883.09 L241.50,883.62 L242.00,884.07 L242.50,884.48 L243.00,884.83 L243.50,885.14 L244.00,885.41 L244.50,885.66 L245.00,885.87 L245.50,886.06 L246.00,886.23 L246.50,886.38 L247.00,886.51 L247.50,886.63 L248.00,886.73 L248.50,886.81 L249.00,886.89 L249.50,886.95 L250.00,887.00 L250.50,887.05 L251.00,887.08 L251.50,887.10 L252.00,887.11 L252.50,887.11 L253.00,887.10 L253.50,887.09 L254.00,887.06 L254.50,887.02 L255.00,886.96 L255.50,886.90 L256.00,886.82 L256.50,886.72 L257.00,886.61 L257.50,886.47 L258.00,886.32 L258.50,886.14 L259.00,885.92 L259.50,885.68 L260.00,885.39 L260.50,885.04 L261.00,884.64 L261.50,884.16 L262.00,883.59 L262.50,882.90 L263.00,882.07 L263.50,881.07 L264.00,879.86 L264.50,878.42 L265.00,876.77 L265.50,874.99 L266.00,873.32 L266.50,872.21 L267.00,872.39 L267.50,873.34 L268.00,874.47 L268.50,875.47 L269.00,876.21 L269.50,876.62 L270.00,876.69 L270.50,876.40 L271.00,875.74 L271.50,874.67 L272.00,873.09 L272.50,870.91 L273.00,867.96 L273.50,864.08 L274.00,859.09 L274.50,853.05 L275.00,846.63 L275.50,841.79 L276.00,842.57 L276.50,848.16 L277.00,854.82 L277.50,860.90 L278.00,865.91 L278.50,869.87 L279.00,872.96 L279.50,875.36 L280.00,877.24 L280.50,878.72 L281.00,879.88 L281.50,880.80 L282.00,881.51 L282.50,882.05 L283.00,882.44 L283.50,882.69 L284.00,882.79 L284.50,882.73 L285.00,882.50 L285.50,882.05 L286.00,881.34 L286.50,880.34 L287.00,879.08 L287.50,877.83 L288.00,877.31 L288.50,878.35 L289.00,879.93 L289.50,881.46 L290.00,882.73 L290.50,883.73 L291.00,884.50 L291.50,885.10 L292.00,885.57 L292.50,885.95 L293.00,886.24 L293.50,886.48 L294.00,886.68 L294.50,886.83 L295.00,886.96 L295.50,887.06 L296.00,887.14 L296.50,887.19 L297.00,887.23 L297.50,887.26 L298.00,887.26 L298.50,887.25 L299.00,887.22 L299.50,887.17 L300.00,887.10 L300.50,887.01 L301.00,886.89 L301.50,886.73 L302.00,886.54 L302.50,886.29 L303.00,885.98 L303.50,885.58 L304.00,885.06 L304.50,884.40 L305.00,883.53 L305.50,882.41 L306.00,881.01 L306.50,879.42 L307.00,878.03 L307.50,877.83 L308.00,878.98 L308.50,880.44 L309.00,881.74 L309.50,882.77 L310.00,883.52 L310.50,884.06 L311.00,884.43 L311.50,884.67 L312.00,884.81 L312.50,884.87 L313.00,884.85 L313.50,884.77 L314.00,884.63 L314.50,884.43 L315.00,884.17 L315.50,883.85 L316.00,883.45 L316.50,882.98 L317.00,882.42 L317.50,881.75 L318.00,880.96 L318.50,880.01 L319.00,878.88 L319.50,877.52 L320.00,875.88 L320.50,873.89 L321.00,871.48 L321.50,868.55 L322.00,865.04 L322.50,860.90 L323.00,856.22 L323.50,851.37 L324.00,847.18 L324.50,845.11 L325.00,847.18 L325.50,851.38 L326.00,856.24 L326.50,860.92 L327.00,865.07 L327.50,868.59 L328.00,871.53 L328.50,873.95 L329.00,875.95 L329.50,877.60 L330.00,878.98 L330.50,880.12 L331.00,881.09 L331.50,881.91 L332.00,882.60 L332.50,883.20 L333.00,883.70 L333.50,884.14 L334.00,884.52 L334.50,884.84 L335.00,885.12 L335.50,885.37 L336.00,885.57 L336.50,885.75 L337.00,885.89 L337.50,886.02 L338.00,886.11 L338.50,886.19 L339.00,886.24 L339.50,886.27 L340.00,886.28 L340.50,886.27 L341.00,886.24 L341.50,886.18 L342.00,886.09 L342.50,885.98 L343.00,885.84 L343.50,885.65 L344.00,885.43 L344.50,885.17 L345.00,884.85 L345.50,884.48 L346.00,884.05 L346.50,883.55 L347.00,883.02 L347.50,882.46 L348.00,881.93 L348.50,881.52 L349.00,881.36 L349.50,881.42 L350.00,881.55 L350.50,881.69 L351.00,881.76 L351.50,881.75 L352.00,881.61 L352.50,881.35 L353.00,880.94 L353.50,880.36 L354.00,879.59 L354.50,878.59 L355.00,877.32 L355.50,875.71 L356.00,873.72 L356.50,871.24 L357.00,868.24 L357.50,864.72 L358.00,860.85 L358.50,857.13 L359.00,854.56 L359.50,854.97 L360.00,858.00 L360.50,861.92 L361.00,865.87 L361.50,869.42 L362.00,872.45 L362.50,874.96 L363.00,877.03 L363.50,878.74 L364.00,880.14 L364.50,881.30 L365.00,882.27 L365.50,883.09 L366.00,883.78 L366.50,884.37 L367.00,884.88 L367.50,885.32 L368.00,885.70 L368.50,886.03 L369.00,886.32 L369.50,886.58 L370.00,886.81 L370.50,887.01 L371.00,887.19 L371.50,887.35 L372.00,887.49 L372.50,887.62 L373.00,887.73 L373.50,887.83 L374.00,887.92 L374.50,888.00 L375.00,888.07 L375.50,888.14 L376.00,888.19 L376.50,888.24 L377.00,888.28 L377.50,888.32 L378.00,888.35 L378.50,888.37 L379.00,888.39 L379.50,888.40 L380.00,888.41 L380.50,888.42 L381.00,888.41 L381.50,888.40 L382.00,888.39 L382.50,888.37 L383.00,888.35 L383.50,888.32 L384.00,888.28 L384.50,888.24 L385.00,888.19 L385.50,888.13 L386.00,888.07 L386.50,888.00 L387.00,887.91 L387.50,887.82 L388.00,887.72 L388.50,887.61 L389.00,887.48 L389.50,887.34 L390.00,887.18 L390.50,887.00 L391.00,886.80 L391.50,886.58 L392.00,886.33 L392.50,886.05 L393.00,885.74 L393.50,885.38 L394.00,884.98 L394.50,884.52 L395.00,883.99 L395.50,883.38 L396.00,882.68 L396.50,881.86 L397.00,880.91 L397.50,879.79 L398.00,878.46 L398.50,876.88 L399.00,875.00 L399.50,872.75 L400.00,870.05 L400.50,866.84 L401.00,863.08 L401.50,858.80 L402.00,854.23 L402.50,849.88 L403.00,846.71 L403.50,846.50 L404.00,849.46 L404.50,853.74 L405.00,858.33 L405.50,862.65 L406.00,866.47 L406.50,869.73 L407.00,872.47 L407.50,874.75 L408.00,876.64 L408.50,878.21 L409.00,879.51 L409.50,880.58 L410.00,881.45 L410.50,882.12 L411.00,882.60 L411.50,882.86 L412.00,882.85 L412.50,882.56 L413.00,882.31 L413.50,883.05 L414.00,884.20 L414.50,885.17 L415.00,885.89 L415.50,886.43 L416.00,886.86 L416.50,887.21 L417.00,887.50 L417.50,887.74 L418.00,887.96 L418.50,888.14 L419.00,888.31 L419.50,888.46 L420.00,888.60 L420.50,888.73 L421.00,888.84 L421.50,888.95 L422.00,889.04 L422.50,889.13 L423.00,889.22 L423.50,889.30 L424.00,889.37 L424.50,889.44 L425.00,889.50 L425.50,889.56 L426.00,889.62 L426.50,889.67 L427.00,889.72 L427.50,889.77 L428.00,889.82 L428.50,889.86 L429.00,889.90 L429.50,889.94 L430.00,889.98 L430.50,890.02 L431.00,890.05 L431.50,890.08 L432.00,890.11 L432.50,890.14 L433.00,890.17 L433.50,890.20 L434.00,890.23 L434.50,890.25 L435.00,890.28 L435.50,890.30 L436.00,890.32 L436.50,890.35 L437.00,890.37 L437.50,890.39 L438.00,890.41 L438.50,890.43 L439.00,890.45 L439.50,890.46 L440.00,890.48 L440.50,890.50 L441.00,890.51 L441.50,890.53 L442.00,890.55 L442.50,890.56 L443.00,890.57 L443.50,890.59 L444.00,890.60 L444.50,890.62 L445.00,890.63 L445.50,890.64 L446.00,890.65 L446.50,890.67 L447.00,890.68 L447.50,890.69 L448.00,890.70 L448.50,890.71 L449.00,890.72 L449.50,890.73 L450.00,890.74 L450.50,890.75 L451.00,890.76 L451.50,890.77 L452.00,890.78 L452.50,890.79 L453.00,890.80 L453.50,890.81 L454.00,890.82 L454.50,890.83 L455.00,890.84 L455.50,890.84 L456.00,890.85 L456.50,890.86 L457.00,890.87 L457.50,890.88 L458.00,890.88 L458.50,890.89 L459.00,890.90 L459.50,890.91 L460.00,890.91 L460.50,890.92 L461.00,890.93 L461.50,890.93 L462.00,890.94 L462.50,890.95 L463.00,890.95 L463.50,890.96 L464.00,890.97 L464.50,890.97 L465.00,890.98 L465.50,890.98 L466.00,890.99 L466.50,891.00 L467.00,891.00 L467.50,891.01 L468.00,891.01 L468.50,891.02 L469.00,891.02 L469.50,891.03 L470.00,891.04 L470.50,891.04 L471.00,891.05 L471.50,891.05 L472.00,891.06 L472.50,891.06 L473.00,891.07 L473.50,891.07 L474.00,891.08 L474.50,891.08 L475.00,891.09 L475.50,891.09 L476.00,891.10 L476.50,891.10 L477.00,891.10 L477.50,891.11 L478.00,891.11 L478.50,891.12 L479.00,891.12 L479.50,891.13 L480.00,891.13 L480.50,891.14 L481.00,891.14 L481.50,891.14 L482.00,891.15 L482.50,891.15 L483.00,891.16 L483.50,891.16 L484.00,891.17 L484.50,891.17 L485.00,891.17 L485.50,891.18 L486.00,891.18 L486.50,891.19 L487.00,891.19 L487.50,891.19 L488.00,891.20 L488.50,891.20 L489.00,891.20 L489.50,891.21 L490.00,891.21 L490.50,891.22 L491.00,891.22 L491.50,891.22 L492.00,891.23 L492.50,891.23 L493.00,891.23 L493.50,891.24 L494.00,891.24 L494.50,891.24 L495.00,891.25 L495.50,891.25 L496.00,891.25 L496.50,891.26 L497.00,891.26" stroke="#dc5f6f"/>
<path d="M23.50,840.28 L24.00,840.35 L24.50,840.43 L25.00,840.53 L25.50,840.65 L26.00,840.76 L26.50,840.85 L27.00,840.91 L27.50,840.94 L28.00,840.92 L28.50,840.85 L29.00,840.75 L29.50,840.62 L30.00,840.48 L30.50,840.34 L31.00,840.21 L31.50,840.09 L32.00,839.98 L32.50,839.87 L33.00,839.77 L33.50,839.65 L34.00,839.53 L34.50,839.40 L35.00,839.25 L35.50,839.08 L36.00,838.89 L36.50,838.66 L37.00,838.40 L37.50,838.08 L38.00,837.71 L38.50,837.29 L39.00,836.86 L39.50,836.47 L40.00,836.16 L40.50,835.96 L41.00,835.84 L41.50,835.79 L42.00,835.75 L42.50,835.71 L43.00,835.65 L43.50,835.59 L44.00,835.52 L44.50,835.44 L45.00,835.36 L45.50,835.26 L46.00,835.16 L46.50,835.08 L47.00,835.08 L47.50,835.21 L48.00,835.49 L48.50,835.88 L49.00,836.34 L49.50,836.79 L50.00,837.21 L50.50,837.56 L51.00,837.87 L51.50,838.13 L52.00,838.36 L52.50,838.57 L53.00,838.76 L53.50,838.92 L54.00,839.07 L54.50,839.19 L55.00,839.30 L55.50,839.38 L56.00,839.43 L56.50,839.47 L57.00,839.49 L57.50,839.48 L58.00,839.43 L58.50,839.32 L59.00,839.05 L59.50,838.44 L60.00,837.04 L60.50,834.07 L61.00,828.32 L61.50,818.30 L62.00,802.84 L62.50,781.92 L63.00,757.56 L63.50,734.01 L64.00,717.08 L64.50,712.19 L65.00,721.31 L65.50,741.28 L66.00,766.29 L66.50,790.80 L67.00,811.05 L67.50,825.57 L68.00,834.75 L68.50,839.94 L69.00,842.58 L69.50,843.80 L70.00,844.23 L70.50,844.18 L71.00,843.98 L71.50,844.06 L72.00,844.66 L72.50,845.60 L73.00,846.52 L73.50,847.27 L74.00,847.90 L74.50,848.47 L75.00,849.00 L75.50,849.45 L76.00,849.84 L76.50,850.15 L77.00,850.39 L77.50,850.58 L78.00,850.71 L78.50,850.81 L79.00,850.89 L79.50,850.94 L80.00,850.98 L80.50,851.00 L81.00,851.02 L81.50,851.03 L82.00,851.04 L82.50,851.04 L83.00,851.04 L83.50,851.04 L84.00,851.04 L84.50,851.04 L85.00,851.03 L85.50,851.03 L86.00,851.02 L86.50,851.01 L87.00,851.00 L87.50,850.99 L88.00,850.98 L88.50,850.97 L89.00,850.95 L89.50,850.94 L90.00,850.92 L90.50,850.90 L91.00,850.88 L91.50,850.85 L92.00,850.82 L92.50,850.79 L93.00,850.76 L93.50,850.72 L94.00,850.68 L94.50,850.63 L95.00,850.58 L95.50,850.52 L96.00,850.45 L96.50,850.37 L97.00,850.27 L97.50,850.16 L98.00,850.03 L98.50,849.87 L99.00,849.68 L99.50,849.44 L100.00,849.15 L100.50,848.78 L101.00,848.29 L101.50,847.65 L102.00,846.78 L102.50,845.57 L103.00,843.85 L103.50,841.40 L104.00,838.05 L104.50,834.29 L105.00,832.76 L105.50,835.74 L106.00,839.46 L106.50,842.42 L107.00,844.53 L107.50,845.99 L108.00,847.02 L108.50,847.76 L109.00,848.30 L109.50,848.70 L110.00,849.01 L110.50,849.24 L111.00,849.41 L111.50,849.54 L112.00,849.64 L112.50,849.70 L113.00,849.74 L113.50,849.74 L114.00,849.73 L114.50,849.68 L115.00,849.61 L115.50,849.49 L116.00,849.34 L116.50,849.13 L117.00,848.87 L117.50,848.56 L118.00,848.20 L118.50,847.88 L119.00,847.69 L119.50,847.83 L120.00,848.15 L120.50,848.51 L121.00,848.84 L121.50,849.12 L122.00,849.34 L122.50,849.51 L123.00,849.65 L123.50,849.74 L124.00,849.81 L124.50,849.86 L125.00,849.89 L125.50,849.90 L126.00,849.89 L126.50,849.87 L127.00,849.83 L127.50,849.78 L128.00,849.71 L128.50,849.62 L129.00,849.51 L129.50,849.38 L130.00,849.22 L130.50,849.04 L131.00,848.82 L131.50,848.55 L132.00,848.25 L132.50,847.90 L133.00,847.50 L133.50,847.06 L134.00,846.62 L134.50,846.21 L135.00,845.91 L135.50,845.85 L136.00,846.07 L136.50,846.42 L137.00,846.82 L137.50,847.22 L138.00,847.58 L138.50,847.89 L139.00,848.16 L139.50,848.37 L140.00,848.54 L140.50,848.67 L141.00,848.75 L141.50,848.80 L142.00,848.82 L142.50,848.81 L143.00,848.75 L143.50,848.67 L144.00,848.54 L144.50,848.38 L145.00,848.16 L145.50,847.90 L146.00,847.58 L146.50,847.20 L147.00,846.77 L147.50,846.30 L148.00,845.83 L148.50,845.41 L149.00,845.14 L149.50,845.19 L150.00,845.54 L150.50,846.02 L151.00,846.55 L151.50,847.06 L152.00,847.53 L152.50,847.96 L153.00,848.32 L153.50,848.64 L154.00,848.92 L154.50,849.15 L155.00,849.35 L155.50,849.53 L156.00,849.68 L156.50,849.81 L157.00,849.92 L157.50,850.02 L158.00,850.11 L158.50,850.18 L159.00,850.25 L159.50,850.31 L160.00,850.36 L160.50,850.41 L161.00,850.45 L161.50,850.49 L162.00,850.52 L162.50,850.55 L163.00,850.57 L163.50,850.59 L164.00,850.61 L164.50,850.63 L165.00,850.64 L165.50,850.65 L166.00,850.66 L166.50,850.67 L167.00,850.68 L167.50,850.68 L168.00,850.68 L168.50,850.68 L169.00,850.68 L169.50,850.68 L170.00,850.67 L170.50,850.66 L171.00,850.65 L171.50,850.64 L172.00,850.63 L172.50,850.62 L173.00,850.60 L173.50,850.58 L174.00,850.56 L174.50,850.54 L175.00,850.51 L175.50,850.48 L176.00,850.45 L176.50,850.41 L177.00,850.37 L177.50,850.33 L178.00,850.28 L178.50,850.23 L179.00,850.17 L179.50,850.10 L180.00,850.03 L180.50,849.94 L181.00,849.85 L181.50,849.75 L182.00,849.63 L182.50,849.50 L183.00,849.34 L183.50,849.17 L184.00,848.97 L184.50,848.73 L185.00,848.46 L185.50,848.14 L186.00,847.75 L186.50,847.29 L187.00,846.72 L187.50,846.03 L188.00,845.17 L188.50,844.10 L189.00,842.75 L189.50,841.05 L190.00,838.94 L190.50,836.45 L191.00,833.80 L191.50,831.64 L192.00,831.35 L192.50,833.25 L193.00,835.83 L193.50,838.34 L194.00,840.49 L194.50,842.23 L195.00,843.60 L195.50,844.68 L196.00,845.53 L196.50,846.21 L197.00,846.75 L197.50,847.18 L198.00,847.52 L198.50,847.80 L199.00,848.01 L199.50,848.19 L200.00,848.32 L200.50,848.41 L201.00,848.48 L201.50,848.51 L202.00,848.51 L202.50,848.47 L203.00,848.41 L203.50,848.30 L204.00,848.16 L204.50,847.97 L205.00,847.75 L205.50,847.50 L206.00,847.29 L206.50,847.17 L207.00,847.24 L207.50,847.39 L208.00,847.55 L208.50,847.68 L209.00,847.76 L209.50,847.80 L210.00,847.79 L210.50,847.75 L211.00,847.65 L211.50,847.52 L212.00,847.35 L212.50,847.14 L213.00,846.89 L213.50,846.61 L214.00,846.30 L214.50,845.98 L215.00,845.68 L215.50,845.42 L216.00,845.27 L216.50,845.29 L217.00,845.38 L217.50,845.51 L218.00,845.65 L218.50,845.76 L219.00,845.83 L219.50,845.87 L220.00,845.86 L220.50,845.80 L221.00,845.69 L221.50,845.53 L222.00,845.32 L222.50,845.05 L223.00,844.72 L223.50,844.32 L224.00,843.85 L224.50,843.30 L225.00,842.64 L225.50,841.87 L226.00,840.96 L226.50,839.88 L227.00,838.60 L227.50,837.07 L228.00,835.24 L228.50,833.04 L229.00,830.39 L229.50,827.20 L230.00,823.38 L230.50,818.89 L231.00,813.77 L231.50,808.32 L232.00,803.23 L232.50,799.77 L233.00,800.26 L233.50,804.19 L234.00,809.45 L234.50,814.89 L235.00,819.90 L235.50,824.28 L236.00,827.98 L236.50,831.07 L237.00,833.64 L237.50,835.78 L238.00,837.57 L238.50,839.07 L239.00,840.33 L239.50,841.41 L240.00,842.32 L240.50,843.11 L241.00,843.79 L241.50,844.39 L242.00,844.90 L242.50,845.35 L243.00,845.75 L243.50,846.10 L244.00,846.40 L244.50,846.68 L245.00,846.92 L245.50,847.13 L246.00,847.32 L246.50,847.49 L247.00,847.63 L247.50,847.76 L248.00,847.88 L248.50,847.98 L249.00,848.06 L249.50,848.13 L250.00,848.19 L250.50,848.24 L251.00,848.27 L251.50,848.30 L252.00,848.31 L252.50,848.31 L253.00,848.31 L253.50,848.29 L254.00,848.25 L254.50,848.21 L255.00,848.15 L255.50,848.08 L256.00,847.99 L256.50,847.88 L257.00,847.76 L257.50,847.61 L258.00,847.44 L258.50,847.24 L259.00,847.01 L259.50,846.73 L260.00,846.41 L260.50,846.04 L261.00,845.60 L261.50,845.07 L262.00,844.45 L262.50,843.69 L263.00,842.79 L263.50,841.70 L264.00,840.38 L264.50,838.82 L265.00,837.02 L265.50,835.06 L266.00,833.21 L266.50,831.92 L267.00,832.01 L267.50,832.99 L268.00,834.19 L268.50,835.28 L269.00,836.07 L269.50,836.50 L270.00,836.55 L270.50,836.21 L271.00,835.46 L271.50,834.23 L272.00,832.46 L272.50,830.01 L273.00,826.72 L273.50,822.41 L274.00,816.92 L274.50,810.33 L275.00,803.39 L275.50,798.19 L276.00,799.02 L276.50,805.01 L277.00,812.21 L277.50,818.86 L278.00,824.38 L278.50,828.77 L279.00,832.21 L279.50,834.89 L280.00,836.99 L280.50,838.64 L281.00,839.94 L281.50,840.96 L282.00,841.74 L282.50,842.33 L283.00,842.74 L283.50,842.97 L284.00,843.03 L284.50,842.91 L285.00,842.55 L285.50,841.93 L286.00,840.99 L286.50,839.67 L287.00,838.06 L287.50,836.53 L288.00,836.04 L288.50,837.42 L289.00,839.40 L289.50,841.28 L290.00,842.83 L290.50,844.05 L291.00,844.99 L291.50,845.73 L292.00,846.30 L292.50,846.76 L293.00,847.12 L293.50,847.42 L294.00,847.65 L294.50,847.85 L295.00,848.00 L295.50,848.13 L296.00,848.22 L296.50,848.30 L297.00,848.35 L297.50,848.37 L298.00,848.38 L298.50,848.37 L299.00,848.34 L299.50,848.28 L300.00,848.20 L300.50,848.09 L301.00,847.95 L301.50,847.77 L302.00,847.53 L302.50,847.24 L303.00,846.87 L303.50,846.39 L304.00,845.77 L304.50,844.97 L305.00,843.92 L305.50,842.57 L306.00,840.87 L306.50,838.95 L307.00,837.27 L307.50,837.01 L308.00,838.42 L308.50,840.21 L309.00,841.82 L309.50,843.08 L310.00,844.02 L310.50,844.70 L311.00,845.17 L311.50,845.49 L312.00,845.68 L312.50,845.78 L313.00,845.79 L313.50,845.73 L314.00,845.59 L314.50,845.40 L315.00,845.13 L315.50,844.79 L316.00,844.38 L316.50,843.88 L317.00,843.28 L317.50,842.57 L318.00,841.71 L318.50,840.69 L319.00,839.48 L319.50,838.01 L320.00,836.24 L320.50,834.09 L321.00,831.49 L321.50,828.32 L322.00,824.52 L322.50,820.04 L323.00,814.97 L323.50,809.72 L324.00,805.17 L324.50,802.93 L325.00,805.18 L325.50,809.74 L326.00,815.00 L326.50,820.08 L327.00,824.58 L327.50,828.40 L328.00,831.57 L328.50,834.20 L329.00,836.36 L329.50,838.15 L330.00,839.64 L330.50,840.88 L331.00,841.93 L331.50,842.82 L332.00,843.57 L332.50,844.21 L333.00,844.76 L333.50,845.24 L334.00,845.65 L334.50,846.00 L335.00,846.31 L335.50,846.57 L336.00,846.80 L336.50,846.99 L337.00,847.15 L337.50,847.28 L338.00,847.39 L338.50,847.48 L339.00,847.54 L339.50,847.58 L340.00,847.59 L340.50,847.58 L341.00,847.55 L341.50,847.50 L342.00,847.41 L342.50,847.30 L343.00,847.15 L343.50,846.97 L344.00,846.75 L344.50,846.48 L345.00,846.15 L345.50,845.77 L346.00,845.33 L346.50,844.83 L347.00,844.28 L347.50,843.71 L348.00,843.16 L348.50,842.73 L349.00,842.55 L349.50,842.58 L350.00,842.69 L350.50,842.79 L351.00,842.82 L351.50,842.76 L352.00,842.57 L352.50,842.25 L353.00,841.76 L353.50,841.09 L354.00,840.21 L354.50,839.08 L355.00,837.65 L355.50,835.85 L356.00,833.61 L356.50,830.84 L357.00,827.48 L357.50,823.53 L358.00,819.18 L358.50,815.01 L359.00,812.11 L359.50,812.58 L360.00,815.96 L360.50,820.36 L361.00,824.77 L361.50,828.74 L362.00,832.12 L362.50,834.92 L363.00,837.22 L363.50,839.11 L364.00,840.67 L364.50,841.96 L365.00,843.04 L365.50,843.95 L366.00,844.71 L366.50,845.37 L367.00,845.93 L367.50,846.41 L368.00,846.83 L368.50,847.20 L369.00,847.52 L369.50,847.81 L370.00,848.06 L370.50,848.28 L371.00,848.48 L371.50,848.65 L372.00,848.81 L372.50,848.95 L373.00,849.07 L373.50,849.19 L374.00,849.29 L374.50,849.37 L375.00,849.45 L375.50,849.52 L376.00,849.58 L376.50,849.63 L377.00,849.68 L377.50,849.72 L378.00,849.75 L378.50,849.77 L379.00,849.79 L379.50,849.81 L380.00,849.81 L380.50,849.82 L381.00,849.81 L381.50,849.80 L382.00,849.78 L382.50,849.76 L383.00,849.73 L383.50,849.70 L384.00,849.65 L384.50,849.60 L385.00,849.55 L385.50,849.48 L386.00,849.41 L386.50,849.32 L387.00,849.23 L387.50,849.12 L388.00,849.01 L388.50,848.88 L389.00,848.73 L389.50,848.57 L390.00,848.39 L390.50,848.18 L391.00,847.96 L391.50,847.71 L392.00,847.42 L392.50,847.10 L393.00,846.74 L393.50,846.34 L394.00,845.88 L394.50,845.35 L395.00,844.75 L395.50,844.05 L396.00,843.25 L396.50,842.32 L397.00,841.23 L397.50,839.95 L398.00,838.44 L398.50,836.64 L399.00,834.49 L399.50,831.91 L400.00,828.82 L400.50,825.14 L401.00,820.80 L401.50,815.86 L402.00,810.53 L402.50,805.42 L403.00,801.61 L403.50,801.16 L404.00,804.52 L404.50,809.48 L405.00,814.83 L405.50,819.88 L406.00,824.34 L406.50,828.15 L407.00,831.34 L407.50,834.00 L408.00,836.21 L408.50,838.04 L409.00,839.56 L409.50,840.81 L410.00,841.83 L410.50,842.64 L411.00,843.23 L411.50,843.59 L412.00,843.66 L412.50,843.45 L413.00,843.27 L413.50,844.06 L414.00,845.27 L414.50,846.28 L415.00,847.04 L415.50,847.62 L416.00,848.08 L416.50,848.46 L417.00,848.77 L417.50,849.05 L418.00,849.28 L418.50,849.49 L419.00,849.68 L419.50,849.85 L420.00,850.01 L420.50,850.15 L421.00,850.27 L421.50,850.39 L422.00,850.50 L422.50,850.61 L423.00,850.70 L423.50,850.79 L424.00,850.87 L424.50,850.95 L425.00,851.02 L425.50,851.09 L426.00,851.16 L426.50,851.22 L427.00,851.28 L427.50,851.33 L428.00,851.38 L428.50,851.43 L429.00,851.48 L429.50,851.52 L430.00,851.57 L430.50,851.61 L431.00,851.65 L431.50,851.68 L432.00,851.72 L432.50,851.75 L433.00,851.78 L433.50,851.82 L434.00,851.85 L434.50,851.88 L435.00,851.90 L435.50,851.93 L436.00,851.96 L436.50,851.98 L437.00,852.01 L437.50,852.03 L438.00,852.05 L438.50,852.07 L439.00,852.09 L439.50,852.12 L440.00,852.14 L440.50,852.15 L441.00,852.17 L441.50,852.19 L442.00,852.21 L442.50,852.23 L443.00,852.24 L443.50,852.26 L444.00,852.27 L444.50,852.29 L445.00,852.30 L445.50,852.32 L446.00,852.33 L446.50,852.35 L447.00,852.36 L447.50,852.37 L448.00,852.39 L448.50,852.40 L449.00,852.41 L449.50,852.42 L450.00,852.44 L450.50,852.45 L451.00,852.46 L451.50,852.47 L452.00,852.48 L452.50,852.49 L453.00,852.50 L453.50,852.51 L454.00,852.52 L454.50,852.53 L455.00,852.54 L455.50,852.55 L456.00,852.56 L456.50,852.57 L457.00,852.58 L457.50,852.59 L458.00,852.60 L458.50,852.61 L459.00,852.61 L459.50,852.62 L460.00,852.63 L460.50,852.64 L461.00,852.65 L461.50,852.65 L462.00,852.66 L462.50,852.67 L463.00,852.68 L463.50,852.68 L464.00,852.69 L464.50,852.70 L465.00,852.70 L465.50,852.71 L466.00,852.72 L466.50,852.73 L467.00,852.73 L467.50,852.74 L468.00,852.75 L468.50,852.75 L469.00,852.76 L469.50,852.76 L470.00,852.77 L470.50,852.78 L471.00,852.78 L471.50,852.79 L472.00,852.79 L472.50,852.80 L473.00,852.81 L473.50,852.81 L474.00,852.82 L474.50,852.82 L475.00,852.83 L475.50,852.83 L476.00,852.84 L476.50,852.85 L477.00,852.85 L477.50,852.86 L478.00,852.86 L478.50,852.87 L479.00,852.87 L479.50,852.88 L480.00,852.88 L480.50,852.89 L481.00,852.89 L481.50,852.90 L482.00,852.90 L482.50,852.91 L483.00,852.91 L483.50,852.92 L484.00,852.92 L484.50,852.93 L485.00,852.93 L485.50,852.93 L486.00,852.94 L486.50,852.94 L487.00,852.95 L487.50,852.95 L488.00,852.96 L488.50,852.96 L489.00,852.97 L489.50,852.97 L490.00,852.97 L490.50,852.98 L491.00,852.98 L491.50,852.99 L492.00,852.99 L492.50,853.00 L493.00,853.00 L493.50,853.00 L494.00,853.01 L494.50,853.01 L495.00,853.02 L495.50,853.02 L496.00,853.02 L496.50,853.03 L497.00,853.03" stroke="#4679c0"/>
<path d="M23.50,800.38 L24.00,800.45 L24.50,800.53 L25.00,800.64 L25.50,800.75 L26.00,800.86 L26.50,800.95 L27.00,801.02 L27.50,801.04 L28.00,801.02 L28.50,800.96 L29.00,800.86 L29.50,800.73 L30.00,800.59 L30.50,800.46 L31.00,800.33 L31.50,800.21 L32.00,800.09 L32.50,799.99 L33.00,799.88 L33.50,799.77 L34.00,799.65 L34.50,799.52 L35.00,799.37 L35.50,799.20 L36.00,799.01 L36.50,798.79 L37.00,798.52 L37.50,798.21 L38.00,797.84 L38.50,797.42 L39.00,796.99 L39.50,796.60 L40.00,796.29 L40.50,796.09 L41.00,795.98 L41.50,795.92 L42.00,795.89 L42.50,795.85 L43.00,795.79 L43.50,795.72 L44.00,795.66 L44.50,795.58 L45.00,795.50 L45.50,795.40 L46.00,795.30 L46.50,795.22 L47.00,795.23 L47.50,795.36 L48.00,795.63 L48.50,796.03 L49.00,796.48 L49.50,796.94 L50.00,797.35 L50.50,797.71 L51.00,798.01 L51.50,798.27 L52.00,798.51 L52.50,798.71 L53.00,798.90 L53.50,799.07 L54.00,799.21 L54.50,799.33 L55.00,799.43 L55.50,799.51 L56.00,799.57 L56.50,799.60 L57.00,799.61 L57.50,799.59 L58.00,799.54 L58.50,799.41 L59.00,799.12 L59.50,798.45 L60.00,796.93 L60.50,793.70 L61.00,787.44 L61.50,776.55 L62.00,759.74 L62.50,736.98 L63.00,710.40 L63.50,684.59 L64.00,665.82 L64.50,659.98 L65.00,669.30 L65.50,690.54 L66.00,717.43 L66.50,743.86 L67.00,765.73 L67.50,781.43 L68.00,791.36 L68.50,796.98 L69.00,799.87 L69.50,801.22 L70.00,801.75 L70.50,801.79 L71.00,801.71 L71.50,801.94 L72.00,802.74 L72.50,803.93 L73.00,805.18 L73.50,806.29 L74.00,807.28 L74.50,808.18 L75.00,808.99 L75.50,809.69 L76.00,810.27 L76.50,810.72 L77.00,811.08 L77.50,811.34 L78.00,811.54 L78.50,811.69 L79.00,811.79 L79.50,811.87 L80.00,811.92 L80.50,811.96 L81.00,811.99 L81.50,812.01 L82.00,812.03 L82.50,812.04 L83.00,812.04 L83.50,812.04 L84.00,812.05 L84.50,812.04 L85.00,812.04 L85.50,812.04 L86.00,812.03 L86.50,812.02 L87.00,812.02 L87.50,812.01 L88.00,811.99 L88.50,811.98 L89.00,811.97 L89.50,811.95 L90.00,811.93 L90.50,811.91 L91.00,811.89 L91.50,811.86 L92.00,811.83 L92.50,811.80 L93.00,811.76 L93.50,811.72 L94.00,811.67 L94.50,811.62 L95.00,811.56 L95.50,811.49 L96.00,811.41 L96.50,811.32 L97.00,811.21 L97.50,811.08 L98.00,810.92 L98.50,810.74 L99.00,810.52 L99.50,810.24 L100.00,809.89 L100.50,809.45 L101.00,808.88 L101.50,808.13 L102.00,807.10 L102.50,805.68 L103.00,803.65 L103.50,800.78 L104.00,796.87 L104.50,792.52 L105.00,790.75 L105.50,794.19 L106.00,798.53 L106.50,802.01 L107.00,804.50 L107.50,806.25 L108.00,807.48 L108.50,808.37 L109.00,809.03 L109.50,809.53 L110.00,809.91 L110.50,810.20 L111.00,810.44 L111.50,810.62 L112.00,810.76 L112.50,810.88 L113.00,810.96 L113.50,811.02 L114.00,811.06 L114.50,811.08 L115.00,811.08 L115.50,811.05 L116.00,811.00 L116.50,810.92 L117.00,810.80 L117.50,810.65 L118.00,810.45 L118.50,810.22 L119.00,809.99 L119.50,809.82 L120.00,809.85 L120.50,810.06 L121.00,810.31 L121.50,810.56 L122.00,810.78 L122.50,810.96 L123.00,811.10 L123.50,811.21 L124.00,811.29 L124.50,811.36 L125.00,811.40 L125.50,811.44 L126.00,811.46 L126.50,811.46 L127.00,811.46 L127.50,811.45 L128.00,811.43 L128.50,811.40 L129.00,811.35 L129.50,811.30 L130.00,811.23 L130.50,811.15 L131.00,811.05 L131.50,810.93 L132.00,810.79 L132.50,810.62 L133.00,810.43 L133.50,810.21 L134.00,809.95 L134.50,809.68 L135.00,809.39 L135.50,809.13 L136.00,808.95 L136.50,808.92 L137.00,809.06 L137.50,809.28 L138.00,809.52 L138.50,809.76 L139.00,809.98 L139.50,810.16 L140.00,810.31 L140.50,810.43 L141.00,810.51 L141.50,810.56 L142.00,810.59 L142.50,810.59 L143.00,810.56 L143.50,810.50 L144.00,810.42 L144.50,810.30 L145.00,810.14 L145.50,809.95 L146.00,809.72 L146.50,809.44 L147.00,809.12 L147.50,808.78 L148.00,808.44 L148.50,808.15 L149.00,807.98 L149.50,808.07 L150.00,808.34 L150.50,808.70 L151.00,809.08 L151.50,809.45 L152.00,809.79 L152.50,810.09 L153.00,810.35 L153.50,810.58 L154.00,810.77 L154.50,810.94 L155.00,811.08 L155.50,811.21 L156.00,811.31 L156.50,811.41 L157.00,811.49 L157.50,811.56 L158.00,811.62 L158.50,811.67 L159.00,811.72 L159.50,811.76 L160.00,811.80 L160.50,811.83 L161.00,811.86 L161.50,811.88 L162.00,811.90 L162.50,811.92 L163.00,811.94 L163.50,811.95 L164.00,811.96 L164.50,811.97 L165.00,811.98 L165.50,811.99 L166.00,811.99 L166.50,811.99 L167.00,811.99 L167.50,811.99 L168.00,811.99 L168.50,811.99 L169.00,811.98 L169.50,811.97 L170.00,811.96 L170.50,811.95 L171.00,811.94 L171.50,811.93 L172.00,811.91 L172.50,811.90 L173.00,811.88 L173.50,811.86 L174.00,811.83 L174.50,811.81 L175.00,811.78 L175.50,811.75 L176.00,811.71 L176.50,811.67 L177.00,811.63 L177.50,811.59 L178.00,811.54 L178.50,811.48 L179.00,811.42 L179.50,811.35 L180.00,811.28 L180.50,811.19 L181.00,811.10 L181.50,810.99 L182.00,810.87 L182.50,810.74 L183.00,810.59 L183.50,810.41 L184.00,810.21 L184.50,809.98 L185.00,809.70 L185.50,809.38 L186.00,809.00 L186.50,808.55 L187.00,807.99 L187.50,807.32 L188.00,806.49 L188.50,805.45 L189.00,804.14 L189.50,802.49 L190.00,800.44 L190.50,797.95 L191.00,795.15 L191.50,792.53 L192.00,791.16 L192.50,792.50 L193.00,795.08 L193.50,797.83 L194.00,800.28 L194.50,802.29 L195.00,803.89 L195.50,805.16 L196.00,806.15 L196.50,806.93 L197.00,807.56 L197.50,808.06 L198.00,808.46 L198.50,808.78 L199.00,809.03 L199.50,809.23 L200.00,809.39 L200.50,809.50 L201.00,809.58 L201.50,809.63 L202.00,809.64 L202.50,809.62 L203.00,809.56 L203.50,809.46 L204.00,809.33 L204.50,809.14 L205.00,808.93 L205.50,808.69 L206.00,808.47 L206.50,808.36 L207.00,808.43 L207.50,808.58 L208.00,808.74 L208.50,808.87 L209.00,808.95 L209.50,808.99 L210.00,808.99 L210.50,808.94 L211.00,808.84 L211.50,808.71 L212.00,808.54 L212.50,808.32 L213.00,808.07 L213.50,807.78 L214.00,807.47 L214.50,807.15 L215.00,806.83 L215.50,806.57 L216.00,806.41 L216.50,806.42 L217.00,806.51 L217.50,806.63 L218.00,806.75 L218.50,806.84 L219.00,806.90 L219.50,806.92 L220.00,806.89 L220.50,806.81 L221.00,806.67 L221.50,806.49 L222.00,806.24 L222.50,805.94 L223.00,805.56 L223.50,805.12 L224.00,804.59 L224.50,803.96 L225.00,803.23 L225.50,802.36 L226.00,801.33 L226.50,800.12 L227.00,798.67 L227.50,796.95 L228.00,794.88 L228.50,792.38 L229.00,789.38 L229.50,785.77 L230.00,781.46 L230.50,776.45 L231.00,770.86 L231.50,765.15 L232.00,760.27 L232.50,757.89 L233.00,760.29 L233.50,765.18 L234.00,770.91 L234.50,776.51 L235.00,781.54 L235.50,785.86 L236.00,789.49 L236.50,792.52 L237.00,795.03 L237.50,797.13 L238.00,798.88 L238.50,800.35 L239.00,801.60 L239.50,802.66 L240.00,803.57 L240.50,804.35 L241.00,805.03 L241.50,805.62 L242.00,806.14 L242.50,806.59 L243.00,806.98 L243.50,807.33 L244.00,807.64 L244.50,807.91 L245.00,808.16 L245.50,808.37 L246.00,808.56 L246.50,808.73 L247.00,808.88 L247.50,809.01 L248.00,809.12 L248.50,809.22 L249.00,809.30 L249.50,809.38 L250.00,809.43 L250.50,809.48 L251.00,809.51 L251.50,809.54 L252.00,809.55 L252.50,809.55 L253.00,809.53 L253.50,809.51 L254.00,809.47 L254.50,809.42 L255.00,809.35 L255.50,809.27 L256.00,809.18 L256.50,809.06 L257.00,808.92 L257.50,808.76 L258.00,808.58 L258.50,808.36 L259.00,808.11 L259.50,807.81 L260.00,807.46 L260.50,807.06 L261.00,806.58 L261.50,806.01 L262.00,805.33 L262.50,804.51 L263.00,803.53 L263.50,802.35 L264.00,800.93 L264.50,799.23 L265.00,797.28 L265.50,795.16 L266.00,793.14 L266.50,791.72 L267.00,791.77 L267.50,792.82 L268.00,794.13 L268.50,795.31 L269.00,796.18 L269.50,796.65 L270.00,796.72 L270.50,796.34 L271.00,795.51 L271.50,794.16 L272.00,792.19 L272.50,789.48 L273.00,785.83 L273.50,781.05 L274.00,775.00 L274.50,767.85 L275.00,760.63 L275.50,755.93 L276.00,758.39 L276.50,765.26 L277.00,772.89 L277.50,779.73 L278.00,785.33 L278.50,789.76 L279.00,793.23 L279.50,795.93 L280.00,798.06 L280.50,799.73 L281.00,801.05 L281.50,802.08 L282.00,802.88 L282.50,803.48 L283.00,803.90 L283.50,804.15 L284.00,804.23 L284.50,804.11 L285.00,803.77 L285.50,803.16 L286.00,802.22 L286.50,800.90 L287.00,799.23 L287.50,797.51 L288.00,796.59 L288.50,797.75 L289.00,799.79 L289.50,801.83 L290.00,803.55 L290.50,804.90 L291.00,805.95 L291.50,806.77 L292.00,807.40 L292.50,807.91 L293.00,808.31 L293.50,808.63 L294.00,808.89 L294.50,809.10 L295.00,809.28 L295.50,809.41 L296.00,809.52 L296.50,809.60 L297.00,809.66 L297.50,809.69 L298.00,809.70 L298.50,809.69 L299.00,809.66 L299.50,809.61 L300.00,809.53 L300.50,809.41 L301.00,809.27 L301.50,809.08 L302.00,808.84 L302.50,808.53 L303.00,808.15 L303.50,807.65 L304.00,807.01 L304.50,806.18 L305.00,805.10 L305.50,803.69 L306.00,801.93 L306.50,799.93 L307.00,798.19 L307.50,797.92 L308.00,799.38 L308.50,801.24 L309.00,802.91 L309.50,804.22 L310.00,805.19 L310.50,805.89 L311.00,806.38 L311.50,806.71 L312.00,806.91 L312.50,807.00 L313.00,807.01 L313.50,806.94 L314.00,806.80 L314.50,806.58 L315.00,806.30 L315.50,805.95 L316.00,805.51 L316.50,804.98 L317.00,804.34 L317.50,803.59 L318.00,802.69 L318.50,801.61 L319.00,800.32 L319.50,798.78 L320.00,796.91 L320.50,794.65 L321.00,791.90 L321.50,788.57 L322.00,784.58 L322.50,779.87 L323.00,774.56 L323.50,769.07 L324.00,764.32 L324.50,761.98 L325.00,764.33 L325.50,769.09 L326.00,774.60 L326.50,779.92 L327.00,784.65 L327.50,788.66 L328.00,792.01 L328.50,794.77 L329.00,797.05 L329.50,798.94 L330.00,800.52 L330.50,801.83 L331.00,802.94 L331.50,803.88 L332.00,804.68 L332.50,805.36 L333.00,805.94 L333.50,806.45 L334.00,806.88 L334.50,807.26 L335.00,807.58 L335.50,807.86 L336.00,808.10 L336.50,808.31 L337.00,808.48 L337.50,808.63 L338.00,808.75 L338.50,808.84 L339.00,808.91 L339.50,808.95 L340.00,808.97 L340.50,808.97 L341.00,808.94 L341.50,808.89 L342.00,808.81 L342.50,808.69 L343.00,808.55 L343.50,808.37 L344.00,808.14 L344.50,807.87 L345.00,807.55 L345.50,807.16 L346.00,806.71 L346.50,806.21 L347.00,805.65 L347.50,805.07 L348.00,804.52 L348.50,804.07 L349.00,803.88 L349.50,803.90 L350.00,803.99 L350.50,804.07 L351.00,804.08 L351.50,803.99 L352.00,803.77 L352.50,803.40 L353.00,802.87 L353.50,802.15 L354.00,801.20 L354.50,800.00 L355.00,798.47 L355.50,796.57 L356.00,794.19 L356.50,791.26 L357.00,787.71 L357.50,783.55 L358.00,778.99 L358.50,774.60 L359.00,771.56 L359.50,772.05 L360.00,775.60 L360.50,780.21 L361.00,784.85 L361.50,789.03 L362.00,792.59 L362.50,795.55 L363.00,797.98 L363.50,799.98 L364.00,801.63 L364.50,803.00 L365.00,804.14 L365.50,805.10 L366.00,805.92 L366.50,806.61 L367.00,807.21 L367.50,807.72 L368.00,808.17 L368.50,808.56 L369.00,808.90 L369.50,809.20 L370.00,809.47 L370.50,809.70 L371.00,809.91 L371.50,810.10 L372.00,810.27 L372.50,810.41 L373.00,810.55 L373.50,810.67 L374.00,810.77 L374.50,810.86 L375.00,810.95 L375.50,811.02 L376.00,811.09 L376.50,811.14 L377.00,811.19 L377.50,811.23 L378.00,811.26 L378.50,811.29 L379.00,811.31 L379.50,811.32 L380.00,811.33 L380.50,811.33 L381.00,811.33 L381.50,811.31 L382.00,811.30 L382.50,811.27 L383.00,811.24 L383.50,811.20 L384.00,811.16 L384.50,811.10 L385.00,811.04 L385.50,810.97 L386.00,810.89 L386.50,810.80 L387.00,810.69 L387.50,810.58 L388.00,810.45 L388.50,810.31 L389.00,810.15 L389.50,809.98 L390.00,809.78 L390.50,809.56 L391.00,809.32 L391.50,809.04 L392.00,808.73 L392.50,808.39 L393.00,808.00 L393.50,807.56 L394.00,807.06 L394.50,806.49 L395.00,805.84 L395.50,805.08 L396.00,804.22 L396.50,803.21 L397.00,802.03 L397.50,800.65 L398.00,799.02 L398.50,797.07 L399.00,794.76 L399.50,791.98 L400.00,788.66 L400.50,784.71 L401.00,780.07 L401.50,774.79 L402.00,769.13 L402.50,763.70 L403.00,759.67 L403.50,759.19 L404.00,762.74 L404.50,768.01 L405.00,773.70 L405.50,779.09 L406.00,783.87 L406.50,787.95 L407.00,791.39 L407.50,794.25 L408.00,796.64 L408.50,798.62 L409.00,800.27 L409.50,801.63 L410.00,802.75 L410.50,803.64 L411.00,804.30 L411.50,804.72 L412.00,804.85 L412.50,804.68 L413.00,804.54 L413.50,805.38 L414.00,806.62 L414.50,807.66 L415.00,808.45 L415.50,809.06 L416.00,809.54 L416.50,809.94 L417.00,810.28 L417.50,810.57 L418.00,810.82 L418.50,811.04 L419.00,811.25 L419.50,811.43 L420.00,811.60 L420.50,811.75 L421.00,811.89 L421.50,812.02 L422.00,812.14 L422.50,812.25 L423.00,812.35 L423.50,812.45 L424.00,812.54 L424.50,812.62 L425.00,812.70 L425.50,812.78 L426.00,812.85 L426.50,812.91 L427.00,812.98 L427.50,813.04 L428.00,813.10 L428.50,813.15 L429.00,813.20 L429.50,813.25 L430.00,813.30 L430.50,813.34 L431.00,813.39 L431.50,813.43 L432.00,813.47 L432.50,813.50 L433.00,813.54 L433.50,813.58 L434.00,813.61 L434.50,813.64 L435.00,813.67 L435.50,813.70 L436.00,813.73 L436.50,813.76 L437.00,813.79 L437.50,813.81 L438.00,813.84 L438.50,813.86 L439.00,813.89 L439.50,813.91 L440.00,813.93 L440.50,813.96 L441.00,813.98 L441.50,814.00 L442.00,814.02 L442.50,814.04 L443.00,814.06 L443.50,814.07 L444.00,814.09 L444.50,814.11 L445.00,814.13 L445.50,814.14 L446.00,814.16 L446.50,814.18 L447.00,814.19 L447.50,814.21 L448.00,814.22 L448.50,814.24 L449.00,814.25 L449.50,814.26 L450.00,814.28 L450.50,814.29 L451.00,814.31 L451.50,814.32 L452.00,814.33 L452.50,814.34 L453.00,814.36 L453.50,814.37 L454.00,814.38 L454.50,814.39 L455.00,814.40 L455.50,814.41 L456.00,814.42 L456.50,814.44 L457.00,814.45 L457.50,814.46 L458.00,814.47 L458.50,814.48 L459.00,814.49 L459.50,814.50 L460.00,814.51 L460.50,814.52 L461.00,814.53 L461.50,814.54 L462.00,814.55 L462.50,814.55 L463.00,814.56 L463.50,814.57 L464.00,814.58 L464.50,814.59 L465.00,814.60 L465.50,814.61 L466.00,814.62 L466.50,814.62 L467.00,814.63 L467.50,814.64 L468.00,814.65 L468.50,814.66 L469.00,814.66 L469.50,814.67 L470.00,814.68 L470.50,814.69 L471.00,814.69 L471.50,814.70 L472.00,814.71 L472.50,814.72 L473.00,814.72 L473.50,814.73 L474.00,814.74 L474.50,814.74 L475.00,814.75 L475.50,814.76 L476.00,814.77 L476.50,814.77 L477.00,814.78 L477.50,814.79 L478.00,814.79 L478.50,814.80 L479.00,814.81 L479.50,814.81 L480.00,814.82 L480.50,814.83 L481.00,814.83 L481.50,814.84 L482.00,814.84 L482.50,814.85 L483.00,814.86 L483.50,814.86 L484.00,814.87 L484.50,814.87 L485.00,814.88 L485.50,814.89 L486.00,814.89 L486.50,814.90 L487.00,814.90 L487.50,814.91 L488.00,814.92 L488.50,814.92 L489.00,814.93 L489.50,814.93 L490.00,814.94 L490.50,814.94 L491.00,814.95 L491.50,814.96 L492.00,814.96 L492.50,814.97 L493.00,814.97 L493.50,814.98 L494.00,814.98 L494.50,814.99 L495.00,814.99 L495.50,815.00 L496.00,815.00 L496.50,815.01 L497.00,815.01" stroke="#58b38e"/>
<path d="M23.50,757.53 L24.00,757.60 L24.50,757.68 L25.00,757.79 L25.50,757.90 L26.00,758.01 L26.50,758.11 L27.00,758.17 L27.50,758.20 L28.00,758.18 L28.50,758.11 L29.00,758.01 L29.50,757.89 L30.00,757.75 L30.50,757.61 L31.00,757.48 L31.50,757.36 L32.00,757.25 L32.50,757.15 L33.00,757.04 L33.50,756.93 L34.00,756.81 L34.50,756.68 L35.00,756.53 L35.50,756.36 L36.00,756.17 L36.50,755.95 L37.00,755.68 L37.50,755.37 L38.00,755.00 L38.50,754.58 L39.00,754.16 L39.50,753.77 L40.00,753.46 L40.50,753.25 L41.00,753.15 L41.50,753.09 L42.00,753.06 L42.50,753.01 L43.00,752.96 L43.50,752.89 L44.00,752.83 L44.50,752.76 L45.00,752.67 L45.50,752.58 L46.00,752.47 L46.50,752.40 L47.00,752.40 L47.50,752.53 L48.00,752.81 L48.50,753.20 L49.00,753.66 L49.50,754.12 L50.00,754.53 L50.50,754.89 L51.00,755.19 L51.50,755.46 L52.00,755.69 L52.50,755.90 L53.00,756.09 L53.50,756.25 L54.00,756.40 L54.50,756.52 L55.00,756.62 L55.50,756.70 L56.00,756.76 L56.50,756.80 L57.00,756.81 L57.50,756.80 L58.00,756.75 L58.50,756.63 L59.00,756.34 L59.50,755.69 L60.00,754.20 L60.50,751.04 L61.00,744.91 L61.50,734.24 L62.00,717.77 L62.50,695.46 L63.00,669.42 L63.50,644.17 L64.00,625.84 L64.50,620.23 L65.00,629.52 L65.50,650.41 L66.00,676.74 L66.50,702.62 L67.00,724.06 L67.50,739.45 L68.00,749.20 L68.50,754.72 L69.00,757.58 L69.50,758.93 L70.00,759.48 L70.50,759.57 L71.00,759.53 L71.50,759.81 L72.00,760.65 L72.50,761.84 L73.00,763.02 L73.50,764.03 L74.00,764.89 L74.50,765.64 L75.00,766.29 L75.50,766.84 L76.00,767.28 L76.50,767.62 L77.00,767.88 L77.50,768.08 L78.00,768.22 L78.50,768.32 L79.00,768.40 L79.50,768.45 L80.00,768.49 L80.50,768.52 L81.00,768.54 L81.50,768.55 L82.00,768.56 L82.50,768.57 L83.00,768.57 L83.50,768.57 L84.00,768.57 L84.50,768.57 L85.00,768.57 L85.50,768.56 L86.00,768.56 L86.50,768.55 L87.00,768.54 L87.50,768.53 L88.00,768.52 L88.50,768.51 L89.00,768.50 L89.50,768.48 L90.00,768.46 L90.50,768.45 L91.00,768.42 L91.50,768.40 L92.00,768.38 L92.50,768.35 L93.00,768.31 L93.50,768.28 L94.00,768.24 L94.50,768.19 L95.00,768.13 L95.50,768.07 L96.00,768.00 L96.50,767.92 L97.00,767.82 L97.50,767.71 L98.00,767.57 L98.50,767.41 L99.00,767.22 L99.50,766.97 L100.00,766.67 L100.50,766.29 L101.00,765.79 L101.50,765.13 L102.00,764.23 L102.50,762.97 L103.00,761.19 L103.50,758.65 L104.00,755.18 L104.50,751.28 L105.00,749.69 L105.50,752.79 L106.00,756.65 L106.50,759.73 L107.00,761.91 L107.50,763.43 L108.00,764.50 L108.50,765.27 L109.00,765.84 L109.50,766.26 L110.00,766.58 L110.50,766.82 L111.00,767.01 L111.50,767.15 L112.00,767.25 L112.50,767.32 L113.00,767.37 L113.50,767.39 L114.00,767.38 L114.50,767.34 L115.00,767.28 L115.50,767.18 L116.00,767.04 L116.50,766.85 L117.00,766.61 L117.50,766.32 L118.00,765.98 L118.50,765.67 L119.00,765.48 L119.50,765.60 L120.00,765.90 L120.50,766.25 L121.00,766.57 L121.50,766.85 L122.00,767.07 L122.50,767.24 L123.00,767.37 L123.50,767.47 L124.00,767.54 L124.50,767.60 L125.00,767.63 L125.50,767.64 L126.00,767.64 L126.50,767.63 L127.00,767.60 L127.50,767.56 L128.00,767.50 L128.50,767.42 L129.00,767.33 L129.50,767.22 L130.00,767.08 L130.50,766.92 L131.00,766.73 L131.50,766.50 L132.00,766.23 L132.50,765.93 L133.00,765.58 L133.50,765.20 L134.00,764.81 L134.50,764.45 L135.00,764.18 L135.50,764.13 L136.00,764.32 L136.50,764.62 L137.00,764.96 L137.50,765.30 L138.00,765.61 L138.50,765.87 L139.00,766.09 L139.50,766.27 L140.00,766.40 L140.50,766.50 L141.00,766.56 L141.50,766.58 L142.00,766.57 L142.50,766.53 L143.00,766.46 L143.50,766.35 L144.00,766.20 L144.50,766.00 L145.00,765.76 L145.50,765.46 L146.00,765.11 L146.50,764.69 L147.00,764.22 L147.50,763.70 L148.00,763.18 L148.50,762.72 L149.00,762.43 L149.50,762.49 L150.00,762.86 L150.50,763.38 L151.00,763.95 L151.50,764.50 L152.00,765.01 L152.50,765.47 L153.00,765.86 L153.50,766.21 L154.00,766.50 L154.50,766.76 L155.00,766.97 L155.50,767.16 L156.00,767.32 L156.50,767.46 L157.00,767.59 L157.50,767.69 L158.00,767.79 L158.50,767.87 L159.00,767.94 L159.50,768.01 L160.00,768.07 L160.50,768.12 L161.00,768.16 L161.50,768.20 L162.00,768.24 L162.50,768.27 L163.00,768.29 L163.50,768.32 L164.00,768.34 L164.50,768.36 L165.00,768.37 L165.50,768.39 L166.00,768.40 L166.50,768.41 L167.00,768.41 L167.50,768.42 L168.00,768.42 L168.50,768.42 L169.00,768.42 L169.50,768.42 L170.00,768.41 L170.50,768.40 L171.00,768.39 L171.50,768.38 L172.00,768.37 L172.50,768.36 L173.00,768.34 L173.50,768.32 L174.00,768.30 L174.50,768.27 L175.00,768.24 L175.50,768.21 L176.00,768.18 L176.50,768.14 L177.00,768.10 L177.50,768.05 L178.00,768.00 L178.50,767.94 L179.00,767.88 L179.50,767.81 L180.00,767.73 L180.50,767.64 L181.00,767.54 L181.50,767.42 L182.00,767.30 L182.50,767.15 L183.00,766.99 L183.50,766.80 L184.00,766.58 L184.50,766.32 L185.00,766.02 L185.50,765.67 L186.00,765.25 L186.50,764.74 L187.00,764.12 L187.50,763.37 L188.00,762.43 L188.50,761.25 L189.00,759.77 L189.50,757.90 L190.00,755.59 L190.50,752.86 L191.00,749.95 L191.50,747.57 L192.00,747.26 L192.50,749.35 L193.00,752.19 L193.50,754.95 L194.00,757.31 L194.50,759.22 L195.00,760.73 L195.50,761.92 L196.00,762.86 L196.50,763.60 L197.00,764.20 L197.50,764.67 L198.00,765.06 L198.50,765.36 L199.00,765.61 L199.50,765.80 L200.00,765.96 L200.50,766.07 L201.00,766.14 L201.50,766.19 L202.00,766.20 L202.50,766.17 L203.00,766.12 L203.50,766.02 L204.00,765.88 L204.50,765.70 L205.00,765.48 L205.50,765.25 L206.00,765.03 L206.50,764.91 L207.00,764.97 L207.50,765.12 L208.00,765.28 L208.50,765.41 L209.00,765.49 L209.50,765.53 L210.00,765.53 L210.50,765.48 L211.00,765.38 L211.50,765.25 L212.00,765.08 L212.50,764.86 L213.00,764.61 L213.50,764.32 L214.00,764.01 L214.50,763.68 L215.00,763.37 L215.50,763.10 L216.00,762.94 L216.50,762.95 L217.00,763.03 L217.50,763.15 L218.00,763.27 L218.50,763.36 L219.00,763.42 L219.50,763.43 L220.00,763.39 L220.50,763.31 L221.00,763.17 L221.50,762.97 L222.00,762.72 L222.50,762.41 L223.00,762.03 L223.50,761.57 L224.00,761.03 L224.50,760.39 L225.00,759.64 L225.50,758.75 L226.00,757.71 L226.50,756.47 L227.00,754.99 L227.50,753.23 L228.00,751.12 L228.50,748.57 L229.00,745.51 L229.50,741.82 L230.00,737.43 L230.50,732.32 L231.00,726.62 L231.50,720.79 L232.00,715.81 L232.50,713.38 L233.00,715.83 L233.50,720.82 L234.00,726.66 L234.50,732.38 L235.00,737.51 L235.50,741.92 L236.00,745.62 L236.50,748.71 L237.00,751.27 L237.50,753.41 L238.00,755.20 L238.50,756.70 L239.00,757.97 L239.50,759.06 L240.00,759.98 L240.50,760.78 L241.00,761.47 L241.50,762.07 L242.00,762.60 L242.50,763.06 L243.00,763.46 L243.50,763.82 L244.00,764.13 L244.50,764.41 L245.00,764.66 L245.50,764.87 L246.00,765.07 L246.50,765.24 L247.00,765.39 L247.50,765.52 L248.00,765.64 L248.50,765.74 L249.00,765.82 L249.50,765.89 L250.00,765.95 L250.50,765.99 L251.00,766.03 L251.50,766.05 L252.00,766.06 L252.50,766.05 L253.00,766.04 L253.50,766.01 L254.00,765.97 L254.50,765.92 L255.00,765.85 L255.50,765.76 L256.00,765.66 L256.50,765.53 L257.00,765.39 L257.50,765.22 L258.00,765.02 L258.50,764.79 L259.00,764.52 L259.50,764.20 L260.00,763.83 L260.50,763.40 L261.00,762.89 L261.50,762.28 L262.00,761.56 L262.50,760.68 L263.00,759.63 L263.50,758.36 L264.00,756.84 L264.50,755.02 L265.00,752.94 L265.50,750.72 L266.00,748.66 L266.50,747.35 L267.00,747.68 L267.50,748.89 L268.00,750.29 L268.50,751.52 L269.00,752.40 L269.50,752.87 L270.00,752.91 L270.50,752.51 L271.00,751.64 L271.50,750.23 L272.00,748.19 L272.50,745.39 L273.00,741.63 L273.50,736.70 L274.00,730.47 L274.50,723.11 L275.00,715.68 L275.50,710.84 L276.00,713.35 L276.50,720.41 L277.00,728.26 L277.50,735.30 L278.00,741.06 L278.50,745.63 L279.00,749.19 L279.50,751.98 L280.00,754.17 L280.50,755.89 L281.00,757.24 L281.50,758.30 L282.00,759.12 L282.50,759.73 L283.00,760.16 L283.50,760.40 L284.00,760.47 L284.50,760.33 L285.00,759.95 L285.50,759.30 L286.00,758.30 L286.50,756.89 L287.00,755.13 L287.50,753.33 L288.00,752.38 L288.50,753.60 L289.00,755.74 L289.50,757.88 L290.00,759.68 L290.50,761.10 L291.00,762.20 L291.50,763.06 L292.00,763.73 L292.50,764.26 L293.00,764.68 L293.50,765.02 L294.00,765.29 L294.50,765.51 L295.00,765.69 L295.50,765.83 L296.00,765.94 L296.50,766.02 L297.00,766.07 L297.50,766.10 L298.00,766.11 L298.50,766.10 L299.00,766.06 L299.50,765.99 L300.00,765.89 L300.50,765.77 L301.00,765.60 L301.50,765.39 L302.00,765.11 L302.50,764.77 L303.00,764.34 L303.50,763.78 L304.00,763.07 L304.50,762.14 L305.00,760.93 L305.50,759.37 L306.00,757.42 L306.50,755.21 L307.00,753.28 L307.50,752.98 L308.00,754.59 L308.50,756.65 L309.00,758.51 L309.50,759.97 L310.00,761.07 L310.50,761.86 L311.00,762.42 L311.50,762.79 L312.00,763.03 L312.50,763.15 L313.00,763.17 L313.50,763.11 L314.00,762.97 L314.50,762.76 L315.00,762.47 L315.50,762.10 L316.00,761.64 L316.50,761.09 L317.00,760.43 L317.50,759.64 L318.00,758.70 L318.50,757.57 L319.00,756.23 L319.50,754.61 L320.00,752.67 L320.50,750.32 L321.00,747.48 L321.50,744.06 L322.00,739.96 L322.50,735.17 L323.00,729.81 L323.50,724.30 L324.00,719.58 L324.50,717.26 L325.00,719.59 L325.50,724.33 L326.00,729.86 L326.50,735.24 L327.00,740.05 L327.50,744.16 L328.00,747.61 L328.50,750.47 L329.00,752.84 L329.50,754.81 L330.00,756.46 L330.50,757.83 L331.00,759.00 L331.50,759.98 L332.00,760.82 L332.50,761.54 L333.00,762.16 L333.50,762.69 L334.00,763.15 L334.50,763.55 L335.00,763.89 L335.50,764.19 L336.00,764.45 L336.50,764.67 L337.00,764.85 L337.50,765.01 L338.00,765.14 L338.50,765.24 L339.00,765.31 L339.50,765.36 L340.00,765.39 L340.50,765.39 L341.00,765.37 L341.50,765.32 L342.00,765.24 L342.50,765.13 L343.00,764.98 L343.50,764.80 L344.00,764.58 L344.50,764.30 L345.00,763.98 L345.50,763.59 L346.00,763.14 L346.50,762.63 L347.00,762.07 L347.50,761.48 L348.00,760.92 L348.50,760.47 L349.00,760.26 L349.50,760.27 L350.00,760.35 L350.50,760.41 L351.00,760.41 L351.50,760.30 L352.00,760.06 L352.50,759.66 L353.00,759.10 L353.50,758.34 L354.00,757.35 L354.50,756.10 L355.00,754.52 L355.50,752.54 L356.00,750.09 L356.50,747.08 L357.00,743.44 L357.50,739.18 L358.00,734.53 L358.50,730.08 L359.00,727.00 L359.50,727.48 L360.00,731.07 L360.50,735.75 L361.00,740.48 L361.50,744.75 L362.00,748.40 L362.50,751.44 L363.00,753.94 L363.50,756.00 L364.00,757.70 L364.50,759.11 L365.00,760.29 L365.50,761.28 L366.00,762.12 L366.50,762.84 L367.00,763.45 L367.50,763.98 L368.00,764.44 L368.50,764.84 L369.00,765.19 L369.50,765.49 L370.00,765.76 L370.50,766.00 L371.00,766.21 L371.50,766.40 L372.00,766.57 L372.50,766.71 L373.00,766.84 L373.50,766.96 L374.00,767.06 L374.50,767.15 L375.00,767.22 L375.50,767.29 L376.00,767.34 L376.50,767.39 L377.00,767.43 L377.50,767.46 L378.00,767.48 L378.50,767.49 L379.00,767.50 L379.50,767.49 L380.00,767.49 L380.50,767.47 L381.00,767.44 L381.50,767.41 L382.00,767.37 L382.50,767.32 L383.00,767.26 L383.50,767.20 L384.00,767.12 L384.50,767.04 L385.00,766.94 L385.50,766.83 L386.00,766.71 L386.50,766.58 L387.00,766.43 L387.50,766.26 L388.00,766.08 L388.50,765.88 L389.00,765.66 L389.50,765.41 L390.00,765.14 L390.50,764.83 L391.00,764.50 L391.50,764.12 L392.00,763.70 L392.50,763.23 L393.00,762.71 L393.50,762.12 L394.00,761.45 L394.50,760.69 L395.00,759.83 L395.50,758.85 L396.00,757.72 L396.50,756.42 L397.00,754.92 L397.50,753.17 L398.00,751.14 L398.50,748.76 L399.00,745.98 L399.50,742.72 L400.00,738.93 L400.50,734.57 L401.00,729.66 L401.50,724.34 L402.00,718.95 L402.50,714.15 L403.00,710.97 L403.50,711.26 L404.00,714.74 L404.50,719.66 L405.00,725.04 L405.50,730.28 L406.00,735.07 L406.50,739.29 L407.00,742.97 L407.50,746.19 L408.00,748.96 L408.50,751.31 L409.00,753.29 L409.50,754.95 L410.00,756.35 L410.50,757.48 L411.00,758.37 L411.50,758.99 L412.00,759.30 L412.50,759.30 L413.00,759.31 L413.50,760.28 L414.00,761.64 L414.50,762.79 L415.00,763.69 L415.50,764.39 L416.00,764.95 L416.50,765.43 L417.00,765.84 L417.50,766.19 L418.00,766.51 L418.50,766.79 L419.00,767.04 L419.50,767.27 L420.00,767.49 L420.50,767.68 L421.00,767.86 L421.50,768.02 L422.00,768.18 L422.50,768.32 L423.00,768.46 L423.50,768.58 L424.00,768.70 L424.50,768.81 L425.00,768.91 L425.50,769.01 L426.00,769.10 L426.50,769.19 L427.00,769.27 L427.50,769.35 L428.00,769.42 L428.50,769.50 L429.00,769.56 L429.50,769.63 L430.00,769.69 L430.50,769.75 L431.00,769.80 L431.50,769.86 L432.00,769.91 L432.50,769.96 L433.00,770.01 L433.50,770.05 L434.00,770.09 L434.50,770.14 L435.00,770.18 L435.50,770.22 L436.00,770.25 L436.50,770.29 L437.00,770.33 L437.50,770.36 L438.00,770.39 L438.50,770.42 L439.00,770.46 L439.50,770.49 L440.00,770.51 L440.50,770.54 L441.00,770.57 L441.50,770.60 L442.00,770.62 L442.50,770.65 L443.00,770.67 L443.50,770.69 L444.00,770.72 L444.50,770.74 L445.00,770.76 L445.50,770.78 L446.00,770.80 L446.50,770.83 L447.00,770.85 L447.50,770.86 L448.00,770.88 L448.50,770.90 L449.00,770.92 L449.50,770.94 L450.00,770.96 L450.50,770.97 L451.00,770.99 L451.50,771.01 L452.00,771.02 L452.50,771.04 L453.00,771.05 L453.50,771.07 L454.00,771.08 L454.50,771.10 L455.00,771.11 L455.50,771.13 L456.00,771.14 L456.50,771.15 L457.00,771.17 L457.50,771.18 L458.00,771.19 L458.50,771.21 L459.00,771.22 L459.50,771.23 L460.00,771.24 L460.50,771.25 L461.00,771.27 L461.50,771.28 L462.00,771.29 L462.50,771.30 L463.00,771.31 L463.50,771.32 L464.00,771.33 L464.50,771.34 L465.00,771.35 L465.50,771.37 L466.00,771.38 L466.50,771.39 L467.00,771.40 L467.50,771.41 L468.00,771.42 L468.50,771.43 L469.00,771.43 L469.50,771.44 L470.00,771.45 L470.50,771.46 L471.00,771.47 L471.50,771.48 L472.00,771.49 L472.50,771.50 L473.00,771.51 L473.50,771.52 L474.00,771.53 L474.50,771.53 L475.00,771.54 L475.50,771.55 L476.00,771.56 L476.50,771.57 L477.00,771.58 L477.50,771.58 L478.00,771.59 L478.50,771.60 L479.00,771.61 L479.50,771.62 L480.00,771.62 L480.50,771.63 L481.00,771.64 L481.50,771.65 L482.00,771.65 L482.50,771.66 L483.00,771.67 L483.50,771.68 L484.00,771.68 L484.50,771.69 L485.00,771.70 L485.50,771.70 L486.00,771.71 L486.50,771.72 L487.00,771.73 L487.50,771.73 L488.00,771.74 L488.50,771.75 L489.00,771.75 L489.50,771.76 L490.00,771.77 L490.50,771.77 L491.00,771.78 L491.50,771.79 L492.00,771.79 L492.50,771.80 L493.00,771.81 L493.50,771.81 L494.00,771.82 L494.50,771.83 L495.00,771.83 L495.50,771.84 L496.00,771.84 L496.50,771.85 L497.00,771.86" stroke="#b092d8"/>
<path d="M23.50,704.47 L24.00,704.54 L24.50,704.62 L25.00,704.73 L25.50,704.84 L26.00,704.95 L26.50,705.05 L27.00,705.11 L27.50,705.14 L28.00,705.12 L28.50,705.05 L29.00,704.95 L29.50,704.82 L30.00,704.69 L30.50,704.55 L31.00,704.42 L31.50,704.30 L32.00,704.19 L32.50,704.08 L33.00,703.98 L33.50,703.87 L34.00,703.75 L34.50,703.61 L35.00,703.46 L35.50,703.29 L36.00,703.10 L36.50,702.88 L37.00,702.61 L37.50,702.30 L38.00,701.93 L38.50,701.51 L39.00,701.08 L39.50,700.69 L40.00,700.39 L40.50,700.18 L41.00,700.07 L41.50,700.02 L42.00,699.98 L42.50,699.94 L43.00,699.88 L43.50,699.82 L44.00,699.75 L44.50,699.68 L45.00,699.60 L45.50,699.50 L46.00,699.39 L46.50,699.32 L47.00,699.32 L47.50,699.45 L48.00,699.73 L48.50,700.12 L49.00,700.58 L49.50,701.04 L50.00,701.45 L50.50,701.81 L51.00,702.11 L51.50,702.37 L52.00,702.61 L52.50,702.82 L53.00,703.00 L53.50,703.17 L54.00,703.31 L54.50,703.44 L55.00,703.54 L55.50,703.62 L56.00,703.67 L56.50,703.71 L57.00,703.72 L57.50,703.71 L58.00,703.66 L58.50,703.53 L59.00,703.25 L59.50,702.59 L60.00,701.09 L60.50,697.91 L61.00,691.74 L61.50,681.01 L62.00,664.44 L62.50,642.01 L63.00,615.89 L63.50,590.63 L64.00,572.43 L64.50,567.13 L65.00,576.83 L65.50,598.17 L66.00,624.92 L66.50,651.15 L67.00,672.83 L67.50,688.38 L68.00,698.21 L68.50,703.77 L69.00,706.61 L69.50,707.92 L70.00,708.40 L70.50,708.39 L71.00,708.23 L71.50,708.35 L72.00,708.99 L72.50,709.98 L73.00,710.96 L73.50,711.79 L74.00,712.49 L74.50,713.14 L75.00,713.73 L75.50,714.25 L76.00,714.69 L76.50,715.04 L77.00,715.32 L77.50,715.53 L78.00,715.68 L78.50,715.80 L79.00,715.88 L79.50,715.94 L80.00,715.98 L80.50,716.01 L81.00,716.04 L81.50,716.05 L82.00,716.06 L82.50,716.07 L83.00,716.07 L83.50,716.07 L84.00,716.07 L84.50,716.07 L85.00,716.07 L85.50,716.07 L86.00,716.06 L86.50,716.05 L87.00,716.05 L87.50,716.04 L88.00,716.03 L88.50,716.02 L89.00,716.01 L89.50,715.99 L90.00,715.98 L90.50,715.96 L91.00,715.94 L91.50,715.92 L92.00,715.89 L92.50,715.87 L93.00,715.84 L93.50,715.80 L94.00,715.76 L94.50,715.72 L95.00,715.67 L95.50,715.61 L96.00,715.54 L96.50,715.47 L97.00,715.38 L97.50,715.27 L98.00,715.14 L98.50,714.99 L99.00,714.81 L99.50,714.58 L100.00,714.30 L100.50,713.94 L101.00,713.47 L101.50,712.85 L102.00,712.01 L102.50,710.83 L103.00,709.16 L103.50,706.77 L104.00,703.51 L104.50,699.84 L105.00,698.34 L105.50,701.26 L106.00,704.90 L106.50,707.79 L107.00,709.85 L107.50,711.28 L108.00,712.29 L108.50,713.01 L109.00,713.54 L109.50,713.94 L110.00,714.25 L110.50,714.48 L111.00,714.66 L111.50,714.80 L112.00,714.91 L112.50,714.98 L113.00,715.04 L113.50,715.07 L114.00,715.08 L114.50,715.06 L115.00,715.03 L115.50,714.96 L116.00,714.87 L116.50,714.74 L117.00,714.57 L117.50,714.37 L118.00,714.14 L118.50,713.92 L119.00,713.81 L119.50,713.92 L120.00,714.14 L120.50,714.39 L121.00,714.61 L121.50,714.79 L122.00,714.94 L122.50,715.05 L123.00,715.14 L123.50,715.20 L124.00,715.25 L124.50,715.28 L125.00,715.29 L125.50,715.29 L126.00,715.28 L126.50,715.25 L127.00,715.22 L127.50,715.17 L128.00,715.11 L128.50,715.04 L129.00,714.95 L129.50,714.85 L130.00,714.72 L130.50,714.57 L131.00,714.40 L131.50,714.19 L132.00,713.94 L132.50,713.66 L133.00,713.34 L133.50,712.98 L134.00,712.61 L134.50,712.24 L135.00,711.93 L135.50,711.77 L136.00,711.86 L136.50,712.11 L137.00,712.42 L137.50,712.75 L138.00,713.05 L138.50,713.32 L139.00,713.54 L139.50,713.72 L140.00,713.85 L140.50,713.95 L141.00,714.01 L141.50,714.04 L142.00,714.03 L142.50,713.99 L143.00,713.91 L143.50,713.79 L144.00,713.63 L144.50,713.43 L145.00,713.18 L145.50,712.88 L146.00,712.51 L146.50,712.09 L147.00,711.63 L147.50,711.14 L148.00,710.69 L148.50,710.36 L149.00,710.28 L149.50,710.56 L150.00,711.01 L150.50,711.53 L151.00,712.05 L151.50,712.54 L152.00,712.98 L152.50,713.37 L153.00,713.71 L153.50,714.00 L154.00,714.25 L154.50,714.46 L155.00,714.64 L155.50,714.80 L156.00,714.94 L156.50,715.06 L157.00,715.16 L157.50,715.25 L158.00,715.33 L158.50,715.40 L159.00,715.47 L159.50,715.52 L160.00,715.57 L160.50,715.61 L161.00,715.65 L161.50,715.68 L162.00,715.71 L162.50,715.74 L163.00,715.76 L163.50,715.78 L164.00,715.80 L164.50,715.81 L165.00,715.83 L165.50,715.84 L166.00,715.85 L166.50,715.85 L167.00,715.86 L167.50,715.86 L168.00,715.86 L168.50,715.86 L169.00,715.85 L169.50,715.85 L170.00,715.84 L170.50,715.83 L171.00,715.82 L171.50,715.81 L172.00,715.80 L172.50,715.78 L173.00,715.76 L173.50,715.74 L174.00,715.72 L174.50,715.69 L175.00,715.66 L175.50,715.63 L176.00,715.60 L176.50,715.56 L177.00,715.52 L177.50,715.47 L178.00,715.42 L178.50,715.36 L179.00,715.30 L179.50,715.22 L180.00,715.15 L180.50,715.06 L181.00,714.96 L181.50,714.85 L182.00,714.72 L182.50,714.58 L183.00,714.42 L183.50,714.23 L184.00,714.02 L184.50,713.77 L185.00,713.47 L185.50,713.13 L186.00,712.72 L186.50,712.22 L187.00,711.62 L187.50,710.88 L188.00,709.97 L188.50,708.82 L189.00,707.38 L189.50,705.58 L190.00,703.35 L190.50,700.71 L191.00,697.91 L191.50,695.63 L192.00,695.33 L192.50,697.33 L193.00,700.06 L193.50,702.72 L194.00,704.99 L194.50,706.84 L195.00,708.30 L195.50,709.45 L196.00,710.36 L196.50,711.08 L197.00,711.66 L197.50,712.12 L198.00,712.49 L198.50,712.78 L199.00,713.02 L199.50,713.20 L200.00,713.35 L200.50,713.45 L201.00,713.52 L201.50,713.56 L202.00,713.57 L202.50,713.54 L203.00,713.48 L203.50,713.37 L204.00,713.23 L204.50,713.05 L205.00,712.82 L205.50,712.58 L206.00,712.36 L206.50,712.25 L207.00,712.32 L207.50,712.46 L208.00,712.62 L208.50,712.74 L209.00,712.83 L209.50,712.86 L210.00,712.85 L210.50,712.80 L211.00,712.70 L211.50,712.57 L212.00,712.39 L212.50,712.17 L213.00,711.92 L213.50,711.63 L214.00,711.31 L214.50,710.98 L215.00,710.66 L215.50,710.40 L216.00,710.23 L216.50,710.24 L217.00,710.32 L217.50,710.43 L218.00,710.55 L218.50,710.64 L219.00,710.70 L219.50,710.71 L220.00,710.67 L220.50,710.59 L221.00,710.45 L221.50,710.26 L222.00,710.01 L222.50,709.70 L223.00,709.33 L223.50,708.89 L224.00,708.37 L224.50,707.75 L225.00,707.03 L225.50,706.19 L226.00,705.20 L226.50,704.03 L227.00,702.66 L227.50,701.03 L228.00,699.10 L228.50,696.79 L229.00,694.05 L229.50,690.78 L230.00,686.92 L230.50,682.45 L231.00,677.45 L231.50,672.20 L232.00,667.36 L232.50,664.04 L233.00,664.26 L233.50,667.81 L234.00,672.74 L234.50,678.00 L235.00,682.97 L235.50,687.39 L236.00,691.20 L236.50,694.43 L237.00,697.15 L237.50,699.43 L238.00,701.35 L238.50,702.97 L239.00,704.35 L239.50,705.52 L240.00,706.53 L240.50,707.40 L241.00,708.15 L241.50,708.81 L242.00,709.38 L242.50,709.88 L243.00,710.32 L243.50,710.70 L244.00,711.05 L244.50,711.35 L245.00,711.62 L245.50,711.86 L246.00,712.07 L246.50,712.25 L247.00,712.42 L247.50,712.56 L248.00,712.69 L248.50,712.80 L249.00,712.89 L249.50,712.97 L250.00,713.03 L250.50,713.08 L251.00,713.12 L251.50,713.14 L252.00,713.16 L252.50,713.16 L253.00,713.14 L253.50,713.12 L254.00,713.08 L254.50,713.02 L255.00,712.95 L255.50,712.87 L256.00,712.76 L256.50,712.64 L257.00,712.49 L257.50,712.32 L258.00,712.11 L258.50,711.88 L259.00,711.60 L259.50,711.29 L260.00,710.91 L260.50,710.47 L261.00,709.95 L261.50,709.34 L262.00,708.61 L262.50,707.73 L263.00,706.67 L263.50,705.41 L264.00,703.89 L264.50,702.13 L265.00,700.15 L265.50,698.14 L266.00,696.44 L266.50,695.76 L267.00,696.37 L267.50,697.44 L268.00,698.52 L268.50,699.35 L269.00,699.83 L269.50,699.93 L270.00,699.61 L270.50,698.87 L271.00,697.67 L271.50,695.95 L272.00,693.61 L272.50,690.54 L273.00,686.60 L273.50,681.69 L274.00,675.83 L274.50,669.39 L275.00,663.48 L275.50,660.29 L276.00,663.11 L276.50,669.07 L277.00,675.75 L277.50,681.97 L278.00,687.27 L278.50,691.62 L279.00,695.13 L279.50,697.94 L280.00,700.20 L280.50,702.02 L281.00,703.48 L281.50,704.64 L282.00,705.56 L282.50,706.27 L283.00,706.79 L283.50,707.12 L284.00,707.28 L284.50,707.23 L285.00,706.95 L285.50,706.40 L286.00,705.52 L286.50,704.26 L287.00,702.64 L287.50,700.98 L288.00,700.11 L288.50,701.28 L289.00,703.33 L289.50,705.38 L290.00,707.12 L290.50,708.49 L291.00,709.56 L291.50,710.39 L292.00,711.04 L292.50,711.56 L293.00,711.98 L293.50,712.32 L294.00,712.59 L294.50,712.81 L295.00,713.00 L295.50,713.15 L296.00,713.27 L296.50,713.36 L297.00,713.42 L297.50,713.47 L298.00,713.49 L298.50,713.49 L299.00,713.47 L299.50,713.43 L300.00,713.35 L300.50,713.25 L301.00,713.12 L301.50,712.94 L302.00,712.71 L302.50,712.42 L303.00,712.05 L303.50,711.57 L304.00,710.95 L304.50,710.14 L305.00,709.09 L305.50,707.72 L306.00,706.00 L306.50,704.05 L307.00,702.35 L307.50,702.09 L308.00,703.52 L308.50,705.35 L309.00,706.99 L309.50,708.28 L310.00,709.24 L310.50,709.94 L311.00,710.42 L311.50,710.75 L312.00,710.96 L312.50,711.06 L313.00,711.08 L313.50,711.02 L314.00,710.89 L314.50,710.70 L315.00,710.44 L315.50,710.11 L316.00,709.70 L316.50,709.21 L317.00,708.61 L317.50,707.90 L318.00,707.06 L318.50,706.04 L319.00,704.83 L319.50,703.38 L320.00,701.62 L320.50,699.49 L321.00,696.90 L321.50,693.77 L322.00,690.00 L322.50,685.56 L323.00,680.54 L323.50,675.35 L324.00,670.86 L324.50,668.65 L325.00,670.87 L325.50,675.36 L326.00,680.56 L326.50,685.57 L327.00,690.02 L327.50,693.80 L328.00,696.94 L328.50,699.53 L329.00,701.67 L329.50,703.44 L330.00,704.91 L330.50,706.14 L331.00,707.17 L331.50,708.03 L332.00,708.77 L332.50,709.39 L333.00,709.93 L333.50,710.38 L334.00,710.77 L334.50,711.10 L335.00,711.38 L335.50,711.62 L336.00,711.81 L336.50,711.97 L337.00,712.10 L337.50,712.20 L338.00,712.26 L338.50,712.30 L339.00,712.31 L339.50,712.29 L340.00,712.24 L340.50,712.16 L341.00,712.04 L341.50,711.88 L342.00,711.69 L342.50,711.45 L343.00,711.15 L343.50,710.80 L344.00,710.37 L344.50,709.87 L345.00,709.27 L345.50,708.57 L346.00,707.77 L346.50,706.86 L347.00,705.88 L347.50,704.88 L348.00,703.95 L348.50,703.27 L349.00,703.13 L349.50,703.45 L350.00,703.95 L350.50,704.49 L351.00,704.96 L351.50,705.30 L352.00,705.46 L352.50,705.45 L353.00,705.23 L353.50,704.80 L354.00,704.13 L354.50,703.18 L355.00,701.91 L355.50,700.27 L356.00,698.17 L356.50,695.54 L357.00,692.33 L357.50,688.54 L358.00,684.37 L358.50,680.35 L359.00,677.57 L359.50,678.02 L360.00,681.34 L360.50,685.65 L361.00,690.00 L361.50,693.92 L362.00,697.27 L362.50,700.06 L363.00,702.36 L363.50,704.25 L364.00,705.81 L364.50,707.10 L365.00,708.18 L365.50,709.10 L366.00,709.87 L366.50,710.53 L367.00,711.09 L367.50,711.58 L368.00,712.00 L368.50,712.37 L369.00,712.70 L369.50,712.98 L370.00,713.23 L370.50,713.46 L371.00,713.65 L371.50,713.83 L372.00,713.98 L372.50,714.12 L373.00,714.24 L373.50,714.35 L374.00,714.44 L374.50,714.52 L375.00,714.60 L375.50,714.66 L376.00,714.71 L376.50,714.75 L377.00,714.79 L377.50,714.81 L378.00,714.83 L378.50,714.85 L379.00,714.85 L379.50,714.85 L380.00,714.84 L380.50,714.82 L381.00,714.80 L381.50,714.76 L382.00,714.72 L382.50,714.68 L383.00,714.62 L383.50,714.56 L384.00,714.48 L384.50,714.40 L385.00,714.30 L385.50,714.20 L386.00,714.08 L386.50,713.95 L387.00,713.80 L387.50,713.64 L388.00,713.46 L388.50,713.26 L389.00,713.04 L389.50,712.80 L390.00,712.52 L390.50,712.22 L391.00,711.89 L391.50,711.51 L392.00,711.09 L392.50,710.62 L393.00,710.09 L393.50,709.49 L394.00,708.81 L394.50,708.04 L395.00,707.16 L395.50,706.15 L396.00,704.99 L396.50,703.64 L397.00,702.08 L397.50,700.26 L398.00,698.12 L398.50,695.61 L399.00,692.67 L399.50,689.23 L400.00,685.24 L400.50,680.68 L401.00,675.66 L401.50,670.42 L402.00,665.51 L402.50,661.81 L403.00,660.88 L403.50,663.61 L404.00,668.10 L404.50,673.27 L405.00,678.41 L405.50,683.16 L406.00,687.35 L406.50,690.98 L407.00,694.11 L407.50,696.84 L408.00,699.18 L408.50,701.16 L409.00,702.82 L409.50,704.22 L410.00,705.38 L410.50,706.32 L411.00,707.04 L411.50,707.51 L412.00,707.69 L412.50,707.58 L413.00,707.49 L413.50,708.38 L414.00,709.66 L414.50,710.75 L415.00,711.58 L415.50,712.23 L416.00,712.75 L416.50,713.18 L417.00,713.55 L417.50,713.87 L418.00,714.16 L418.50,714.41 L419.00,714.64 L419.50,714.84 L420.00,715.03 L420.50,715.21 L421.00,715.37 L421.50,715.51 L422.00,715.65 L422.50,715.78 L423.00,715.90 L423.50,716.01 L424.00,716.12 L424.50,716.21 L425.00,716.31 L425.50,716.40 L426.00,716.48 L426.50,716.56 L427.00,716.63 L427.50,716.70 L428.00,716.77 L428.50,716.83 L429.00,716.89 L429.50,716.95 L430.00,717.01 L430.50,717.06 L431.00,717.11 L431.50,717.16 L432.00,717.20 L432.50,717.25 L433.00,717.29 L433.50,717.33 L434.00,717.37 L434.50,717.41 L435.00,717.45 L435.50,717.48 L436.00,717.52 L436.50,717.55 L437.00,717.58 L437.50,717.61 L438.00,717.64 L438.50,717.67 L439.00,717.70 L439.50,717.73 L440.00,717.75 L440.50,717.78 L441.00,717.80 L441.50,717.83 L442.00,717.85 L442.50,717.87 L443.00,717.89 L443.50,717.92 L444.00,717.94 L444.50,717.96 L445.00,717.98 L445.50,718.00 L446.00,718.02 L446.50,718.03 L447.00,718.05 L447.50,718.07 L448.00,718.09 L448.50,718.10 L449.00,718.12 L449.50,718.14 L450.00,718.15 L450.50,718.17 L451.00,718.18 L451.50,718.20 L452.00,718.21 L452.50,718.23 L453.00,718.24 L453.50,718.26 L454.00,718.27 L454.50,718.28 L455.00,718.30 L455.50,718.31 L456.00,718.32 L456.50,718.33 L457.00,718.35 L457.50,718.36 L458.00,718.37 L458.50,718.38 L459.00,718.39 L459.50,718.40 L460.00,718.41 L460.50,718.43 L461.00,718.44 L461.50,718.45 L462.00,718.46 L462.50,718.47 L463.00,718.48 L463.50,718.49 L464.00,718.50 L464.50,718.51 L465.00,718.52 L465.50,718.53 L466.00,718.54 L466.50,718.54 L467.00,718.55 L467.50,718.56 L468.00,718.57 L468.50,718.58 L469.00,718.59 L469.50,718.60 L470.00,718.61 L470.50,718.61 L471.00,718.62 L471.50,718.63 L472.00,718.64 L472.50,718.65 L473.00,718.66 L473.50,718.66 L474.00,718.67 L474.50,718.68 L475.00,718.69 L475.50,718.69 L476.00,718.70 L476.50,718.71 L477.00,718.72 L477.50,718.72 L478.00,718.73 L478.50,718.74 L479.00,718.75 L479.50,718.75 L480.00,718.76 L480.50,718.77 L481.00,718.77 L481.50,718.78 L482.00,718.79 L482.50,718.79 L483.00,718.80 L483.50,718.81 L484.00,718.81 L484.50,718.82 L485.00,718.83 L485.50,718.83 L486.00,718.84 L486.50,718.85 L487.00,718.85 L487.50,718.86 L488.00,718.87 L488.50,718.87 L489.00,718.88 L489.50,718.88 L490.00,718.89 L490.50,718.90 L491.00,718.90 L491.50,718.91 L492.00,718.91 L492.50,718.92 L493.00,718.93 L493.50,718.93 L494.00,718.94 L494.50,718.94 L495.00,718.95 L495.50,718.95 L496.00,718.96 L496.50,718.97 L497.00,718.97" stroke="#c9ac42"/>
</g>
<line x1="24.7" y1="57.4" x2="24.7" y2="448.3" stroke="#000" stroke-width="1.8"/>
<line x1="23.8" y1="447.4" x2="509" y2="447.4" stroke="#000" stroke-width="1.8"/>
<line x1="24.74" y1="447" x2="24.74" y2="450.6" stroke="#000" stroke-width="1.6"/>
<line x1="51.60" y1="447" x2="51.60" y2="454.3" stroke="#000" stroke-width="1.6"/>
<text transform="translate(51.60,472.8) scale(1,1.15)" text-anchor="middle" font-size="16" font-family="Liberation Sans, sans-serif">8.4</text>
<line x1="78.46" y1="447" x2="78.46" y2="450.6" stroke="#000" stroke-width="1.6"/>
<line x1="105.32" y1="447" x2="105.32" y2="454.3" stroke="#000" stroke-width="1.6"/>
<text transform="translate(105.32,472.8) scale(1,1.15)" text-anchor="middle" font-size="16" font-family="Liberation Sans, sans-serif">8.2</text>
<line x1="132.18" y1="447" x2="132.18" y2="450.6" stroke="#000" stroke-width="1.6"/>
<line x1="159.04" y1="447" x2="159.04" y2="454.3" stroke="#000" stroke-width="1.6"/>
<text transform="translate(159.04,472.8) scale(1,1.15)" text-anchor="middle" font-size="16" font-family="Liberation Sans, sans-serif">8.0</text>
<line x1="185.90" y1="447" x2="185.90" y2="450.6" stroke="#000" stroke-width="1.6"/>
<line x1="212.76" y1="447" x2="212.76" y2="454.3" stroke="#000" stroke-width="1.6"/>
<text transform="translate(212.76,472.8) scale(1,1.15)" text-anchor="middle" font-size="16" font-family="Liberation Sans, sans-serif">7.8</text>
<line x1="239.62" y1="447" x2="239.62" y2="450.6" stroke="#000" stroke-width="1.6"/>
<line x1="266.48" y1="447" x2="266.48" y2="454.3" stroke="#000" stroke-width="1.6"/>
<text transform="translate(266.48,472.8) scale(1,1.15)" text-anchor="middle" font-size="16" font-family="Liberation Sans, sans-serif">7.6</text>
<line x1="293.34" y1="447" x2="293.34" y2="450.6" stroke="#000" stroke-width="1.6"/>
<line x1="320.20" y1="447" x2="320.20" y2="454.3" stroke="#000" stroke-width="1.6"/>
<text transform="translate(320.20,472.8) scale(1,1.15)" text-anchor="middle" font-size="16" font-family="Liberation Sans, sans-serif">7.4</text>
<line x1="347.06" y1="447" x2="347.06" y2="450.6" stroke="#000" stroke-width="1.6"/>
<line x1="373.92" y1="447" x2="373.92" y2="454.3" stroke="#000" stroke-width="1.6"/>
<text transform="translate(373.92,472.8) scale(1,1.15)" text-anchor="middle" font-size="16" font-family="Liberation Sans, sans-serif">7.2</text>
<line x1="400.78" y1="447" x2="400.78" y2="450.6" stroke="#000" stroke-width="1.6"/>
<line x1="427.64" y1="447" x2="427.64" y2="454.3" stroke="#000" stroke-width="1.6"/>
<text transform="translate(427.64,472.8) scale(1,1.15)" text-anchor="middle" font-size="16" font-family="Liberation Sans, sans-serif">7.0</text>
<line x1="454.50" y1="447" x2="454.50" y2="450.6" stroke="#000" stroke-width="1.6"/>
<line x1="481.36" y1="447" x2="481.36" y2="454.3" stroke="#000" stroke-width="1.6"/>
<text transform="translate(481.36,472.8) scale(1,1.15)" text-anchor="middle" font-size="16" font-family="Liberation Sans, sans-serif">6.8</text>
<line x1="508.22" y1="447" x2="508.22" y2="450.6" stroke="#000" stroke-width="1.6"/>
<text transform="translate(266.2,504.2) scale(1,1.12)" text-anchor="middle" font-size="19.5" font-family="Liberation Sans, sans-serif">ppm</text>
<line x1="22.3" y1="599.4" x2="22.3" y2="982.6" stroke="#000" stroke-width="1.8"/>
<line x1="21.4" y1="981.9" x2="497.6" y2="981.9" stroke="#000" stroke-width="1.8"/>
<line x1="22.50" y1="981.5" x2="22.50" y2="989.2" stroke="#000" stroke-width="1.6"/>
<text transform="translate(22.50,1007.8) scale(1,1.15)" text-anchor="middle" font-size="16" font-family="Liberation Sans, sans-serif">2.0</text>
<line x1="69.92" y1="981.5" x2="69.92" y2="985.3" stroke="#000" stroke-width="1.6"/>
<line x1="117.34" y1="981.5" x2="117.34" y2="989.2" stroke="#000" stroke-width="1.6"/>
<text transform="translate(117.34,1007.8) scale(1,1.15)" text-anchor="middle" font-size="16" font-family="Liberation Sans, sans-serif">1.8</text>
<line x1="164.76" y1="981.5" x2="164.76" y2="985.3" stroke="#000" stroke-width="1.6"/>
<line x1="212.18" y1="981.5" x2="212.18" y2="989.2" stroke="#000" stroke-width="1.6"/>
<text transform="translate(212.18,1007.8) scale(1,1.15)" text-anchor="middle" font-size="16" font-family="Liberation Sans, sans-serif">1.6</text>
<line x1="259.60" y1="981.5" x2="259.60" y2="985.3" stroke="#000" stroke-width="1.6"/>
<line x1="307.02" y1="981.5" x2="307.02" y2="989.2" stroke="#000" stroke-width="1.6"/>
<text transform="translate(307.02,1007.8) scale(1,1.15)" text-anchor="middle" font-size="16" font-family="Liberation Sans, sans-serif">1.4</text>
<line x1="354.44" y1="981.5" x2="354.44" y2="985.3" stroke="#000" stroke-width="1.6"/>
<line x1="401.86" y1="981.5" x2="401.86" y2="989.2" stroke="#000" stroke-width="1.6"/>
<text transform="translate(401.86,1007.8) scale(1,1.15)" text-anchor="middle" font-size="16" font-family="Liberation Sans, sans-serif">1.2</text>
<line x1="449.28" y1="981.5" x2="449.28" y2="985.3" stroke="#000" stroke-width="1.6"/>
<line x1="496.70" y1="981.5" x2="496.70" y2="989.2" stroke="#000" stroke-width="1.6"/>
<text transform="translate(496.70,1007.8) scale(1,1.15)" text-anchor="middle" font-size="16" font-family="Liberation Sans, sans-serif">1.0</text>
<text transform="translate(259.5,1037.8) scale(1,1.12)" text-anchor="middle" font-size="19.5" font-family="Liberation Sans, sans-serif">ppm</text>
<rect x="456.3" y="10.3" width="114.0" height="151" fill="#fff" stroke="#4a4a4a" stroke-width="1.25"/>
<line x1="459.5" y1="23.90" x2="503.5" y2="23.90" stroke="#c9ac42" stroke-width="1.3"/>
<text transform="translate(509.6,30.80) scale(1,1.04)" font-size="20.2" letter-spacing="-0.55" word-spacing="1.6" font-family="Liberation Sans, sans-serif">1.0 Eq</text>
<line x1="459.5" y1="48.75" x2="503.5" y2="48.75" stroke="#b092d8" stroke-width="1.3"/>
<text transform="translate(509.6,55.65) scale(1,1.04)" font-size="20.2" letter-spacing="-0.55" word-spacing="1.6" font-family="Liberation Sans, sans-serif">0.8 Eq</text>
<line x1="459.5" y1="73.60" x2="503.5" y2="73.60" stroke="#58b38e" stroke-width="1.3"/>
<text transform="translate(509.6,80.50) scale(1,1.04)" font-size="20.2" letter-spacing="-0.55" word-spacing="1.6" font-family="Liberation Sans, sans-serif">0.6 Eq</text>
<line x1="459.5" y1="98.45" x2="503.5" y2="98.45" stroke="#4679c0" stroke-width="1.3"/>
<text transform="translate(509.6,105.35) scale(1,1.04)" font-size="20.2" letter-spacing="-0.55" word-spacing="1.6" font-family="Liberation Sans, sans-serif">0.4 Eq</text>
<line x1="459.5" y1="123.30" x2="503.5" y2="123.30" stroke="#dc5f6f" stroke-width="1.3"/>
<text transform="translate(509.6,130.20) scale(1,1.04)" font-size="20.2" letter-spacing="-0.55" word-spacing="1.6" font-family="Liberation Sans, sans-serif">0.2 Eq</text>
<line x1="459.5" y1="148.15" x2="503.5" y2="148.15" stroke="#606060" stroke-width="1.3"/>
<text transform="translate(509.6,155.05) scale(1,1.04)" font-size="20.2" letter-spacing="-0.55" word-spacing="1.6" font-family="Liberation Sans, sans-serif">0.0 Eq</text>
<rect x="459.3" y="551.4" width="113" height="150" fill="#fff" stroke="#4a4a4a" stroke-width="1.25"/>
<line x1="462" y1="565.20" x2="506" y2="565.20" stroke="#c9ac42" stroke-width="1.3"/>
<text transform="translate(512.2,572.10) scale(1,1.04)" font-size="20.2" letter-spacing="-0.55" word-spacing="1.6" font-family="Liberation Sans, sans-serif">1.0 Eq</text>
<line x1="462" y1="589.80" x2="506" y2="589.80" stroke="#b092d8" stroke-width="1.3"/>
<text transform="translate(512.2,596.70) scale(1,1.04)" font-size="20.2" letter-spacing="-0.55" word-spacing="1.6" font-family="Liberation Sans, sans-serif">0.8 Eq</text>
<line x1="462" y1="614.40" x2="506" y2="614.40" stroke="#58b38e" stroke-width="1.3"/>
<text transform="translate(512.2,621.30) scale(1,1.04)" font-size="20.2" letter-spacing="-0.55" word-spacing="1.6" font-family="Liberation Sans, sans-serif">0.6 Eq</text>
<line x1="462" y1="639.00" x2="506" y2="639.00" stroke="#4679c0" stroke-width="1.3"/>
<text transform="translate(512.2,645.90) scale(1,1.04)" font-size="20.2" letter-spacing="-0.55" word-spacing="1.6" font-family="Liberation Sans, sans-serif">0.4 Eq</text>
<line x1="462" y1="663.60" x2="506" y2="663.60" stroke="#dc5f6f" stroke-width="1.3"/>
<text transform="translate(512.2,670.50) scale(1,1.04)" font-size="20.2" letter-spacing="-0.55" word-spacing="1.6" font-family="Liberation Sans, sans-serif">0.2 Eq</text>
<line x1="462" y1="688.20" x2="506" y2="688.20" stroke="#606060" stroke-width="1.3"/>
<text transform="translate(512.2,695.10) scale(1,1.04)" font-size="20.2" letter-spacing="-0.55" word-spacing="1.6" font-family="Liberation Sans, sans-serif">0.0 Eq</text>
</svg></body></html>
